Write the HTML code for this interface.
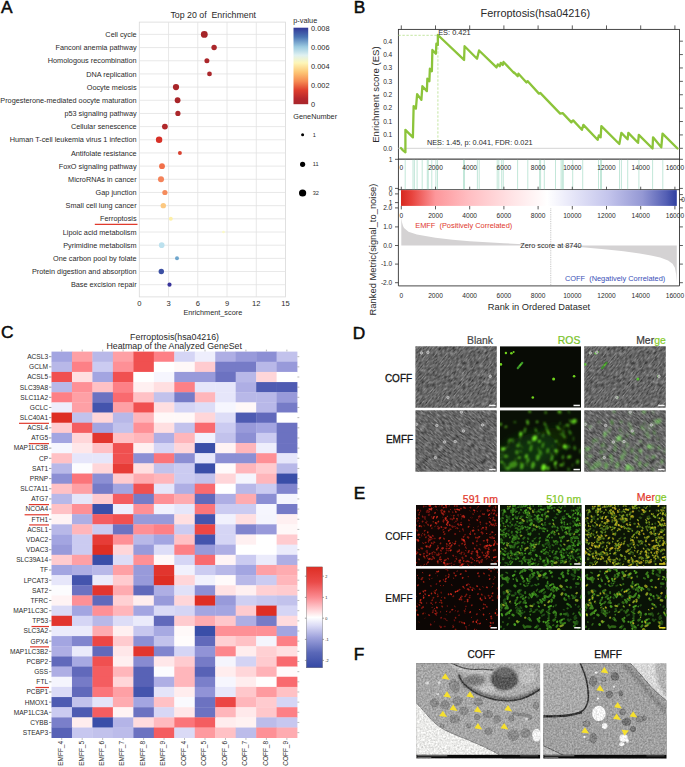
<!DOCTYPE html>
<html><head><meta charset="utf-8"><title>Figure</title>
<style>html,body{margin:0;padding:0;background:#fff;}svg text{font-family:"Liberation Sans",sans-serif;}</style></head>
<body><svg width="685" height="767" viewBox="0 0 685 767" style="display:block;font-family:'Liberation Sans',sans-serif">
<defs><linearGradient id="pv" x1="0" y1="0" x2="0" y2="1"><stop offset="0" stop-color="#313695"/><stop offset="0.12" stop-color="#4a74b4"/><stop offset="0.25" stop-color="#9ccbe1"/><stop offset="0.36" stop-color="#dff1f1"/><stop offset="0.46" stop-color="#fdf6b8"/><stop offset="0.58" stop-color="#fdc776"/><stop offset="0.7" stop-color="#f68b52"/><stop offset="0.82" stop-color="#dd3d2d"/><stop offset="0.93" stop-color="#b5262c"/><stop offset="1" stop-color="#a8272c"/></linearGradient><linearGradient id="rb" x1="0" y1="0" x2="1" y2="0"><stop offset="0" stop-color="#d6281e"/><stop offset="0.04" stop-color="#e8443e"/><stop offset="0.125" stop-color="#fd979b"/><stop offset="0.25" stop-color="#ffbfc3"/><stop offset="0.4" stop-color="#ffe3e5"/><stop offset="0.53" stop-color="#fff"/><stop offset="0.6" stop-color="#ececfa"/><stop offset="0.75" stop-color="#c4c5ec"/><stop offset="0.875" stop-color="#9498d4"/><stop offset="0.96" stop-color="#5560b5"/><stop offset="1" stop-color="#2f3f9f"/></linearGradient><linearGradient id="hb" x1="0" y1="0" x2="0" y2="1"><stop offset="0" stop-color="#de2e24"/><stop offset="0.15" stop-color="#ea4a48"/><stop offset="0.3" stop-color="#fb8a90"/><stop offset="0.42" stop-color="#ffd0d4"/><stop offset="0.5" stop-color="#fff"/><stop offset="0.58" stop-color="#dcdcf6"/><stop offset="0.7" stop-color="#9ea2dc"/><stop offset="0.85" stop-color="#5a68b8"/><stop offset="1" stop-color="#3448a4"/></linearGradient><filter id="gn" x="0" y="0" width="100%" height="100%" color-interpolation-filters="sRGB"><feTurbulence type="fractalNoise" baseFrequency="0.22 0.75" numOctaves="2" seed="5" result="n"/><feColorMatrix in="n" type="matrix" values="0.62 0 0 0 0.088  0.62 0 0 0 0.088  0.62 0 0 0 0.088  0 0 0 0 1"/></filter><filter id="gn2" x="0" y="0" width="100%" height="100%" color-interpolation-filters="sRGB"><feTurbulence type="fractalNoise" baseFrequency="0.22 0.75" numOctaves="2" seed="11" result="n"/><feColorMatrix in="n" type="matrix" values="0.62 0 0 0 0.088  0.62 0 0 0 0.088  0.62 0 0 0 0.088  0 0 0 0 1"/></filter><filter id="b1" x="-20%" y="-20%" width="140%" height="140%"><feGaussianBlur stdDeviation="0.45"/></filter><filter id="b2" x="-20%" y="-20%" width="140%" height="140%"><feGaussianBlur stdDeviation="0.9"/></filter><filter id="b3" x="-50%" y="-50%" width="200%" height="200%"><feGaussianBlur stdDeviation="5"/></filter><filter id="b15" x="-20%" y="-20%" width="140%" height="140%"><feGaussianBlur stdDeviation="0.8"/></filter><filter id="b0" x="-20%" y="-20%" width="140%" height="140%"><feGaussianBlur stdDeviation="0.3"/></filter><filter id="tn" x="0" y="0" width="100%" height="100%" color-interpolation-filters="sRGB"><feTurbulence type="fractalNoise" baseFrequency="0.55" numOctaves="2" seed="9" result="n"/><feColorMatrix in="n" type="matrix" values="0.34 0 0 0 0  0.34 0 0 0 0  0.34 0 0 0 0  0 0 0 0 1" result="m"/><feComposite in="SourceGraphic" in2="m" operator="arithmetic" k1="0" k2="1" k3="1" k4="-0.17"/></filter><filter id="tn2" x="0" y="0" width="100%" height="100%" color-interpolation-filters="sRGB"><feTurbulence type="fractalNoise" baseFrequency="0.55" numOctaves="2" seed="4" result="n"/><feColorMatrix in="n" type="matrix" values="0.34 0 0 0 0  0.34 0 0 0 0  0.34 0 0 0 0  0 0 0 0 1" result="m"/><feComposite in="SourceGraphic" in2="m" operator="arithmetic" k1="0" k2="1" k3="1" k4="-0.17"/></filter></defs>
<rect width="685" height="767" fill="#fff"/>
<text x="1.0" y="12.6" font-size="17.3" fill="#0a0a0a" stroke="#0a0a0a" stroke-width="0.5">A</text>
<text x="353.65" y="12.6" font-size="17.3" fill="#0a0a0a" stroke="#0a0a0a" stroke-width="0.5">B</text>
<text x="1.05" y="338.4" font-size="17.3" fill="#0a0a0a" stroke="#0a0a0a" stroke-width="0.5">C</text>
<text x="352.7" y="338.7" font-size="17.3" fill="#0a0a0a" stroke="#0a0a0a" stroke-width="0.5">D</text>
<text x="353.8" y="498.9" font-size="17.3" fill="#0a0a0a" stroke="#0a0a0a" stroke-width="0.5">E</text>
<text x="353.7" y="659.9" font-size="17.3" fill="#0a0a0a" stroke="#0a0a0a" stroke-width="0.5">F</text>
<rect x="139.3" y="22.1" width="146.2" height="274.79999999999995" fill="#fff" stroke="#d9d9d9" stroke-width="0.8"/>
<line x1="139.3" x2="285.5" y1="34.40" y2="34.40" stroke="#e2e2e2" stroke-width="0.8"/>
<line x1="139.3" x2="285.5" y1="47.57" y2="47.57" stroke="#e2e2e2" stroke-width="0.8"/>
<line x1="139.3" x2="285.5" y1="60.75" y2="60.75" stroke="#e2e2e2" stroke-width="0.8"/>
<line x1="139.3" x2="285.5" y1="73.92" y2="73.92" stroke="#e2e2e2" stroke-width="0.8"/>
<line x1="139.3" x2="285.5" y1="87.09" y2="87.09" stroke="#e2e2e2" stroke-width="0.8"/>
<line x1="139.3" x2="285.5" y1="100.27" y2="100.27" stroke="#e2e2e2" stroke-width="0.8"/>
<line x1="139.3" x2="285.5" y1="113.44" y2="113.44" stroke="#e2e2e2" stroke-width="0.8"/>
<line x1="139.3" x2="285.5" y1="126.62" y2="126.62" stroke="#e2e2e2" stroke-width="0.8"/>
<line x1="139.3" x2="285.5" y1="139.79" y2="139.79" stroke="#e2e2e2" stroke-width="0.8"/>
<line x1="139.3" x2="285.5" y1="152.96" y2="152.96" stroke="#e2e2e2" stroke-width="0.8"/>
<line x1="139.3" x2="285.5" y1="166.14" y2="166.14" stroke="#e2e2e2" stroke-width="0.8"/>
<line x1="139.3" x2="285.5" y1="179.31" y2="179.31" stroke="#e2e2e2" stroke-width="0.8"/>
<line x1="139.3" x2="285.5" y1="192.48" y2="192.48" stroke="#e2e2e2" stroke-width="0.8"/>
<line x1="139.3" x2="285.5" y1="205.66" y2="205.66" stroke="#e2e2e2" stroke-width="0.8"/>
<line x1="139.3" x2="285.5" y1="218.83" y2="218.83" stroke="#e2e2e2" stroke-width="0.8"/>
<line x1="139.3" x2="285.5" y1="232.01" y2="232.01" stroke="#e2e2e2" stroke-width="0.8"/>
<line x1="139.3" x2="285.5" y1="245.18" y2="245.18" stroke="#e2e2e2" stroke-width="0.8"/>
<line x1="139.3" x2="285.5" y1="258.35" y2="258.35" stroke="#e2e2e2" stroke-width="0.8"/>
<line x1="139.3" x2="285.5" y1="271.53" y2="271.53" stroke="#e2e2e2" stroke-width="0.8"/>
<line x1="139.3" x2="285.5" y1="284.70" y2="284.70" stroke="#e2e2e2" stroke-width="0.8"/>
<line x1="168.54" x2="168.54" y1="22.1" y2="296.9" stroke="#e2e2e2" stroke-width="0.8"/>
<line x1="197.78" x2="197.78" y1="22.1" y2="296.9" stroke="#e2e2e2" stroke-width="0.8"/>
<line x1="227.02" x2="227.02" y1="22.1" y2="296.9" stroke="#e2e2e2" stroke-width="0.8"/>
<line x1="256.26" x2="256.26" y1="22.1" y2="296.9" stroke="#e2e2e2" stroke-width="0.8"/>
<text x="136.60" y="37.01" font-size="7.3" text-anchor="end" fill="#2a2a2a" font-weight="normal" >Cell cycle</text>
<text x="136.60" y="50.19" font-size="7.3" text-anchor="end" fill="#2a2a2a" font-weight="normal" >Fanconi anemia pathway</text>
<text x="136.60" y="63.36" font-size="7.3" text-anchor="end" fill="#2a2a2a" font-weight="normal" >Homologous recombination</text>
<text x="136.60" y="76.53" font-size="7.3" text-anchor="end" fill="#2a2a2a" font-weight="normal" >DNA replication</text>
<text x="136.60" y="89.71" font-size="7.3" text-anchor="end" fill="#2a2a2a" font-weight="normal" >Oocyte meiosis</text>
<text x="136.60" y="102.88" font-size="7.3" text-anchor="end" fill="#2a2a2a" font-weight="normal" >Progesterone-mediated oocyte maturation</text>
<text x="136.60" y="116.06" font-size="7.3" text-anchor="end" fill="#2a2a2a" font-weight="normal" >p53 signaling pathway</text>
<text x="136.60" y="129.23" font-size="7.3" text-anchor="end" fill="#2a2a2a" font-weight="normal" >Cellular senescence</text>
<text x="136.60" y="142.40" font-size="7.3" text-anchor="end" fill="#2a2a2a" font-weight="normal" >Human T-cell leukemia virus 1 infection</text>
<text x="136.60" y="155.58" font-size="7.3" text-anchor="end" fill="#2a2a2a" font-weight="normal" >Antifolate resistance</text>
<text x="136.60" y="168.75" font-size="7.3" text-anchor="end" fill="#2a2a2a" font-weight="normal" >FoxO signaling pathway</text>
<text x="136.60" y="181.92" font-size="7.3" text-anchor="end" fill="#2a2a2a" font-weight="normal" >MicroRNAs in cancer</text>
<text x="136.60" y="195.10" font-size="7.3" text-anchor="end" fill="#2a2a2a" font-weight="normal" >Gap junction</text>
<text x="136.60" y="208.27" font-size="7.3" text-anchor="end" fill="#2a2a2a" font-weight="normal" >Small cell lung cancer</text>
<text x="136.60" y="221.44" font-size="7.3" text-anchor="end" fill="#2a2a2a" font-weight="normal" >Ferroptosis</text>
<text x="136.60" y="234.62" font-size="7.3" text-anchor="end" fill="#2a2a2a" font-weight="normal" >Lipoic acid metabolism</text>
<text x="136.60" y="247.79" font-size="7.3" text-anchor="end" fill="#2a2a2a" font-weight="normal" >Pyrimidine metabolism</text>
<text x="136.60" y="260.97" font-size="7.3" text-anchor="end" fill="#2a2a2a" font-weight="normal" >One carbon pool by folate</text>
<text x="136.60" y="274.14" font-size="7.3" text-anchor="end" fill="#2a2a2a" font-weight="normal" >Protein digestion and absorption</text>
<text x="136.60" y="287.31" font-size="7.3" text-anchor="end" fill="#2a2a2a" font-weight="normal" >Base excision repair</text>
<circle cx="204.3" cy="34.40" r="3.43" fill="#a52428"/>
<circle cx="214.1" cy="47.57" r="2.70" fill="#ab272b"/>
<circle cx="206.9" cy="60.75" r="2.50" fill="#ab272b"/>
<circle cx="209.5" cy="73.92" r="2.39" fill="#ab272b"/>
<circle cx="176.0" cy="87.09" r="3.12" fill="#a82529"/>
<circle cx="177.6" cy="100.27" r="2.91" fill="#a82529"/>
<circle cx="177.9" cy="113.44" r="2.60" fill="#ab272b"/>
<circle cx="164.9" cy="126.62" r="2.91" fill="#b0282b"/>
<circle cx="159.1" cy="139.79" r="3.22" fill="#d73027"/>
<circle cx="179.9" cy="152.96" r="1.98" fill="#d8412f"/>
<circle cx="162.0" cy="166.14" r="2.91" fill="#f1704a"/>
<circle cx="161.0" cy="179.31" r="3.02" fill="#f4835a"/>
<circle cx="164.9" cy="192.48" r="2.60" fill="#f58c5c"/>
<circle cx="163.3" cy="205.66" r="2.70" fill="#fcc880"/>
<circle cx="170.8" cy="218.83" r="1.98" fill="#fdf0a8"/>
<circle cx="223.5" cy="232.01" r="1.35" fill="#fbfac6"/>
<circle cx="161.7" cy="245.18" r="2.81" fill="#bce1ee"/>
<circle cx="177.0" cy="258.35" r="1.98" fill="#6ea6cd"/>
<circle cx="161.3" cy="271.53" r="2.70" fill="#3c50a3"/>
<circle cx="169.5" cy="284.70" r="2.08" fill="#37339a"/>
<text x="139.30" y="305.52" font-size="7.6" text-anchor="middle" fill="#2a2a2a" font-weight="normal" >0</text>
<text x="168.54" y="305.52" font-size="7.6" text-anchor="middle" fill="#2a2a2a" font-weight="normal" >3</text>
<text x="197.78" y="305.52" font-size="7.6" text-anchor="middle" fill="#2a2a2a" font-weight="normal" >6</text>
<text x="227.02" y="305.52" font-size="7.6" text-anchor="middle" fill="#2a2a2a" font-weight="normal" >9</text>
<text x="256.26" y="305.52" font-size="7.6" text-anchor="middle" fill="#2a2a2a" font-weight="normal" >12</text>
<text x="285.50" y="305.52" font-size="7.6" text-anchor="middle" fill="#2a2a2a" font-weight="normal" >15</text>
<text x="212.80" y="314.81" font-size="7.3" text-anchor="middle" fill="#2a2a2a" font-weight="normal" >Enrichment_score</text>
<text x="213.20" y="17.75" font-size="8.8" text-anchor="middle" fill="#2a2a2a" font-weight="normal" xml:space="preserve">Top 20 of  Enrichment</text>
<line x1="94.8" x2="137.5" y1="224.4" y2="224.4" stroke="#e03a2c" stroke-width="1.3"/>
<rect x="293.5" y="27.7" width="14.7" height="76.5" fill="url(#pv)"/>
<text x="293.30" y="23.31" font-size="7.3" text-anchor="start" fill="#2a2a2a" font-weight="normal" >p-value</text>
<text x="311.00" y="31.45" font-size="7.4" text-anchor="start" fill="#2a2a2a" font-weight="normal" >0.008</text>
<text x="311.00" y="50.35" font-size="7.4" text-anchor="start" fill="#2a2a2a" font-weight="normal" >0.006</text>
<text x="311.00" y="69.25" font-size="7.4" text-anchor="start" fill="#2a2a2a" font-weight="normal" >0.004</text>
<text x="311.00" y="88.15" font-size="7.4" text-anchor="start" fill="#2a2a2a" font-weight="normal" >0.002</text>
<text x="311.00" y="107.05" font-size="7.4" text-anchor="start" fill="#2a2a2a" font-weight="normal" >0</text>
<text x="293.30" y="119.21" font-size="7.3" text-anchor="start" fill="#2a2a2a" font-weight="normal" >GeneNumber</text>
<circle cx="302.6" cy="134.8" r="1.5" fill="#000"/>
<text x="312.70" y="136.80" font-size="5.6" text-anchor="start" fill="#2a2a2a" font-weight="normal" >1</text>
<circle cx="302.6" cy="164.3" r="2.6" fill="#000"/>
<text x="312.70" y="166.30" font-size="5.6" text-anchor="start" fill="#2a2a2a" font-weight="normal" >11</text>
<circle cx="302.6" cy="193.0" r="3.6" fill="#000"/>
<text x="312.70" y="195.00" font-size="5.6" text-anchor="start" fill="#2a2a2a" font-weight="normal" >32</text>
<rect x="398.4" y="29.4" width="281.1" height="129.8" fill="#fff" stroke="#333" stroke-width="0.9"/>
<line x1="398.4" x2="679.5" y1="148.3" y2="148.3" stroke="#d4d4d4" stroke-width="1"/>
<line x1="401.30" x2="401.30" y1="25.4" y2="29.4" stroke="#333" stroke-width="0.8"/>
<line x1="401.30" x2="401.30" y1="159.2" y2="161.6" stroke="#333" stroke-width="0.8"/>
<line x1="435.50" x2="435.50" y1="25.4" y2="29.4" stroke="#333" stroke-width="0.8"/>
<line x1="435.50" x2="435.50" y1="159.2" y2="161.6" stroke="#333" stroke-width="0.8"/>
<line x1="469.70" x2="469.70" y1="25.4" y2="29.4" stroke="#333" stroke-width="0.8"/>
<line x1="469.70" x2="469.70" y1="159.2" y2="161.6" stroke="#333" stroke-width="0.8"/>
<line x1="503.90" x2="503.90" y1="25.4" y2="29.4" stroke="#333" stroke-width="0.8"/>
<line x1="503.90" x2="503.90" y1="159.2" y2="161.6" stroke="#333" stroke-width="0.8"/>
<line x1="538.10" x2="538.10" y1="25.4" y2="29.4" stroke="#333" stroke-width="0.8"/>
<line x1="538.10" x2="538.10" y1="159.2" y2="161.6" stroke="#333" stroke-width="0.8"/>
<line x1="572.30" x2="572.30" y1="25.4" y2="29.4" stroke="#333" stroke-width="0.8"/>
<line x1="572.30" x2="572.30" y1="159.2" y2="161.6" stroke="#333" stroke-width="0.8"/>
<line x1="606.50" x2="606.50" y1="25.4" y2="29.4" stroke="#333" stroke-width="0.8"/>
<line x1="606.50" x2="606.50" y1="159.2" y2="161.6" stroke="#333" stroke-width="0.8"/>
<line x1="640.70" x2="640.70" y1="25.4" y2="29.4" stroke="#333" stroke-width="0.8"/>
<line x1="640.70" x2="640.70" y1="159.2" y2="161.6" stroke="#333" stroke-width="0.8"/>
<line x1="674.90" x2="674.90" y1="25.4" y2="29.4" stroke="#333" stroke-width="0.8"/>
<line x1="674.90" x2="674.90" y1="159.2" y2="161.6" stroke="#333" stroke-width="0.8"/>
<line x1="679.5" x2="682.9" y1="148.30" y2="148.30" stroke="#333" stroke-width="0.8"/>
<text x="392.30" y="150.66" font-size="6.6" text-anchor="end" fill="#2a2a2a" font-weight="normal" >0.0</text>
<line x1="679.5" x2="682.9" y1="134.91" y2="134.91" stroke="#333" stroke-width="0.8"/>
<text x="392.30" y="137.27" font-size="6.6" text-anchor="end" fill="#2a2a2a" font-weight="normal" >0.1</text>
<line x1="679.5" x2="682.9" y1="121.52" y2="121.52" stroke="#333" stroke-width="0.8"/>
<text x="392.30" y="123.88" font-size="6.6" text-anchor="end" fill="#2a2a2a" font-weight="normal" >0.1</text>
<line x1="679.5" x2="682.9" y1="108.13" y2="108.13" stroke="#333" stroke-width="0.8"/>
<text x="392.30" y="110.49" font-size="6.6" text-anchor="end" fill="#2a2a2a" font-weight="normal" >0.2</text>
<line x1="679.5" x2="682.9" y1="94.74" y2="94.74" stroke="#333" stroke-width="0.8"/>
<text x="392.30" y="97.10" font-size="6.6" text-anchor="end" fill="#2a2a2a" font-weight="normal" >0.2</text>
<line x1="679.5" x2="682.9" y1="81.35" y2="81.35" stroke="#333" stroke-width="0.8"/>
<text x="392.30" y="83.71" font-size="6.6" text-anchor="end" fill="#2a2a2a" font-weight="normal" >0.3</text>
<line x1="679.5" x2="682.9" y1="67.96" y2="67.96" stroke="#333" stroke-width="0.8"/>
<text x="392.30" y="70.32" font-size="6.6" text-anchor="end" fill="#2a2a2a" font-weight="normal" >0.3</text>
<line x1="679.5" x2="682.9" y1="54.57" y2="54.57" stroke="#333" stroke-width="0.8"/>
<text x="392.30" y="56.93" font-size="6.6" text-anchor="end" fill="#2a2a2a" font-weight="normal" >0.4</text>
<line x1="679.5" x2="682.9" y1="41.18" y2="41.18" stroke="#333" stroke-width="0.8"/>
<text x="392.30" y="43.54" font-size="6.6" text-anchor="end" fill="#2a2a2a" font-weight="normal" >0.4</text>
<line x1="398.4" x2="437.9" y1="35.3" y2="35.3" stroke="#b5e08a" stroke-width="0.8" stroke-dasharray="2.4,1.6"/>
<line x1="437.9" x2="437.9" y1="35.3" y2="148.3" stroke="#b5e08a" stroke-width="0.8" stroke-dasharray="2.4,1.6"/>
<polyline fill="none" stroke="#8cc43a" stroke-width="2.3" stroke-linejoin="round" stroke-linecap="round" points="400.91,148.06 402.41,149.81 405.41,152.30 405.41,129.84 412.90,137.32 413.64,106.12 415.89,108.62 417.14,94.14 421.38,99.88 422.38,86.15 426.87,91.14 427.37,78.66 429.37,81.16 429.87,68.68 431.87,71.17 432.37,49.96 435.86,53.70 436.36,43.71 437.86,44.96 437.86,34.98 464.07,59.94 464.57,46.21 477.05,58.69 479.05,50.45 496.52,67.43 497.77,64.43 499.76,66.18 500.76,62.94 502.76,64.93 503.51,61.94 513.99,72.92 514.00,72.42 517.74,76.17 518.49,73.67 526.48,82.41 527.73,81.16 538.96,93.64 540.21,92.89 560.18,113.61 562.68,113.11 571.41,122.35 573.16,120.35 581.90,129.84 583.40,124.84 597.62,139.82 598.87,135.33 600.62,137.32 601.37,126.09 619.34,144.06 621.34,132.83 627.58,139.32 628.33,132.83 638.06,142.82 638.81,134.83 652.54,148.56 653.04,137.32 661.28,147.31 662.53,133.58 677.50,148.56"/>
<text x="438.20" y="35.25" font-size="7.4" text-anchor="start" fill="#2a2a2a" font-weight="normal" >ES: 0.421</text>
<text x="426.90" y="144.63" font-size="7.35" text-anchor="start" fill="#2a2a2a" font-weight="normal" >NES: 1.45, p: 0.041, FDR: 0.021</text>
<text x="535.30" y="17.30" font-size="10.9" text-anchor="middle" fill="#2a2a2a" font-weight="normal" >Ferroptosis(hsa04216)</text>
<text transform="translate(378.9,94.6) rotate(-90)" font-size="9.6" text-anchor="middle" fill="#2a2a2a">Enrichment score (ES)</text>
<rect x="398.4" y="159.2" width="281.1" height="30.5" fill="#fff" stroke="#333" stroke-width="0.9"/>
<line x1="405.2" x2="405.2" y1="159.8" y2="189.2" stroke="#a9dcc8" stroke-width="0.7"/>
<line x1="413" x2="413" y1="159.8" y2="189.2" stroke="#a9dcc8" stroke-width="0.7"/>
<line x1="414.4" x2="414.4" y1="159.8" y2="189.2" stroke="#a9dcc8" stroke-width="0.7"/>
<line x1="417.1" x2="417.1" y1="159.8" y2="189.2" stroke="#a9dcc8" stroke-width="0.7"/>
<line x1="422.2" x2="422.2" y1="159.8" y2="189.2" stroke="#a9dcc8" stroke-width="0.7"/>
<line x1="427.3" x2="427.3" y1="159.8" y2="189.2" stroke="#a9dcc8" stroke-width="0.7"/>
<line x1="428.3" x2="428.3" y1="159.8" y2="189.2" stroke="#a9dcc8" stroke-width="0.7"/>
<line x1="431.8" x2="431.8" y1="159.8" y2="189.2" stroke="#a9dcc8" stroke-width="0.7"/>
<line x1="435.9" x2="435.9" y1="159.8" y2="189.2" stroke="#a9dcc8" stroke-width="0.7"/>
<line x1="437.5" x2="437.5" y1="159.8" y2="189.2" stroke="#a9dcc8" stroke-width="0.7"/>
<line x1="463.5" x2="463.5" y1="159.8" y2="189.2" stroke="#a9dcc8" stroke-width="0.7"/>
<line x1="464.5" x2="464.5" y1="159.8" y2="189.2" stroke="#a9dcc8" stroke-width="0.7"/>
<line x1="477.4" x2="477.4" y1="159.8" y2="189.2" stroke="#a9dcc8" stroke-width="0.7"/>
<line x1="479.2" x2="479.2" y1="159.8" y2="189.2" stroke="#a9dcc8" stroke-width="0.7"/>
<line x1="497.2" x2="497.2" y1="159.8" y2="189.2" stroke="#a9dcc8" stroke-width="0.7"/>
<line x1="498.8" x2="498.8" y1="159.8" y2="189.2" stroke="#a9dcc8" stroke-width="0.7"/>
<line x1="501.7" x2="501.7" y1="159.8" y2="189.2" stroke="#a9dcc8" stroke-width="0.7"/>
<line x1="503.3" x2="503.3" y1="159.8" y2="189.2" stroke="#a9dcc8" stroke-width="0.7"/>
<line x1="517.6" x2="517.6" y1="159.8" y2="189.2" stroke="#a9dcc8" stroke-width="0.7"/>
<line x1="527.8" x2="527.8" y1="159.8" y2="189.2" stroke="#a9dcc8" stroke-width="0.7"/>
<line x1="539.6" x2="539.6" y1="159.8" y2="189.2" stroke="#a9dcc8" stroke-width="0.7"/>
<line x1="540.6" x2="540.6" y1="159.8" y2="189.2" stroke="#a9dcc8" stroke-width="0.7"/>
<line x1="544.3" x2="544.3" y1="159.8" y2="189.2" stroke="#a9dcc8" stroke-width="0.7"/>
<line x1="555.5" x2="555.5" y1="159.8" y2="189.2" stroke="#a9dcc8" stroke-width="0.7"/>
<line x1="561.1" x2="561.1" y1="159.8" y2="189.2" stroke="#a9dcc8" stroke-width="0.7"/>
<line x1="562.3" x2="562.3" y1="159.8" y2="189.2" stroke="#a9dcc8" stroke-width="0.7"/>
<line x1="563.3" x2="563.3" y1="159.8" y2="189.2" stroke="#a9dcc8" stroke-width="0.7"/>
<line x1="572.7" x2="572.7" y1="159.8" y2="189.2" stroke="#a9dcc8" stroke-width="0.7"/>
<line x1="582.7" x2="582.7" y1="159.8" y2="189.2" stroke="#a9dcc8" stroke-width="0.7"/>
<line x1="598.5" x2="598.5" y1="159.8" y2="189.2" stroke="#a9dcc8" stroke-width="0.7"/>
<line x1="600.5" x2="600.5" y1="159.8" y2="189.2" stroke="#a9dcc8" stroke-width="0.7"/>
<line x1="601.5" x2="601.5" y1="159.8" y2="189.2" stroke="#a9dcc8" stroke-width="0.7"/>
<line x1="619.5" x2="619.5" y1="159.8" y2="189.2" stroke="#a9dcc8" stroke-width="0.7"/>
<line x1="621.4" x2="621.4" y1="159.8" y2="189.2" stroke="#a9dcc8" stroke-width="0.7"/>
<line x1="627.7" x2="627.7" y1="159.8" y2="189.2" stroke="#a9dcc8" stroke-width="0.7"/>
<line x1="638.9" x2="638.9" y1="159.8" y2="189.2" stroke="#a9dcc8" stroke-width="0.7"/>
<line x1="652.6" x2="652.6" y1="159.8" y2="189.2" stroke="#a9dcc8" stroke-width="0.7"/>
<line x1="662.8" x2="662.8" y1="159.8" y2="189.2" stroke="#a9dcc8" stroke-width="0.7"/>
<line x1="401.30" x2="401.30" y1="186.7" y2="189.7" stroke="#333" stroke-width="0.8"/>
<line x1="401.30" x2="401.30" y1="205.9" y2="209.4" stroke="#333" stroke-width="0.8"/>
<text x="401.30" y="169.56" font-size="6.6" text-anchor="middle" fill="#2a2a2a" font-weight="normal" >0</text>
<line x1="435.50" x2="435.50" y1="186.7" y2="189.7" stroke="#333" stroke-width="0.8"/>
<line x1="435.50" x2="435.50" y1="205.9" y2="209.4" stroke="#333" stroke-width="0.8"/>
<text x="435.50" y="169.56" font-size="6.6" text-anchor="middle" fill="#2a2a2a" font-weight="normal" >2000</text>
<line x1="469.70" x2="469.70" y1="186.7" y2="189.7" stroke="#333" stroke-width="0.8"/>
<line x1="469.70" x2="469.70" y1="205.9" y2="209.4" stroke="#333" stroke-width="0.8"/>
<text x="469.70" y="169.56" font-size="6.6" text-anchor="middle" fill="#2a2a2a" font-weight="normal" >4000</text>
<line x1="503.90" x2="503.90" y1="186.7" y2="189.7" stroke="#333" stroke-width="0.8"/>
<line x1="503.90" x2="503.90" y1="205.9" y2="209.4" stroke="#333" stroke-width="0.8"/>
<text x="503.90" y="169.56" font-size="6.6" text-anchor="middle" fill="#2a2a2a" font-weight="normal" >6000</text>
<line x1="538.10" x2="538.10" y1="186.7" y2="189.7" stroke="#333" stroke-width="0.8"/>
<line x1="538.10" x2="538.10" y1="205.9" y2="209.4" stroke="#333" stroke-width="0.8"/>
<text x="538.10" y="169.56" font-size="6.6" text-anchor="middle" fill="#2a2a2a" font-weight="normal" >8000</text>
<line x1="572.30" x2="572.30" y1="186.7" y2="189.7" stroke="#333" stroke-width="0.8"/>
<line x1="572.30" x2="572.30" y1="205.9" y2="209.4" stroke="#333" stroke-width="0.8"/>
<text x="572.30" y="169.56" font-size="6.6" text-anchor="middle" fill="#2a2a2a" font-weight="normal" >10000</text>
<line x1="606.50" x2="606.50" y1="186.7" y2="189.7" stroke="#333" stroke-width="0.8"/>
<line x1="606.50" x2="606.50" y1="205.9" y2="209.4" stroke="#333" stroke-width="0.8"/>
<text x="606.50" y="169.56" font-size="6.6" text-anchor="middle" fill="#2a2a2a" font-weight="normal" >12000</text>
<line x1="640.70" x2="640.70" y1="186.7" y2="189.7" stroke="#333" stroke-width="0.8"/>
<line x1="640.70" x2="640.70" y1="205.9" y2="209.4" stroke="#333" stroke-width="0.8"/>
<text x="640.70" y="169.56" font-size="6.6" text-anchor="middle" fill="#2a2a2a" font-weight="normal" >14000</text>
<line x1="674.90" x2="674.90" y1="186.7" y2="189.7" stroke="#333" stroke-width="0.8"/>
<line x1="674.90" x2="674.90" y1="205.9" y2="209.4" stroke="#333" stroke-width="0.8"/>
<text x="674.90" y="169.56" font-size="6.6" text-anchor="middle" fill="#2a2a2a" font-weight="normal" >16000</text>
<line x1="395.0" x2="398.4" y1="159.3" y2="159.3" stroke="#333" stroke-width="0.8"/>
<line x1="679.5" x2="682.9" y1="159.3" y2="159.3" stroke="#333" stroke-width="0.8"/>
<text x="392.30" y="161.66" font-size="6.6" text-anchor="end" fill="#2a2a2a" font-weight="normal" >1</text>
<line x1="395.0" x2="398.4" y1="188.4" y2="188.4" stroke="#333" stroke-width="0.8"/>
<line x1="679.5" x2="682.9" y1="188.4" y2="188.4" stroke="#333" stroke-width="0.8"/>
<text x="392.30" y="190.76" font-size="6.6" text-anchor="end" fill="#2a2a2a" font-weight="normal" >0</text>
<rect x="401.0" y="190.1" width="275.79999999999995" height="15.8" fill="url(#rb)"/>
<line x1="398.4" x2="398.4" y1="188.7" y2="207.9" stroke="#333" stroke-width="0.9"/>
<line x1="679.5" x2="679.5" y1="188.7" y2="207.9" stroke="#333" stroke-width="0.9"/>
<line x1="395.0" x2="398.4" y1="193.9" y2="193.9" stroke="#333" stroke-width="0.8"/>
<text x="392.30" y="196.26" font-size="6.6" text-anchor="end" fill="#2a2a2a" font-weight="normal" >0</text>
<line x1="395.0" x2="398.4" y1="202.6" y2="202.6" stroke="#333" stroke-width="0.8"/>
<text x="392.30" y="204.96" font-size="6.6" text-anchor="end" fill="#2a2a2a" font-weight="normal" >1</text>
<line x1="679.5" x2="682.9" y1="199.7" y2="199.7" stroke="#333" stroke-width="0.8"/>
<line x1="679.5" x2="682.9" y1="194.6" y2="194.6" stroke="#333" stroke-width="0.8"/>
<text x="681.20" y="202.06" font-size="6.6" text-anchor="start" fill="#2a2a2a" font-weight="normal" >0.</text>
<path d="M398.4 207.9V285.9H679.5V207.9" fill="none" stroke="#333" stroke-width="0.9"/>
<polygon fill="#d4d2d3" points="401.30,245.50 401.30,217.60 401.98,222.25 403.01,225.97 404.04,228.02 408.48,231.74 416.86,234.53 435.50,237.87 452.60,239.73 469.70,241.13 486.80,242.34 503.90,243.27 526.99,244.57 550.75,245.50 563.75,246.43 582.22,247.36 606.84,249.41 623.60,251.27 639.67,253.50 650.96,255.54 660.19,257.59 668.06,260.38 672.51,263.73 674.90,267.82 676.10,274.33 676.78,282.70 676.78,245.50"/>
<line x1="550.75" x2="550.75" y1="208.5" y2="285.5" stroke="#9a9a9a" stroke-width="0.7" stroke-dasharray="0.8,1"/>
<line x1="395.0" x2="398.4" y1="207.90" y2="207.90" stroke="#333" stroke-width="0.8"/>
<line x1="679.5" x2="682.9" y1="207.90" y2="207.90" stroke="#333" stroke-width="0.8"/>
<text x="392.30" y="210.26" font-size="6.6" text-anchor="end" fill="#2a2a2a" font-weight="normal" >2.0</text>
<line x1="395.0" x2="398.4" y1="226.90" y2="226.90" stroke="#333" stroke-width="0.8"/>
<line x1="679.5" x2="682.9" y1="226.90" y2="226.90" stroke="#333" stroke-width="0.8"/>
<text x="392.30" y="229.26" font-size="6.6" text-anchor="end" fill="#2a2a2a" font-weight="normal" >1.0</text>
<line x1="395.0" x2="398.4" y1="245.50" y2="245.50" stroke="#333" stroke-width="0.8"/>
<line x1="679.5" x2="682.9" y1="245.50" y2="245.50" stroke="#333" stroke-width="0.8"/>
<text x="392.30" y="247.86" font-size="6.6" text-anchor="end" fill="#2a2a2a" font-weight="normal" >0.0</text>
<line x1="395.0" x2="398.4" y1="264.10" y2="264.10" stroke="#333" stroke-width="0.8"/>
<line x1="679.5" x2="682.9" y1="264.10" y2="264.10" stroke="#333" stroke-width="0.8"/>
<text x="392.30" y="266.46" font-size="6.6" text-anchor="end" fill="#2a2a2a" font-weight="normal" >-1.0</text>
<line x1="395.0" x2="398.4" y1="282.70" y2="282.70" stroke="#333" stroke-width="0.8"/>
<line x1="679.5" x2="682.9" y1="282.70" y2="282.70" stroke="#333" stroke-width="0.8"/>
<text x="392.30" y="285.06" font-size="6.6" text-anchor="end" fill="#2a2a2a" font-weight="normal" >-2.0</text>
<text x="401.30" y="218.06" font-size="6.6" text-anchor="middle" fill="#2a2a2a" font-weight="normal" >0</text>
<text x="401.30" y="298.06" font-size="6.6" text-anchor="middle" fill="#2a2a2a" font-weight="normal" >0</text>
<text x="435.50" y="218.06" font-size="6.6" text-anchor="middle" fill="#2a2a2a" font-weight="normal" >2000</text>
<text x="435.50" y="298.06" font-size="6.6" text-anchor="middle" fill="#2a2a2a" font-weight="normal" >2000</text>
<text x="469.70" y="218.06" font-size="6.6" text-anchor="middle" fill="#2a2a2a" font-weight="normal" >4000</text>
<text x="469.70" y="298.06" font-size="6.6" text-anchor="middle" fill="#2a2a2a" font-weight="normal" >4000</text>
<text x="503.90" y="218.06" font-size="6.6" text-anchor="middle" fill="#2a2a2a" font-weight="normal" >6000</text>
<text x="503.90" y="298.06" font-size="6.6" text-anchor="middle" fill="#2a2a2a" font-weight="normal" >6000</text>
<text x="538.10" y="218.06" font-size="6.6" text-anchor="middle" fill="#2a2a2a" font-weight="normal" >8000</text>
<text x="538.10" y="298.06" font-size="6.6" text-anchor="middle" fill="#2a2a2a" font-weight="normal" >8000</text>
<text x="572.30" y="218.06" font-size="6.6" text-anchor="middle" fill="#2a2a2a" font-weight="normal" >10000</text>
<text x="572.30" y="298.06" font-size="6.6" text-anchor="middle" fill="#2a2a2a" font-weight="normal" >10000</text>
<text x="606.50" y="218.06" font-size="6.6" text-anchor="middle" fill="#2a2a2a" font-weight="normal" >12000</text>
<text x="606.50" y="298.06" font-size="6.6" text-anchor="middle" fill="#2a2a2a" font-weight="normal" >12000</text>
<text x="640.70" y="218.06" font-size="6.6" text-anchor="middle" fill="#2a2a2a" font-weight="normal" >14000</text>
<text x="640.70" y="298.06" font-size="6.6" text-anchor="middle" fill="#2a2a2a" font-weight="normal" >14000</text>
<text x="674.90" y="218.06" font-size="6.6" text-anchor="middle" fill="#2a2a2a" font-weight="normal" >16000</text>
<text x="674.90" y="298.06" font-size="6.6" text-anchor="middle" fill="#2a2a2a" font-weight="normal" >16000</text>
<text x="415.20" y="228.26" font-size="7.42" text-anchor="start" fill="#e0382c" font-weight="normal" xml:space="preserve">EMFF  (Positively Correlated)</text>
<text x="520.30" y="248.41" font-size="7.3" text-anchor="start" fill="#2a2a2a" font-weight="normal" >Zero score at 8740</text>
<text x="564.90" y="281.16" font-size="7.42" text-anchor="start" fill="#3b50b8" font-weight="normal" xml:space="preserve">COFF  (Negatively Correlated)</text>
<text x="539.00" y="309.81" font-size="9.25" text-anchor="middle" fill="#2a2a2a" font-weight="normal" >Rank in Ordered Dataset</text>
<text transform="translate(375.5,249.5) rotate(-90)" font-size="9.4" text-anchor="middle" fill="#2a2a2a">Ranked Metric(signal_to_noise)</text>
<g>
<rect x="51.50" y="351.60" width="20.77" height="10.46" fill="rgb(163, 165, 225)"/>
<rect x="71.97" y="351.60" width="20.77" height="10.46" fill="rgb(254, 160, 165)"/>
<rect x="92.43" y="351.60" width="20.77" height="10.46" fill="rgb(184, 184, 232)"/>
<rect x="112.90" y="351.60" width="20.77" height="10.46" fill="rgb(254, 160, 165)"/>
<rect x="133.37" y="351.60" width="20.77" height="10.46" fill="rgb(240, 80, 80)"/>
<rect x="153.83" y="351.60" width="20.77" height="10.46" fill="rgb(253, 128, 134)"/>
<rect x="174.30" y="351.60" width="20.77" height="10.46" fill="rgb(213, 213, 245)"/>
<rect x="194.77" y="351.60" width="20.77" height="10.46" fill="rgb(238, 238, 252)"/>
<rect x="215.23" y="351.60" width="20.77" height="10.46" fill="rgb(174, 174, 228)"/>
<rect x="235.70" y="351.60" width="20.77" height="10.46" fill="rgb(152, 154, 218)"/>
<rect x="256.17" y="351.60" width="20.77" height="10.46" fill="rgb(140, 143, 212)"/>
<rect x="276.63" y="351.60" width="20.77" height="10.46" fill="rgb(194, 194, 236)"/>
<rect x="51.50" y="361.76" width="20.77" height="10.46" fill="rgb(184, 184, 232)"/>
<rect x="71.97" y="361.76" width="20.77" height="10.46" fill="rgb(253, 128, 134)"/>
<rect x="92.43" y="361.76" width="20.77" height="10.46" fill="rgb(203, 203, 241)"/>
<rect x="112.90" y="361.76" width="20.77" height="10.46" fill="rgb(254, 144, 150)"/>
<rect x="133.37" y="361.76" width="20.77" height="10.46" fill="rgb(240, 80, 80)"/>
<rect x="153.83" y="361.76" width="20.77" height="10.46" fill="rgb(255, 255, 255)"/>
<rect x="174.30" y="361.76" width="20.77" height="10.46" fill="rgb(255, 248, 248)"/>
<rect x="194.77" y="361.76" width="20.77" height="10.46" fill="rgb(255, 203, 207)"/>
<rect x="215.23" y="361.76" width="20.77" height="10.46" fill="rgb(118, 123, 199)"/>
<rect x="235.70" y="361.76" width="20.77" height="10.46" fill="rgb(118, 123, 199)"/>
<rect x="256.17" y="361.76" width="20.77" height="10.46" fill="rgb(184, 184, 232)"/>
<rect x="276.63" y="361.76" width="20.77" height="10.46" fill="rgb(152, 154, 218)"/>
<rect x="51.50" y="371.92" width="20.77" height="10.46" fill="rgb(240, 80, 80)"/>
<rect x="71.97" y="371.92" width="20.77" height="10.46" fill="rgb(255, 223, 225)"/>
<rect x="92.43" y="371.92" width="20.77" height="10.46" fill="rgb(163, 165, 225)"/>
<rect x="112.90" y="371.92" width="20.77" height="10.46" fill="rgb(240, 80, 80)"/>
<rect x="133.37" y="371.92" width="20.77" height="10.46" fill="rgb(255, 255, 255)"/>
<rect x="153.83" y="371.92" width="20.77" height="10.46" fill="rgb(246, 246, 254)"/>
<rect x="174.30" y="371.92" width="20.77" height="10.46" fill="rgb(152, 154, 218)"/>
<rect x="194.77" y="371.92" width="20.77" height="10.46" fill="rgb(152, 154, 218)"/>
<rect x="215.23" y="371.92" width="20.77" height="10.46" fill="rgb(108, 114, 193)"/>
<rect x="235.70" y="371.92" width="20.77" height="10.46" fill="rgb(184, 184, 232)"/>
<rect x="256.17" y="371.92" width="20.77" height="10.46" fill="rgb(255, 214, 217)"/>
<rect x="276.63" y="371.92" width="20.77" height="10.46" fill="rgb(255, 255, 255)"/>
<rect x="51.50" y="382.08" width="20.77" height="10.46" fill="rgb(184, 184, 232)"/>
<rect x="71.97" y="382.08" width="20.77" height="10.46" fill="rgb(254, 144, 150)"/>
<rect x="92.43" y="382.08" width="20.77" height="10.46" fill="rgb(255, 193, 197)"/>
<rect x="112.90" y="382.08" width="20.77" height="10.46" fill="rgb(253, 128, 134)"/>
<rect x="133.37" y="382.08" width="20.77" height="10.46" fill="rgb(255, 240, 241)"/>
<rect x="153.83" y="382.08" width="20.77" height="10.46" fill="rgb(255, 223, 225)"/>
<rect x="174.30" y="382.08" width="20.77" height="10.46" fill="rgb(253, 128, 134)"/>
<rect x="194.77" y="382.08" width="20.77" height="10.46" fill="rgb(230, 230, 250)"/>
<rect x="215.23" y="382.08" width="20.77" height="10.46" fill="rgb(230, 230, 250)"/>
<rect x="235.70" y="382.08" width="20.77" height="10.46" fill="rgb(174, 174, 228)"/>
<rect x="256.17" y="382.08" width="20.77" height="10.46" fill="rgb(78, 91, 178)"/>
<rect x="276.63" y="382.08" width="20.77" height="10.46" fill="rgb(78, 91, 178)"/>
<rect x="51.50" y="392.24" width="20.77" height="10.46" fill="rgb(253, 128, 134)"/>
<rect x="71.97" y="392.24" width="20.77" height="10.46" fill="rgb(254, 160, 165)"/>
<rect x="92.43" y="392.24" width="20.77" height="10.46" fill="rgb(108, 114, 193)"/>
<rect x="112.90" y="392.24" width="20.77" height="10.46" fill="rgb(249, 106, 111)"/>
<rect x="133.37" y="392.24" width="20.77" height="10.46" fill="rgb(255, 193, 197)"/>
<rect x="153.83" y="392.24" width="20.77" height="10.46" fill="rgb(194, 194, 236)"/>
<rect x="174.30" y="392.24" width="20.77" height="10.46" fill="rgb(118, 123, 199)"/>
<rect x="194.77" y="392.24" width="20.77" height="10.46" fill="rgb(255, 182, 187)"/>
<rect x="215.23" y="392.24" width="20.77" height="10.46" fill="rgb(230, 230, 250)"/>
<rect x="235.70" y="392.24" width="20.77" height="10.46" fill="rgb(184, 184, 232)"/>
<rect x="256.17" y="392.24" width="20.77" height="10.46" fill="rgb(184, 184, 232)"/>
<rect x="276.63" y="392.24" width="20.77" height="10.46" fill="rgb(152, 154, 218)"/>
<rect x="51.50" y="402.40" width="20.77" height="10.46" fill="rgb(238, 238, 252)"/>
<rect x="71.97" y="402.40" width="20.77" height="10.46" fill="rgb(254, 160, 165)"/>
<rect x="92.43" y="402.40" width="20.77" height="10.46" fill="rgb(68, 84, 173)"/>
<rect x="112.90" y="402.40" width="20.77" height="10.46" fill="rgb(254, 160, 165)"/>
<rect x="133.37" y="402.40" width="20.77" height="10.46" fill="rgb(240, 80, 80)"/>
<rect x="153.83" y="402.40" width="20.77" height="10.46" fill="rgb(255, 223, 225)"/>
<rect x="174.30" y="402.40" width="20.77" height="10.46" fill="rgb(213, 213, 245)"/>
<rect x="194.77" y="402.40" width="20.77" height="10.46" fill="rgb(221, 221, 247)"/>
<rect x="215.23" y="402.40" width="20.77" height="10.46" fill="rgb(246, 246, 254)"/>
<rect x="235.70" y="402.40" width="20.77" height="10.46" fill="rgb(255, 248, 248)"/>
<rect x="256.17" y="402.40" width="20.77" height="10.46" fill="rgb(184, 184, 232)"/>
<rect x="276.63" y="402.40" width="20.77" height="10.46" fill="rgb(118, 123, 199)"/>
<rect x="51.50" y="412.56" width="20.77" height="10.46" fill="rgb(222, 46, 36)"/>
<rect x="71.97" y="412.56" width="20.77" height="10.46" fill="rgb(194, 194, 236)"/>
<rect x="92.43" y="412.56" width="20.77" height="10.46" fill="rgb(255, 214, 217)"/>
<rect x="112.90" y="412.56" width="20.77" height="10.46" fill="rgb(184, 184, 232)"/>
<rect x="133.37" y="412.56" width="20.77" height="10.46" fill="rgb(255, 182, 187)"/>
<rect x="153.83" y="412.56" width="20.77" height="10.46" fill="rgb(255, 248, 248)"/>
<rect x="174.30" y="412.56" width="20.77" height="10.46" fill="rgb(255, 248, 248)"/>
<rect x="194.77" y="412.56" width="20.77" height="10.46" fill="rgb(255, 214, 217)"/>
<rect x="215.23" y="412.56" width="20.77" height="10.46" fill="rgb(221, 221, 247)"/>
<rect x="235.70" y="412.56" width="20.77" height="10.46" fill="rgb(78, 91, 178)"/>
<rect x="256.17" y="412.56" width="20.77" height="10.46" fill="rgb(97, 105, 187)"/>
<rect x="276.63" y="412.56" width="20.77" height="10.46" fill="rgb(255, 255, 255)"/>
<rect x="51.50" y="422.72" width="20.77" height="10.46" fill="rgb(255, 203, 207)"/>
<rect x="71.97" y="422.72" width="20.77" height="10.46" fill="rgb(244, 93, 96)"/>
<rect x="92.43" y="422.72" width="20.77" height="10.46" fill="rgb(163, 165, 225)"/>
<rect x="112.90" y="422.72" width="20.77" height="10.46" fill="rgb(194, 194, 236)"/>
<rect x="133.37" y="422.72" width="20.77" height="10.46" fill="rgb(254, 144, 150)"/>
<rect x="153.83" y="422.72" width="20.77" height="10.46" fill="rgb(255, 223, 225)"/>
<rect x="174.30" y="422.72" width="20.77" height="10.46" fill="rgb(194, 194, 236)"/>
<rect x="194.77" y="422.72" width="20.77" height="10.46" fill="rgb(249, 106, 111)"/>
<rect x="215.23" y="422.72" width="20.77" height="10.46" fill="rgb(203, 203, 241)"/>
<rect x="235.70" y="422.72" width="20.77" height="10.46" fill="rgb(152, 154, 218)"/>
<rect x="256.17" y="422.72" width="20.77" height="10.46" fill="rgb(163, 165, 225)"/>
<rect x="276.63" y="422.72" width="20.77" height="10.46" fill="rgb(108, 114, 193)"/>
<rect x="51.50" y="432.88" width="20.77" height="10.46" fill="rgb(163, 165, 225)"/>
<rect x="71.97" y="432.88" width="20.77" height="10.46" fill="rgb(255, 214, 217)"/>
<rect x="92.43" y="432.88" width="20.77" height="10.46" fill="rgb(226, 53, 46)"/>
<rect x="112.90" y="432.88" width="20.77" height="10.46" fill="rgb(255, 193, 197)"/>
<rect x="133.37" y="432.88" width="20.77" height="10.46" fill="rgb(255, 182, 187)"/>
<rect x="153.83" y="432.88" width="20.77" height="10.46" fill="rgb(174, 174, 228)"/>
<rect x="174.30" y="432.88" width="20.77" height="10.46" fill="rgb(255, 182, 187)"/>
<rect x="194.77" y="432.88" width="20.77" height="10.46" fill="rgb(241, 241, 253)"/>
<rect x="215.23" y="432.88" width="20.77" height="10.46" fill="rgb(194, 194, 236)"/>
<rect x="235.70" y="432.88" width="20.77" height="10.46" fill="rgb(140, 143, 212)"/>
<rect x="256.17" y="432.88" width="20.77" height="10.46" fill="rgb(203, 203, 241)"/>
<rect x="276.63" y="432.88" width="20.77" height="10.46" fill="rgb(108, 114, 193)"/>
<rect x="51.50" y="443.04" width="20.77" height="10.46" fill="rgb(246, 246, 254)"/>
<rect x="71.97" y="443.04" width="20.77" height="10.46" fill="rgb(255, 231, 233)"/>
<rect x="92.43" y="443.04" width="20.77" height="10.46" fill="rgb(255, 193, 197)"/>
<rect x="112.90" y="443.04" width="20.77" height="10.46" fill="rgb(240, 80, 80)"/>
<rect x="133.37" y="443.04" width="20.77" height="10.46" fill="rgb(255, 240, 241)"/>
<rect x="153.83" y="443.04" width="20.77" height="10.46" fill="rgb(213, 213, 245)"/>
<rect x="174.30" y="443.04" width="20.77" height="10.46" fill="rgb(255, 214, 217)"/>
<rect x="194.77" y="443.04" width="20.77" height="10.46" fill="rgb(58, 78, 168)"/>
<rect x="215.23" y="443.04" width="20.77" height="10.46" fill="rgb(255, 243, 244)"/>
<rect x="235.70" y="443.04" width="20.77" height="10.46" fill="rgb(255, 182, 187)"/>
<rect x="256.17" y="443.04" width="20.77" height="10.46" fill="rgb(238, 238, 252)"/>
<rect x="276.63" y="443.04" width="20.77" height="10.46" fill="rgb(108, 114, 193)"/>
<rect x="51.50" y="453.21" width="20.77" height="10.46" fill="rgb(255, 193, 197)"/>
<rect x="71.97" y="453.21" width="20.77" height="10.46" fill="rgb(230, 230, 250)"/>
<rect x="92.43" y="453.21" width="20.77" height="10.46" fill="rgb(230, 230, 250)"/>
<rect x="112.90" y="453.21" width="20.77" height="10.46" fill="rgb(240, 80, 80)"/>
<rect x="133.37" y="453.21" width="20.77" height="10.46" fill="rgb(140, 143, 212)"/>
<rect x="153.83" y="453.21" width="20.77" height="10.46" fill="rgb(251, 117, 122)"/>
<rect x="174.30" y="453.21" width="20.77" height="10.46" fill="rgb(140, 143, 212)"/>
<rect x="194.77" y="453.21" width="20.77" height="10.46" fill="rgb(230, 230, 250)"/>
<rect x="215.23" y="453.21" width="20.77" height="10.46" fill="rgb(140, 143, 212)"/>
<rect x="235.70" y="453.21" width="20.77" height="10.46" fill="rgb(140, 143, 212)"/>
<rect x="256.17" y="453.21" width="20.77" height="10.46" fill="rgb(254, 144, 150)"/>
<rect x="276.63" y="453.21" width="20.77" height="10.46" fill="rgb(230, 230, 250)"/>
<rect x="51.50" y="463.37" width="20.77" height="10.46" fill="rgb(184, 184, 232)"/>
<rect x="71.97" y="463.37" width="20.77" height="10.46" fill="rgb(252, 252, 254)"/>
<rect x="92.43" y="463.37" width="20.77" height="10.46" fill="rgb(255, 214, 217)"/>
<rect x="112.90" y="463.37" width="20.77" height="10.46" fill="rgb(231, 60, 55)"/>
<rect x="133.37" y="463.37" width="20.77" height="10.46" fill="rgb(255, 223, 225)"/>
<rect x="153.83" y="463.37" width="20.77" height="10.46" fill="rgb(194, 194, 236)"/>
<rect x="174.30" y="463.37" width="20.77" height="10.46" fill="rgb(203, 203, 241)"/>
<rect x="194.77" y="463.37" width="20.77" height="10.46" fill="rgb(58, 78, 168)"/>
<rect x="215.23" y="463.37" width="20.77" height="10.46" fill="rgb(255, 250, 251)"/>
<rect x="235.70" y="463.37" width="20.77" height="10.46" fill="rgb(255, 182, 187)"/>
<rect x="256.17" y="463.37" width="20.77" height="10.46" fill="rgb(255, 203, 207)"/>
<rect x="276.63" y="463.37" width="20.77" height="10.46" fill="rgb(184, 184, 232)"/>
<rect x="51.50" y="473.53" width="20.77" height="10.46" fill="rgb(140, 143, 212)"/>
<rect x="71.97" y="473.53" width="20.77" height="10.46" fill="rgb(251, 117, 122)"/>
<rect x="92.43" y="473.53" width="20.77" height="10.46" fill="rgb(140, 143, 212)"/>
<rect x="112.90" y="473.53" width="20.77" height="10.46" fill="rgb(255, 203, 207)"/>
<rect x="133.37" y="473.53" width="20.77" height="10.46" fill="rgb(254, 171, 176)"/>
<rect x="153.83" y="473.53" width="20.77" height="10.46" fill="rgb(255, 182, 187)"/>
<rect x="174.30" y="473.53" width="20.77" height="10.46" fill="rgb(203, 203, 241)"/>
<rect x="194.77" y="473.53" width="20.77" height="10.46" fill="rgb(194, 194, 236)"/>
<rect x="215.23" y="473.53" width="20.77" height="10.46" fill="rgb(255, 214, 217)"/>
<rect x="235.70" y="473.53" width="20.77" height="10.46" fill="rgb(245, 245, 253)"/>
<rect x="256.17" y="473.53" width="20.77" height="10.46" fill="rgb(255, 182, 187)"/>
<rect x="276.63" y="473.53" width="20.77" height="10.46" fill="rgb(58, 78, 168)"/>
<rect x="51.50" y="483.69" width="20.77" height="10.46" fill="rgb(255, 193, 197)"/>
<rect x="71.97" y="483.69" width="20.77" height="10.46" fill="rgb(254, 160, 165)"/>
<rect x="92.43" y="483.69" width="20.77" height="10.46" fill="rgb(118, 123, 199)"/>
<rect x="112.90" y="483.69" width="20.77" height="10.46" fill="rgb(163, 165, 225)"/>
<rect x="133.37" y="483.69" width="20.77" height="10.46" fill="rgb(240, 80, 80)"/>
<rect x="153.83" y="483.69" width="20.77" height="10.46" fill="rgb(230, 230, 250)"/>
<rect x="174.30" y="483.69" width="20.77" height="10.46" fill="rgb(174, 174, 228)"/>
<rect x="194.77" y="483.69" width="20.77" height="10.46" fill="rgb(249, 106, 111)"/>
<rect x="215.23" y="483.69" width="20.77" height="10.46" fill="rgb(255, 255, 255)"/>
<rect x="235.70" y="483.69" width="20.77" height="10.46" fill="rgb(184, 184, 232)"/>
<rect x="256.17" y="483.69" width="20.77" height="10.46" fill="rgb(203, 203, 241)"/>
<rect x="276.63" y="483.69" width="20.77" height="10.46" fill="rgb(129, 133, 206)"/>
<rect x="51.50" y="493.85" width="20.77" height="10.46" fill="rgb(184, 184, 232)"/>
<rect x="71.97" y="493.85" width="20.77" height="10.46" fill="rgb(230, 230, 250)"/>
<rect x="92.43" y="493.85" width="20.77" height="10.46" fill="rgb(255, 203, 207)"/>
<rect x="112.90" y="493.85" width="20.77" height="10.46" fill="rgb(244, 93, 96)"/>
<rect x="133.37" y="493.85" width="20.77" height="10.46" fill="rgb(118, 123, 199)"/>
<rect x="153.83" y="493.85" width="20.77" height="10.46" fill="rgb(254, 144, 150)"/>
<rect x="174.30" y="493.85" width="20.77" height="10.46" fill="rgb(254, 171, 176)"/>
<rect x="194.77" y="493.85" width="20.77" height="10.46" fill="rgb(97, 105, 187)"/>
<rect x="215.23" y="493.85" width="20.77" height="10.46" fill="rgb(174, 174, 228)"/>
<rect x="235.70" y="493.85" width="20.77" height="10.46" fill="rgb(254, 171, 176)"/>
<rect x="256.17" y="493.85" width="20.77" height="10.46" fill="rgb(140, 143, 212)"/>
<rect x="276.63" y="493.85" width="20.77" height="10.46" fill="rgb(245, 245, 253)"/>
<rect x="51.50" y="504.01" width="20.77" height="10.46" fill="rgb(255, 193, 197)"/>
<rect x="71.97" y="504.01" width="20.77" height="10.46" fill="rgb(254, 144, 150)"/>
<rect x="92.43" y="504.01" width="20.77" height="10.46" fill="rgb(58, 78, 168)"/>
<rect x="112.90" y="504.01" width="20.77" height="10.46" fill="rgb(238, 238, 252)"/>
<rect x="133.37" y="504.01" width="20.77" height="10.46" fill="rgb(254, 144, 150)"/>
<rect x="153.83" y="504.01" width="20.77" height="10.46" fill="rgb(241, 241, 253)"/>
<rect x="174.30" y="504.01" width="20.77" height="10.46" fill="rgb(230, 230, 250)"/>
<rect x="194.77" y="504.01" width="20.77" height="10.46" fill="rgb(251, 117, 122)"/>
<rect x="215.23" y="504.01" width="20.77" height="10.46" fill="rgb(203, 203, 241)"/>
<rect x="235.70" y="504.01" width="20.77" height="10.46" fill="rgb(203, 203, 241)"/>
<rect x="256.17" y="504.01" width="20.77" height="10.46" fill="rgb(246, 246, 254)"/>
<rect x="276.63" y="504.01" width="20.77" height="10.46" fill="rgb(118, 123, 199)"/>
<rect x="51.50" y="514.17" width="20.77" height="10.46" fill="rgb(255, 243, 244)"/>
<rect x="71.97" y="514.17" width="20.77" height="10.46" fill="rgb(174, 174, 228)"/>
<rect x="92.43" y="514.17" width="20.77" height="10.46" fill="rgb(244, 93, 96)"/>
<rect x="112.90" y="514.17" width="20.77" height="10.46" fill="rgb(240, 80, 80)"/>
<rect x="133.37" y="514.17" width="20.77" height="10.46" fill="rgb(152, 154, 218)"/>
<rect x="153.83" y="514.17" width="20.77" height="10.46" fill="rgb(152, 154, 218)"/>
<rect x="174.30" y="514.17" width="20.77" height="10.46" fill="rgb(255, 223, 225)"/>
<rect x="194.77" y="514.17" width="20.77" height="10.46" fill="rgb(68, 84, 173)"/>
<rect x="215.23" y="514.17" width="20.77" height="10.46" fill="rgb(241, 241, 253)"/>
<rect x="235.70" y="514.17" width="20.77" height="10.46" fill="rgb(255, 223, 225)"/>
<rect x="256.17" y="514.17" width="20.77" height="10.46" fill="rgb(245, 245, 253)"/>
<rect x="276.63" y="514.17" width="20.77" height="10.46" fill="rgb(255, 240, 241)"/>
<rect x="51.50" y="524.33" width="20.77" height="10.46" fill="rgb(184, 184, 232)"/>
<rect x="71.97" y="524.33" width="20.77" height="10.46" fill="rgb(255, 182, 187)"/>
<rect x="92.43" y="524.33" width="20.77" height="10.46" fill="rgb(203, 203, 241)"/>
<rect x="112.90" y="524.33" width="20.77" height="10.46" fill="rgb(108, 114, 193)"/>
<rect x="133.37" y="524.33" width="20.77" height="10.46" fill="rgb(254, 144, 150)"/>
<rect x="153.83" y="524.33" width="20.77" height="10.46" fill="rgb(253, 128, 134)"/>
<rect x="174.30" y="524.33" width="20.77" height="10.46" fill="rgb(203, 203, 241)"/>
<rect x="194.77" y="524.33" width="20.77" height="10.46" fill="rgb(236, 70, 68)"/>
<rect x="215.23" y="524.33" width="20.77" height="10.46" fill="rgb(213, 213, 245)"/>
<rect x="235.70" y="524.33" width="20.77" height="10.46" fill="rgb(129, 133, 206)"/>
<rect x="256.17" y="524.33" width="20.77" height="10.46" fill="rgb(152, 154, 218)"/>
<rect x="276.63" y="524.33" width="20.77" height="10.46" fill="rgb(255, 248, 248)"/>
<rect x="51.50" y="534.49" width="20.77" height="10.46" fill="rgb(163, 165, 225)"/>
<rect x="71.97" y="534.49" width="20.77" height="10.46" fill="rgb(203, 203, 241)"/>
<rect x="92.43" y="534.49" width="20.77" height="10.46" fill="rgb(231, 60, 55)"/>
<rect x="112.90" y="534.49" width="20.77" height="10.46" fill="rgb(254, 144, 150)"/>
<rect x="133.37" y="534.49" width="20.77" height="10.46" fill="rgb(184, 184, 232)"/>
<rect x="153.83" y="534.49" width="20.77" height="10.46" fill="rgb(163, 165, 225)"/>
<rect x="174.30" y="534.49" width="20.77" height="10.46" fill="rgb(255, 193, 197)"/>
<rect x="194.77" y="534.49" width="20.77" height="10.46" fill="rgb(68, 84, 173)"/>
<rect x="215.23" y="534.49" width="20.77" height="10.46" fill="rgb(213, 213, 245)"/>
<rect x="235.70" y="534.49" width="20.77" height="10.46" fill="rgb(255, 240, 241)"/>
<rect x="256.17" y="534.49" width="20.77" height="10.46" fill="rgb(255, 255, 255)"/>
<rect x="276.63" y="534.49" width="20.77" height="10.46" fill="rgb(255, 203, 207)"/>
<rect x="51.50" y="544.65" width="20.77" height="10.46" fill="rgb(152, 154, 218)"/>
<rect x="71.97" y="544.65" width="20.77" height="10.46" fill="rgb(203, 203, 241)"/>
<rect x="92.43" y="544.65" width="20.77" height="10.46" fill="rgb(222, 46, 36)"/>
<rect x="112.90" y="544.65" width="20.77" height="10.46" fill="rgb(255, 214, 217)"/>
<rect x="133.37" y="544.65" width="20.77" height="10.46" fill="rgb(152, 154, 218)"/>
<rect x="153.83" y="544.65" width="20.77" height="10.46" fill="rgb(221, 221, 247)"/>
<rect x="174.30" y="544.65" width="20.77" height="10.46" fill="rgb(253, 128, 134)"/>
<rect x="194.77" y="544.65" width="20.77" height="10.46" fill="rgb(152, 154, 218)"/>
<rect x="215.23" y="544.65" width="20.77" height="10.46" fill="rgb(174, 174, 228)"/>
<rect x="235.70" y="544.65" width="20.77" height="10.46" fill="rgb(255, 255, 255)"/>
<rect x="256.17" y="544.65" width="20.77" height="10.46" fill="rgb(255, 255, 255)"/>
<rect x="276.63" y="544.65" width="20.77" height="10.46" fill="rgb(235, 235, 251)"/>
<rect x="51.50" y="554.81" width="20.77" height="10.46" fill="rgb(255, 203, 207)"/>
<rect x="71.97" y="554.81" width="20.77" height="10.46" fill="rgb(254, 160, 165)"/>
<rect x="92.43" y="554.81" width="20.77" height="10.46" fill="rgb(58, 78, 168)"/>
<rect x="112.90" y="554.81" width="20.77" height="10.46" fill="rgb(221, 221, 247)"/>
<rect x="133.37" y="554.81" width="20.77" height="10.46" fill="rgb(254, 144, 150)"/>
<rect x="153.83" y="554.81" width="20.77" height="10.46" fill="rgb(255, 248, 248)"/>
<rect x="174.30" y="554.81" width="20.77" height="10.46" fill="rgb(213, 213, 245)"/>
<rect x="194.77" y="554.81" width="20.77" height="10.46" fill="rgb(249, 106, 111)"/>
<rect x="215.23" y="554.81" width="20.77" height="10.46" fill="rgb(255, 244, 245)"/>
<rect x="235.70" y="554.81" width="20.77" height="10.46" fill="rgb(203, 203, 241)"/>
<rect x="256.17" y="554.81" width="20.77" height="10.46" fill="rgb(235, 235, 251)"/>
<rect x="276.63" y="554.81" width="20.77" height="10.46" fill="rgb(174, 174, 228)"/>
<rect x="51.50" y="564.97" width="20.77" height="10.46" fill="rgb(163, 165, 225)"/>
<rect x="71.97" y="564.97" width="20.77" height="10.46" fill="rgb(174, 174, 228)"/>
<rect x="92.43" y="564.97" width="20.77" height="10.46" fill="rgb(184, 184, 232)"/>
<rect x="112.90" y="564.97" width="20.77" height="10.46" fill="rgb(254, 160, 165)"/>
<rect x="133.37" y="564.97" width="20.77" height="10.46" fill="rgb(152, 154, 218)"/>
<rect x="153.83" y="564.97" width="20.77" height="10.46" fill="rgb(226, 53, 46)"/>
<rect x="174.30" y="564.97" width="20.77" height="10.46" fill="rgb(241, 241, 253)"/>
<rect x="194.77" y="564.97" width="20.77" height="10.46" fill="rgb(203, 203, 241)"/>
<rect x="215.23" y="564.97" width="20.77" height="10.46" fill="rgb(184, 184, 232)"/>
<rect x="235.70" y="564.97" width="20.77" height="10.46" fill="rgb(163, 165, 225)"/>
<rect x="256.17" y="564.97" width="20.77" height="10.46" fill="rgb(254, 160, 165)"/>
<rect x="276.63" y="564.97" width="20.77" height="10.46" fill="rgb(254, 171, 176)"/>
<rect x="51.50" y="575.13" width="20.77" height="10.46" fill="rgb(230, 230, 250)"/>
<rect x="71.97" y="575.13" width="20.77" height="10.46" fill="rgb(68, 84, 173)"/>
<rect x="92.43" y="575.13" width="20.77" height="10.46" fill="rgb(235, 235, 251)"/>
<rect x="112.90" y="575.13" width="20.77" height="10.46" fill="rgb(255, 203, 207)"/>
<rect x="133.37" y="575.13" width="20.77" height="10.46" fill="rgb(152, 154, 218)"/>
<rect x="153.83" y="575.13" width="20.77" height="10.46" fill="rgb(222, 46, 36)"/>
<rect x="174.30" y="575.13" width="20.77" height="10.46" fill="rgb(255, 214, 217)"/>
<rect x="194.77" y="575.13" width="20.77" height="10.46" fill="rgb(241, 241, 253)"/>
<rect x="215.23" y="575.13" width="20.77" height="10.46" fill="rgb(255, 250, 251)"/>
<rect x="235.70" y="575.13" width="20.77" height="10.46" fill="rgb(184, 184, 232)"/>
<rect x="256.17" y="575.13" width="20.77" height="10.46" fill="rgb(203, 203, 241)"/>
<rect x="276.63" y="575.13" width="20.77" height="10.46" fill="rgb(255, 182, 187)"/>
<rect x="51.50" y="585.29" width="20.77" height="10.46" fill="rgb(252, 252, 254)"/>
<rect x="71.97" y="585.29" width="20.77" height="10.46" fill="rgb(108, 114, 193)"/>
<rect x="92.43" y="585.29" width="20.77" height="10.46" fill="rgb(226, 53, 46)"/>
<rect x="112.90" y="585.29" width="20.77" height="10.46" fill="rgb(254, 171, 176)"/>
<rect x="133.37" y="585.29" width="20.77" height="10.46" fill="rgb(97, 105, 187)"/>
<rect x="153.83" y="585.29" width="20.77" height="10.46" fill="rgb(174, 174, 228)"/>
<rect x="174.30" y="585.29" width="20.77" height="10.46" fill="rgb(225, 225, 248)"/>
<rect x="194.77" y="585.29" width="20.77" height="10.46" fill="rgb(140, 143, 212)"/>
<rect x="215.23" y="585.29" width="20.77" height="10.46" fill="rgb(255, 226, 228)"/>
<rect x="235.70" y="585.29" width="20.77" height="10.46" fill="rgb(255, 240, 241)"/>
<rect x="256.17" y="585.29" width="20.77" height="10.46" fill="rgb(255, 208, 211)"/>
<rect x="276.63" y="585.29" width="20.77" height="10.46" fill="rgb(255, 203, 207)"/>
<rect x="51.50" y="595.45" width="20.77" height="10.46" fill="rgb(255, 243, 244)"/>
<rect x="71.97" y="595.45" width="20.77" height="10.46" fill="rgb(254, 144, 150)"/>
<rect x="92.43" y="595.45" width="20.77" height="10.46" fill="rgb(97, 105, 187)"/>
<rect x="112.90" y="595.45" width="20.77" height="10.46" fill="rgb(255, 208, 211)"/>
<rect x="133.37" y="595.45" width="20.77" height="10.46" fill="rgb(255, 237, 238)"/>
<rect x="153.83" y="595.45" width="20.77" height="10.46" fill="rgb(152, 154, 218)"/>
<rect x="174.30" y="595.45" width="20.77" height="10.46" fill="rgb(255, 214, 217)"/>
<rect x="194.77" y="595.45" width="20.77" height="10.46" fill="rgb(222, 46, 36)"/>
<rect x="215.23" y="595.45" width="20.77" height="10.46" fill="rgb(152, 154, 218)"/>
<rect x="235.70" y="595.45" width="20.77" height="10.46" fill="rgb(207, 207, 242)"/>
<rect x="256.17" y="595.45" width="20.77" height="10.46" fill="rgb(199, 199, 239)"/>
<rect x="276.63" y="595.45" width="20.77" height="10.46" fill="rgb(194, 194, 236)"/>
<rect x="51.50" y="605.61" width="20.77" height="10.46" fill="rgb(218, 218, 246)"/>
<rect x="71.97" y="605.61" width="20.77" height="10.46" fill="rgb(163, 165, 225)"/>
<rect x="92.43" y="605.61" width="20.77" height="10.46" fill="rgb(254, 144, 150)"/>
<rect x="112.90" y="605.61" width="20.77" height="10.46" fill="rgb(255, 182, 187)"/>
<rect x="133.37" y="605.61" width="20.77" height="10.46" fill="rgb(163, 165, 225)"/>
<rect x="153.83" y="605.61" width="20.77" height="10.46" fill="rgb(218, 218, 246)"/>
<rect x="174.30" y="605.61" width="20.77" height="10.46" fill="rgb(213, 213, 245)"/>
<rect x="194.77" y="605.61" width="20.77" height="10.46" fill="rgb(163, 165, 225)"/>
<rect x="215.23" y="605.61" width="20.77" height="10.46" fill="rgb(163, 165, 225)"/>
<rect x="235.70" y="605.61" width="20.77" height="10.46" fill="rgb(255, 203, 207)"/>
<rect x="256.17" y="605.61" width="20.77" height="10.46" fill="rgb(222, 46, 36)"/>
<rect x="276.63" y="605.61" width="20.77" height="10.46" fill="rgb(213, 213, 245)"/>
<rect x="51.50" y="615.77" width="20.77" height="10.46" fill="rgb(226, 53, 46)"/>
<rect x="71.97" y="615.77" width="20.77" height="10.46" fill="rgb(213, 213, 245)"/>
<rect x="92.43" y="615.77" width="20.77" height="10.46" fill="rgb(184, 184, 232)"/>
<rect x="112.90" y="615.77" width="20.77" height="10.46" fill="rgb(221, 221, 247)"/>
<rect x="133.37" y="615.77" width="20.77" height="10.46" fill="rgb(235, 235, 251)"/>
<rect x="153.83" y="615.77" width="20.77" height="10.46" fill="rgb(97, 105, 187)"/>
<rect x="174.30" y="615.77" width="20.77" height="10.46" fill="rgb(255, 203, 207)"/>
<rect x="194.77" y="615.77" width="20.77" height="10.46" fill="rgb(254, 171, 176)"/>
<rect x="215.23" y="615.77" width="20.77" height="10.46" fill="rgb(255, 199, 203)"/>
<rect x="235.70" y="615.77" width="20.77" height="10.46" fill="rgb(174, 174, 228)"/>
<rect x="256.17" y="615.77" width="20.77" height="10.46" fill="rgb(118, 123, 199)"/>
<rect x="276.63" y="615.77" width="20.77" height="10.46" fill="rgb(255, 219, 222)"/>
<rect x="51.50" y="625.93" width="20.77" height="10.46" fill="rgb(235, 235, 251)"/>
<rect x="71.97" y="625.93" width="20.77" height="10.46" fill="rgb(235, 235, 251)"/>
<rect x="92.43" y="625.93" width="20.77" height="10.46" fill="rgb(254, 171, 176)"/>
<rect x="112.90" y="625.93" width="20.77" height="10.46" fill="rgb(255, 240, 241)"/>
<rect x="133.37" y="625.93" width="20.77" height="10.46" fill="rgb(199, 199, 239)"/>
<rect x="153.83" y="625.93" width="20.77" height="10.46" fill="rgb(167, 169, 226)"/>
<rect x="174.30" y="625.93" width="20.77" height="10.46" fill="rgb(255, 249, 249)"/>
<rect x="194.77" y="625.93" width="20.77" height="10.46" fill="rgb(58, 78, 168)"/>
<rect x="215.23" y="625.93" width="20.77" height="10.46" fill="rgb(254, 144, 150)"/>
<rect x="235.70" y="625.93" width="20.77" height="10.46" fill="rgb(254, 144, 150)"/>
<rect x="256.17" y="625.93" width="20.77" height="10.46" fill="rgb(254, 144, 150)"/>
<rect x="276.63" y="625.93" width="20.77" height="10.46" fill="rgb(163, 165, 225)"/>
<rect x="51.50" y="636.09" width="20.77" height="10.46" fill="rgb(163, 165, 225)"/>
<rect x="71.97" y="636.09" width="20.77" height="10.46" fill="rgb(129, 133, 206)"/>
<rect x="92.43" y="636.09" width="20.77" height="10.46" fill="rgb(236, 70, 68)"/>
<rect x="112.90" y="636.09" width="20.77" height="10.46" fill="rgb(255, 203, 207)"/>
<rect x="133.37" y="636.09" width="20.77" height="10.46" fill="rgb(140, 143, 212)"/>
<rect x="153.83" y="636.09" width="20.77" height="10.46" fill="rgb(194, 194, 236)"/>
<rect x="174.30" y="636.09" width="20.77" height="10.46" fill="rgb(255, 252, 252)"/>
<rect x="194.77" y="636.09" width="20.77" height="10.46" fill="rgb(97, 105, 187)"/>
<rect x="215.23" y="636.09" width="20.77" height="10.46" fill="rgb(255, 208, 211)"/>
<rect x="235.70" y="636.09" width="20.77" height="10.46" fill="rgb(255, 193, 197)"/>
<rect x="256.17" y="636.09" width="20.77" height="10.46" fill="rgb(245, 245, 253)"/>
<rect x="276.63" y="636.09" width="20.77" height="10.46" fill="rgb(253, 128, 134)"/>
<rect x="51.50" y="646.26" width="20.77" height="10.46" fill="rgb(174, 174, 228)"/>
<rect x="71.97" y="646.26" width="20.77" height="10.46" fill="rgb(235, 235, 251)"/>
<rect x="92.43" y="646.26" width="20.77" height="10.46" fill="rgb(97, 105, 187)"/>
<rect x="112.90" y="646.26" width="20.77" height="10.46" fill="rgb(255, 231, 233)"/>
<rect x="133.37" y="646.26" width="20.77" height="10.46" fill="rgb(226, 53, 46)"/>
<rect x="153.83" y="646.26" width="20.77" height="10.46" fill="rgb(129, 133, 206)"/>
<rect x="174.30" y="646.26" width="20.77" height="10.46" fill="rgb(213, 213, 245)"/>
<rect x="194.77" y="646.26" width="20.77" height="10.46" fill="rgb(145, 147, 215)"/>
<rect x="215.23" y="646.26" width="20.77" height="10.46" fill="rgb(253, 134, 140)"/>
<rect x="235.70" y="646.26" width="20.77" height="10.46" fill="rgb(255, 237, 238)"/>
<rect x="256.17" y="646.26" width="20.77" height="10.46" fill="rgb(255, 208, 211)"/>
<rect x="276.63" y="646.26" width="20.77" height="10.46" fill="rgb(255, 223, 225)"/>
<rect x="51.50" y="656.42" width="20.77" height="10.46" fill="rgb(97, 105, 187)"/>
<rect x="71.97" y="656.42" width="20.77" height="10.46" fill="rgb(167, 169, 226)"/>
<rect x="92.43" y="656.42" width="20.77" height="10.46" fill="rgb(240, 80, 80)"/>
<rect x="112.90" y="656.42" width="20.77" height="10.46" fill="rgb(255, 240, 241)"/>
<rect x="133.37" y="656.42" width="20.77" height="10.46" fill="rgb(136, 139, 209)"/>
<rect x="153.83" y="656.42" width="20.77" height="10.46" fill="rgb(255, 231, 233)"/>
<rect x="174.30" y="656.42" width="20.77" height="10.46" fill="rgb(255, 203, 207)"/>
<rect x="194.77" y="656.42" width="20.77" height="10.46" fill="rgb(118, 123, 199)"/>
<rect x="215.23" y="656.42" width="20.77" height="10.46" fill="rgb(245, 245, 253)"/>
<rect x="235.70" y="656.42" width="20.77" height="10.46" fill="rgb(211, 211, 244)"/>
<rect x="256.17" y="656.42" width="20.77" height="10.46" fill="rgb(255, 203, 207)"/>
<rect x="276.63" y="656.42" width="20.77" height="10.46" fill="rgb(249, 106, 111)"/>
<rect x="51.50" y="666.58" width="20.77" height="10.46" fill="rgb(174, 174, 228)"/>
<rect x="71.97" y="666.58" width="20.77" height="10.46" fill="rgb(97, 105, 187)"/>
<rect x="92.43" y="666.58" width="20.77" height="10.46" fill="rgb(244, 93, 96)"/>
<rect x="112.90" y="666.58" width="20.77" height="10.46" fill="rgb(255, 182, 187)"/>
<rect x="133.37" y="666.58" width="20.77" height="10.46" fill="rgb(88, 98, 182)"/>
<rect x="153.83" y="666.58" width="20.77" height="10.46" fill="rgb(252, 252, 254)"/>
<rect x="174.30" y="666.58" width="20.77" height="10.46" fill="rgb(255, 182, 187)"/>
<rect x="194.77" y="666.58" width="20.77" height="10.46" fill="rgb(88, 98, 182)"/>
<rect x="215.23" y="666.58" width="20.77" height="10.46" fill="rgb(255, 237, 238)"/>
<rect x="235.70" y="666.58" width="20.77" height="10.46" fill="rgb(255, 214, 217)"/>
<rect x="256.17" y="666.58" width="20.77" height="10.46" fill="rgb(255, 178, 183)"/>
<rect x="276.63" y="666.58" width="20.77" height="10.46" fill="rgb(255, 250, 251)"/>
<rect x="51.50" y="676.74" width="20.77" height="10.46" fill="rgb(245, 245, 253)"/>
<rect x="71.97" y="676.74" width="20.77" height="10.46" fill="rgb(118, 123, 199)"/>
<rect x="92.43" y="676.74" width="20.77" height="10.46" fill="rgb(244, 93, 96)"/>
<rect x="112.90" y="676.74" width="20.77" height="10.46" fill="rgb(255, 214, 217)"/>
<rect x="133.37" y="676.74" width="20.77" height="10.46" fill="rgb(88, 98, 182)"/>
<rect x="153.83" y="676.74" width="20.77" height="10.46" fill="rgb(174, 174, 228)"/>
<rect x="174.30" y="676.74" width="20.77" height="10.46" fill="rgb(255, 182, 187)"/>
<rect x="194.77" y="676.74" width="20.77" height="10.46" fill="rgb(122, 127, 202)"/>
<rect x="215.23" y="676.74" width="20.77" height="10.46" fill="rgb(246, 246, 254)"/>
<rect x="235.70" y="676.74" width="20.77" height="10.46" fill="rgb(255, 237, 238)"/>
<rect x="256.17" y="676.74" width="20.77" height="10.46" fill="rgb(255, 254, 254)"/>
<rect x="276.63" y="676.74" width="20.77" height="10.46" fill="rgb(249, 106, 111)"/>
<rect x="51.50" y="686.90" width="20.77" height="10.46" fill="rgb(218, 218, 246)"/>
<rect x="71.97" y="686.90" width="20.77" height="10.46" fill="rgb(97, 105, 187)"/>
<rect x="92.43" y="686.90" width="20.77" height="10.46" fill="rgb(251, 117, 122)"/>
<rect x="112.90" y="686.90" width="20.77" height="10.46" fill="rgb(254, 160, 165)"/>
<rect x="133.37" y="686.90" width="20.77" height="10.46" fill="rgb(68, 84, 173)"/>
<rect x="153.83" y="686.90" width="20.77" height="10.46" fill="rgb(228, 228, 249)"/>
<rect x="174.30" y="686.90" width="20.77" height="10.46" fill="rgb(255, 237, 238)"/>
<rect x="194.77" y="686.90" width="20.77" height="10.46" fill="rgb(145, 147, 215)"/>
<rect x="215.23" y="686.90" width="20.77" height="10.46" fill="rgb(231, 231, 250)"/>
<rect x="235.70" y="686.90" width="20.77" height="10.46" fill="rgb(255, 199, 203)"/>
<rect x="256.17" y="686.90" width="20.77" height="10.46" fill="rgb(254, 154, 159)"/>
<rect x="276.63" y="686.90" width="20.77" height="10.46" fill="rgb(255, 193, 197)"/>
<rect x="51.50" y="697.06" width="20.77" height="10.46" fill="rgb(78, 91, 178)"/>
<rect x="71.97" y="697.06" width="20.77" height="10.46" fill="rgb(194, 194, 236)"/>
<rect x="92.43" y="697.06" width="20.77" height="10.46" fill="rgb(228, 228, 249)"/>
<rect x="112.90" y="697.06" width="20.77" height="10.46" fill="rgb(254, 171, 176)"/>
<rect x="133.37" y="697.06" width="20.77" height="10.46" fill="rgb(163, 165, 225)"/>
<rect x="153.83" y="697.06" width="20.77" height="10.46" fill="rgb(255, 193, 197)"/>
<rect x="174.30" y="697.06" width="20.77" height="10.46" fill="rgb(250, 250, 254)"/>
<rect x="194.77" y="697.06" width="20.77" height="10.46" fill="rgb(108, 114, 193)"/>
<rect x="215.23" y="697.06" width="20.77" height="10.46" fill="rgb(236, 70, 68)"/>
<rect x="235.70" y="697.06" width="20.77" height="10.46" fill="rgb(255, 182, 187)"/>
<rect x="256.17" y="697.06" width="20.77" height="10.46" fill="rgb(255, 203, 207)"/>
<rect x="276.63" y="697.06" width="20.77" height="10.46" fill="rgb(213, 213, 245)"/>
<rect x="51.50" y="707.22" width="20.77" height="10.46" fill="rgb(203, 203, 241)"/>
<rect x="71.97" y="707.22" width="20.77" height="10.46" fill="rgb(78, 91, 178)"/>
<rect x="92.43" y="707.22" width="20.77" height="10.46" fill="rgb(244, 93, 96)"/>
<rect x="112.90" y="707.22" width="20.77" height="10.46" fill="rgb(255, 243, 244)"/>
<rect x="133.37" y="707.22" width="20.77" height="10.46" fill="rgb(108, 114, 193)"/>
<rect x="153.83" y="707.22" width="20.77" height="10.46" fill="rgb(215, 215, 245)"/>
<rect x="174.30" y="707.22" width="20.77" height="10.46" fill="rgb(255, 231, 233)"/>
<rect x="194.77" y="707.22" width="20.77" height="10.46" fill="rgb(108, 114, 193)"/>
<rect x="215.23" y="707.22" width="20.77" height="10.46" fill="rgb(255, 182, 187)"/>
<rect x="235.70" y="707.22" width="20.77" height="10.46" fill="rgb(255, 233, 235)"/>
<rect x="256.17" y="707.22" width="20.77" height="10.46" fill="rgb(255, 199, 203)"/>
<rect x="276.63" y="707.22" width="20.77" height="10.46" fill="rgb(253, 128, 134)"/>
<rect x="51.50" y="717.38" width="20.77" height="10.46" fill="rgb(122, 127, 202)"/>
<rect x="71.97" y="717.38" width="20.77" height="10.46" fill="rgb(255, 237, 238)"/>
<rect x="92.43" y="717.38" width="20.77" height="10.46" fill="rgb(58, 78, 168)"/>
<rect x="112.90" y="717.38" width="20.77" height="10.46" fill="rgb(180, 180, 231)"/>
<rect x="133.37" y="717.38" width="20.77" height="10.46" fill="rgb(255, 219, 222)"/>
<rect x="153.83" y="717.38" width="20.77" height="10.46" fill="rgb(255, 186, 191)"/>
<rect x="174.30" y="717.38" width="20.77" height="10.46" fill="rgb(251, 117, 122)"/>
<rect x="194.77" y="717.38" width="20.77" height="10.46" fill="rgb(244, 93, 96)"/>
<rect x="215.23" y="717.38" width="20.77" height="10.46" fill="rgb(255, 237, 238)"/>
<rect x="235.70" y="717.38" width="20.77" height="10.46" fill="rgb(255, 242, 242)"/>
<rect x="256.17" y="717.38" width="20.77" height="10.46" fill="rgb(188, 188, 234)"/>
<rect x="276.63" y="717.38" width="20.77" height="10.46" fill="rgb(199, 199, 239)"/>
<rect x="51.50" y="727.54" width="20.77" height="10.46" fill="rgb(88, 98, 182)"/>
<rect x="71.97" y="727.54" width="20.77" height="10.46" fill="rgb(199, 199, 239)"/>
<rect x="92.43" y="727.54" width="20.77" height="10.46" fill="rgb(194, 194, 236)"/>
<rect x="112.90" y="727.54" width="20.77" height="10.46" fill="rgb(188, 188, 234)"/>
<rect x="133.37" y="727.54" width="20.77" height="10.46" fill="rgb(108, 114, 193)"/>
<rect x="153.83" y="727.54" width="20.77" height="10.46" fill="rgb(244, 93, 96)"/>
<rect x="174.30" y="727.54" width="20.77" height="10.46" fill="rgb(218, 218, 246)"/>
<rect x="194.77" y="727.54" width="20.77" height="10.46" fill="rgb(254, 154, 159)"/>
<rect x="215.23" y="727.54" width="20.77" height="10.46" fill="rgb(255, 193, 197)"/>
<rect x="235.70" y="727.54" width="20.77" height="10.46" fill="rgb(188, 188, 234)"/>
<rect x="256.17" y="727.54" width="20.77" height="10.46" fill="rgb(254, 144, 150)"/>
<rect x="276.63" y="727.54" width="20.77" height="10.46" fill="rgb(254, 171, 176)"/>
</g>
<text x="48.10" y="359.04" font-size="6.6" text-anchor="end" fill="#2a2a2a" font-weight="normal" >ACSL3</text>
<line x1="49.0" x2="51.4" y1="356.68" y2="356.68" stroke="#555" stroke-width="0.6"/>
<line x1="297.40000000000003" x2="299.3" y1="356.68" y2="356.68" stroke="#777" stroke-width="0.5"/>
<text x="48.10" y="369.20" font-size="6.6" text-anchor="end" fill="#2a2a2a" font-weight="normal" >GCLM</text>
<line x1="49.0" x2="51.4" y1="366.84" y2="366.84" stroke="#555" stroke-width="0.6"/>
<line x1="297.40000000000003" x2="299.3" y1="366.84" y2="366.84" stroke="#777" stroke-width="0.5"/>
<text x="48.10" y="379.36" font-size="6.6" text-anchor="end" fill="#2a2a2a" font-weight="normal" >ACSL5</text>
<line x1="49.0" x2="51.4" y1="377.00" y2="377.00" stroke="#555" stroke-width="0.6"/>
<line x1="297.40000000000003" x2="299.3" y1="377.00" y2="377.00" stroke="#777" stroke-width="0.5"/>
<text x="48.10" y="389.52" font-size="6.6" text-anchor="end" fill="#2a2a2a" font-weight="normal" >SLC39A8</text>
<line x1="49.0" x2="51.4" y1="387.16" y2="387.16" stroke="#555" stroke-width="0.6"/>
<line x1="297.40000000000003" x2="299.3" y1="387.16" y2="387.16" stroke="#777" stroke-width="0.5"/>
<text x="48.10" y="399.69" font-size="6.6" text-anchor="end" fill="#2a2a2a" font-weight="normal" >SLC11A2</text>
<line x1="49.0" x2="51.4" y1="397.32" y2="397.32" stroke="#555" stroke-width="0.6"/>
<line x1="297.40000000000003" x2="299.3" y1="397.32" y2="397.32" stroke="#777" stroke-width="0.5"/>
<text x="48.10" y="409.85" font-size="6.6" text-anchor="end" fill="#2a2a2a" font-weight="normal" >GCLC</text>
<line x1="49.0" x2="51.4" y1="407.48" y2="407.48" stroke="#555" stroke-width="0.6"/>
<line x1="297.40000000000003" x2="299.3" y1="407.48" y2="407.48" stroke="#777" stroke-width="0.5"/>
<text x="48.10" y="420.01" font-size="6.6" text-anchor="end" fill="#2a2a2a" font-weight="normal" >SLC40A1</text>
<line x1="49.0" x2="51.4" y1="417.64" y2="417.64" stroke="#555" stroke-width="0.6"/>
<line x1="297.40000000000003" x2="299.3" y1="417.64" y2="417.64" stroke="#777" stroke-width="0.5"/>
<text x="48.10" y="430.17" font-size="6.6" text-anchor="end" fill="#2a2a2a" font-weight="normal" >ACSL4</text>
<line x1="49.0" x2="51.4" y1="427.80" y2="427.80" stroke="#555" stroke-width="0.6"/>
<line x1="297.40000000000003" x2="299.3" y1="427.80" y2="427.80" stroke="#777" stroke-width="0.5"/>
<text x="48.10" y="440.33" font-size="6.6" text-anchor="end" fill="#2a2a2a" font-weight="normal" >ATG5</text>
<line x1="49.0" x2="51.4" y1="437.96" y2="437.96" stroke="#555" stroke-width="0.6"/>
<line x1="297.40000000000003" x2="299.3" y1="437.96" y2="437.96" stroke="#777" stroke-width="0.5"/>
<text x="48.10" y="450.49" font-size="6.6" text-anchor="end" fill="#2a2a2a" font-weight="normal" >MAP1LC3B</text>
<line x1="49.0" x2="51.4" y1="448.12" y2="448.12" stroke="#555" stroke-width="0.6"/>
<line x1="297.40000000000003" x2="299.3" y1="448.12" y2="448.12" stroke="#777" stroke-width="0.5"/>
<text x="48.10" y="460.65" font-size="6.6" text-anchor="end" fill="#2a2a2a" font-weight="normal" >CP</text>
<line x1="49.0" x2="51.4" y1="458.29" y2="458.29" stroke="#555" stroke-width="0.6"/>
<line x1="297.40000000000003" x2="299.3" y1="458.29" y2="458.29" stroke="#777" stroke-width="0.5"/>
<text x="48.10" y="470.81" font-size="6.6" text-anchor="end" fill="#2a2a2a" font-weight="normal" >SAT1</text>
<line x1="49.0" x2="51.4" y1="468.45" y2="468.45" stroke="#555" stroke-width="0.6"/>
<line x1="297.40000000000003" x2="299.3" y1="468.45" y2="468.45" stroke="#777" stroke-width="0.5"/>
<text x="48.10" y="480.97" font-size="6.6" text-anchor="end" fill="#2a2a2a" font-weight="normal" >PRNP</text>
<line x1="49.0" x2="51.4" y1="478.61" y2="478.61" stroke="#555" stroke-width="0.6"/>
<line x1="297.40000000000003" x2="299.3" y1="478.61" y2="478.61" stroke="#777" stroke-width="0.5"/>
<text x="48.10" y="491.13" font-size="6.6" text-anchor="end" fill="#2a2a2a" font-weight="normal" >SLC7A11</text>
<line x1="49.0" x2="51.4" y1="488.77" y2="488.77" stroke="#555" stroke-width="0.6"/>
<line x1="297.40000000000003" x2="299.3" y1="488.77" y2="488.77" stroke="#777" stroke-width="0.5"/>
<text x="48.10" y="501.29" font-size="6.6" text-anchor="end" fill="#2a2a2a" font-weight="normal" >ATG7</text>
<line x1="49.0" x2="51.4" y1="498.93" y2="498.93" stroke="#555" stroke-width="0.6"/>
<line x1="297.40000000000003" x2="299.3" y1="498.93" y2="498.93" stroke="#777" stroke-width="0.5"/>
<text x="48.10" y="511.45" font-size="6.6" text-anchor="end" fill="#2a2a2a" font-weight="normal" >NCOA4</text>
<line x1="49.0" x2="51.4" y1="509.09" y2="509.09" stroke="#555" stroke-width="0.6"/>
<line x1="297.40000000000003" x2="299.3" y1="509.09" y2="509.09" stroke="#777" stroke-width="0.5"/>
<text x="48.10" y="521.61" font-size="6.6" text-anchor="end" fill="#2a2a2a" font-weight="normal" >FTH1</text>
<line x1="49.0" x2="51.4" y1="519.25" y2="519.25" stroke="#555" stroke-width="0.6"/>
<line x1="297.40000000000003" x2="299.3" y1="519.25" y2="519.25" stroke="#777" stroke-width="0.5"/>
<text x="48.10" y="531.77" font-size="6.6" text-anchor="end" fill="#2a2a2a" font-weight="normal" >ACSL1</text>
<line x1="49.0" x2="51.4" y1="529.41" y2="529.41" stroke="#555" stroke-width="0.6"/>
<line x1="297.40000000000003" x2="299.3" y1="529.41" y2="529.41" stroke="#777" stroke-width="0.5"/>
<text x="48.10" y="541.93" font-size="6.6" text-anchor="end" fill="#2a2a2a" font-weight="normal" >VDAC2</text>
<line x1="49.0" x2="51.4" y1="539.57" y2="539.57" stroke="#555" stroke-width="0.6"/>
<line x1="297.40000000000003" x2="299.3" y1="539.57" y2="539.57" stroke="#777" stroke-width="0.5"/>
<text x="48.10" y="552.09" font-size="6.6" text-anchor="end" fill="#2a2a2a" font-weight="normal" >VDAC3</text>
<line x1="49.0" x2="51.4" y1="549.73" y2="549.73" stroke="#555" stroke-width="0.6"/>
<line x1="297.40000000000003" x2="299.3" y1="549.73" y2="549.73" stroke="#777" stroke-width="0.5"/>
<text x="48.10" y="562.25" font-size="6.6" text-anchor="end" fill="#2a2a2a" font-weight="normal" >SLC39A14</text>
<line x1="49.0" x2="51.4" y1="559.89" y2="559.89" stroke="#555" stroke-width="0.6"/>
<line x1="297.40000000000003" x2="299.3" y1="559.89" y2="559.89" stroke="#777" stroke-width="0.5"/>
<text x="48.10" y="572.41" font-size="6.6" text-anchor="end" fill="#2a2a2a" font-weight="normal" >TF</text>
<line x1="49.0" x2="51.4" y1="570.05" y2="570.05" stroke="#555" stroke-width="0.6"/>
<line x1="297.40000000000003" x2="299.3" y1="570.05" y2="570.05" stroke="#777" stroke-width="0.5"/>
<text x="48.10" y="582.57" font-size="6.6" text-anchor="end" fill="#2a2a2a" font-weight="normal" >LPCAT3</text>
<line x1="49.0" x2="51.4" y1="580.21" y2="580.21" stroke="#555" stroke-width="0.6"/>
<line x1="297.40000000000003" x2="299.3" y1="580.21" y2="580.21" stroke="#777" stroke-width="0.5"/>
<text x="48.10" y="592.74" font-size="6.6" text-anchor="end" fill="#2a2a2a" font-weight="normal" >SAT2</text>
<line x1="49.0" x2="51.4" y1="590.37" y2="590.37" stroke="#555" stroke-width="0.6"/>
<line x1="297.40000000000003" x2="299.3" y1="590.37" y2="590.37" stroke="#777" stroke-width="0.5"/>
<text x="48.10" y="602.90" font-size="6.6" text-anchor="end" fill="#2a2a2a" font-weight="normal" >TFRC</text>
<line x1="49.0" x2="51.4" y1="600.53" y2="600.53" stroke="#555" stroke-width="0.6"/>
<line x1="297.40000000000003" x2="299.3" y1="600.53" y2="600.53" stroke="#777" stroke-width="0.5"/>
<text x="48.10" y="613.06" font-size="6.6" text-anchor="end" fill="#2a2a2a" font-weight="normal" >MAP1LC3C</text>
<line x1="49.0" x2="51.4" y1="610.69" y2="610.69" stroke="#555" stroke-width="0.6"/>
<line x1="297.40000000000003" x2="299.3" y1="610.69" y2="610.69" stroke="#777" stroke-width="0.5"/>
<text x="48.10" y="623.22" font-size="6.6" text-anchor="end" fill="#2a2a2a" font-weight="normal" >TP53</text>
<line x1="49.0" x2="51.4" y1="620.85" y2="620.85" stroke="#555" stroke-width="0.6"/>
<line x1="297.40000000000003" x2="299.3" y1="620.85" y2="620.85" stroke="#777" stroke-width="0.5"/>
<text x="48.10" y="633.38" font-size="6.6" text-anchor="end" fill="#2a2a2a" font-weight="normal" >SLC3A2</text>
<line x1="49.0" x2="51.4" y1="631.01" y2="631.01" stroke="#555" stroke-width="0.6"/>
<line x1="297.40000000000003" x2="299.3" y1="631.01" y2="631.01" stroke="#777" stroke-width="0.5"/>
<text x="48.10" y="643.54" font-size="6.6" text-anchor="end" fill="#2a2a2a" font-weight="normal" >GPX4</text>
<line x1="49.0" x2="51.4" y1="641.17" y2="641.17" stroke="#555" stroke-width="0.6"/>
<line x1="297.40000000000003" x2="299.3" y1="641.17" y2="641.17" stroke="#777" stroke-width="0.5"/>
<text x="48.10" y="653.70" font-size="6.6" text-anchor="end" fill="#2a2a2a" font-weight="normal" >MAP1LC3B2</text>
<line x1="49.0" x2="51.4" y1="651.34" y2="651.34" stroke="#555" stroke-width="0.6"/>
<line x1="297.40000000000003" x2="299.3" y1="651.34" y2="651.34" stroke="#777" stroke-width="0.5"/>
<text x="48.10" y="663.86" font-size="6.6" text-anchor="end" fill="#2a2a2a" font-weight="normal" >PCBP2</text>
<line x1="49.0" x2="51.4" y1="661.50" y2="661.50" stroke="#555" stroke-width="0.6"/>
<line x1="297.40000000000003" x2="299.3" y1="661.50" y2="661.50" stroke="#777" stroke-width="0.5"/>
<text x="48.10" y="674.02" font-size="6.6" text-anchor="end" fill="#2a2a2a" font-weight="normal" >GSS</text>
<line x1="49.0" x2="51.4" y1="671.66" y2="671.66" stroke="#555" stroke-width="0.6"/>
<line x1="297.40000000000003" x2="299.3" y1="671.66" y2="671.66" stroke="#777" stroke-width="0.5"/>
<text x="48.10" y="684.18" font-size="6.6" text-anchor="end" fill="#2a2a2a" font-weight="normal" >FTL</text>
<line x1="49.0" x2="51.4" y1="681.82" y2="681.82" stroke="#555" stroke-width="0.6"/>
<line x1="297.40000000000003" x2="299.3" y1="681.82" y2="681.82" stroke="#777" stroke-width="0.5"/>
<text x="48.10" y="694.34" font-size="6.6" text-anchor="end" fill="#2a2a2a" font-weight="normal" >PCBP1</text>
<line x1="49.0" x2="51.4" y1="691.98" y2="691.98" stroke="#555" stroke-width="0.6"/>
<line x1="297.40000000000003" x2="299.3" y1="691.98" y2="691.98" stroke="#777" stroke-width="0.5"/>
<text x="48.10" y="704.50" font-size="6.6" text-anchor="end" fill="#2a2a2a" font-weight="normal" >HMOX1</text>
<line x1="49.0" x2="51.4" y1="702.14" y2="702.14" stroke="#555" stroke-width="0.6"/>
<line x1="297.40000000000003" x2="299.3" y1="702.14" y2="702.14" stroke="#777" stroke-width="0.5"/>
<text x="48.10" y="714.66" font-size="6.6" text-anchor="end" fill="#2a2a2a" font-weight="normal" >MAP1LC3A</text>
<line x1="49.0" x2="51.4" y1="712.30" y2="712.30" stroke="#555" stroke-width="0.6"/>
<line x1="297.40000000000003" x2="299.3" y1="712.30" y2="712.30" stroke="#777" stroke-width="0.5"/>
<text x="48.10" y="724.82" font-size="6.6" text-anchor="end" fill="#2a2a2a" font-weight="normal" >CYBB</text>
<line x1="49.0" x2="51.4" y1="722.46" y2="722.46" stroke="#555" stroke-width="0.6"/>
<line x1="297.40000000000003" x2="299.3" y1="722.46" y2="722.46" stroke="#777" stroke-width="0.5"/>
<text x="48.10" y="734.98" font-size="6.6" text-anchor="end" fill="#2a2a2a" font-weight="normal" >STEAP3</text>
<line x1="49.0" x2="51.4" y1="732.62" y2="732.62" stroke="#555" stroke-width="0.6"/>
<line x1="297.40000000000003" x2="299.3" y1="732.62" y2="732.62" stroke="#777" stroke-width="0.5"/>
<line x1="61.73" x2="61.73" y1="349.6" y2="351.4" stroke="#777" stroke-width="0.5"/>
<line x1="61.73" x2="61.73" y1="738.0" y2="739.9000000000001" stroke="#777" stroke-width="0.5"/>
<text transform="translate(63.03,741.0) rotate(-90)" font-size="6.45" text-anchor="end" fill="#2a2a2a">EMFF_4</text>
<line x1="82.20" x2="82.20" y1="349.6" y2="351.4" stroke="#777" stroke-width="0.5"/>
<line x1="82.20" x2="82.20" y1="738.0" y2="739.9000000000001" stroke="#777" stroke-width="0.5"/>
<text transform="translate(83.50,741.0) rotate(-90)" font-size="6.45" text-anchor="end" fill="#2a2a2a">EMFF_5</text>
<line x1="102.67" x2="102.67" y1="349.6" y2="351.4" stroke="#777" stroke-width="0.5"/>
<line x1="102.67" x2="102.67" y1="738.0" y2="739.9000000000001" stroke="#777" stroke-width="0.5"/>
<text transform="translate(103.97,741.0) rotate(-90)" font-size="6.45" text-anchor="end" fill="#2a2a2a">EMFF_6</text>
<line x1="123.13" x2="123.13" y1="349.6" y2="351.4" stroke="#777" stroke-width="0.5"/>
<line x1="123.13" x2="123.13" y1="738.0" y2="739.9000000000001" stroke="#777" stroke-width="0.5"/>
<text transform="translate(124.43,741.0) rotate(-90)" font-size="6.45" text-anchor="end" fill="#2a2a2a">EMFF_7</text>
<line x1="143.60" x2="143.60" y1="349.6" y2="351.4" stroke="#777" stroke-width="0.5"/>
<line x1="143.60" x2="143.60" y1="738.0" y2="739.9000000000001" stroke="#777" stroke-width="0.5"/>
<text transform="translate(144.90,741.0) rotate(-90)" font-size="6.45" text-anchor="end" fill="#2a2a2a">EMFF_8</text>
<line x1="164.07" x2="164.07" y1="349.6" y2="351.4" stroke="#777" stroke-width="0.5"/>
<line x1="164.07" x2="164.07" y1="738.0" y2="739.9000000000001" stroke="#777" stroke-width="0.5"/>
<text transform="translate(165.37,741.0) rotate(-90)" font-size="6.45" text-anchor="end" fill="#2a2a2a">EMFF_9</text>
<line x1="184.53" x2="184.53" y1="349.6" y2="351.4" stroke="#777" stroke-width="0.5"/>
<line x1="184.53" x2="184.53" y1="738.0" y2="739.9000000000001" stroke="#777" stroke-width="0.5"/>
<text transform="translate(185.83,741.0) rotate(-90)" font-size="6.45" text-anchor="end" fill="#2a2a2a">COFF_4</text>
<line x1="205.00" x2="205.00" y1="349.6" y2="351.4" stroke="#777" stroke-width="0.5"/>
<line x1="205.00" x2="205.00" y1="738.0" y2="739.9000000000001" stroke="#777" stroke-width="0.5"/>
<text transform="translate(206.30,741.0) rotate(-90)" font-size="6.45" text-anchor="end" fill="#2a2a2a">COFF_5</text>
<line x1="225.47" x2="225.47" y1="349.6" y2="351.4" stroke="#777" stroke-width="0.5"/>
<line x1="225.47" x2="225.47" y1="738.0" y2="739.9000000000001" stroke="#777" stroke-width="0.5"/>
<text transform="translate(226.77,741.0) rotate(-90)" font-size="6.45" text-anchor="end" fill="#2a2a2a">COFF_6</text>
<line x1="245.93" x2="245.93" y1="349.6" y2="351.4" stroke="#777" stroke-width="0.5"/>
<line x1="245.93" x2="245.93" y1="738.0" y2="739.9000000000001" stroke="#777" stroke-width="0.5"/>
<text transform="translate(247.23,741.0) rotate(-90)" font-size="6.45" text-anchor="end" fill="#2a2a2a">COFF_7</text>
<line x1="266.40" x2="266.40" y1="349.6" y2="351.4" stroke="#777" stroke-width="0.5"/>
<line x1="266.40" x2="266.40" y1="738.0" y2="739.9000000000001" stroke="#777" stroke-width="0.5"/>
<text transform="translate(267.70,741.0) rotate(-90)" font-size="6.45" text-anchor="end" fill="#2a2a2a">COFF_8</text>
<line x1="286.87" x2="286.87" y1="349.6" y2="351.4" stroke="#777" stroke-width="0.5"/>
<line x1="286.87" x2="286.87" y1="738.0" y2="739.9000000000001" stroke="#777" stroke-width="0.5"/>
<text transform="translate(288.17,741.0) rotate(-90)" font-size="6.45" text-anchor="end" fill="#2a2a2a">COFF_9</text>
<text x="174.60" y="340.17" font-size="8.85" text-anchor="middle" fill="#2a2a2a" font-weight="normal" >Ferroptosis(hsa04216)</text>
<text x="174.20" y="349.45" font-size="8.8" text-anchor="middle" fill="#2a2a2a" font-weight="normal" >Heatmap of the Analyzed GeneSet</text>
<line x1="19.0" x2="49.0" y1="423.32" y2="423.32" stroke="#e03a2c" stroke-width="1.2"/>
<line x1="28.8" x2="49.0" y1="443.64" y2="443.64" stroke="#e03a2c" stroke-width="1.2"/>
<line x1="28.8" x2="49.0" y1="504.61" y2="504.61" stroke="#e03a2c" stroke-width="1.2"/>
<line x1="24.6" x2="49.0" y1="514.77" y2="514.77" stroke="#e03a2c" stroke-width="1.2"/>
<line x1="29.2" x2="49.0" y1="524.93" y2="524.93" stroke="#e03a2c" stroke-width="1.2"/>
<line x1="31.5" x2="49.0" y1="626.53" y2="626.53" stroke="#e03a2c" stroke-width="1.2"/>
<line x1="30.0" x2="49.0" y1="646.86" y2="646.86" stroke="#e03a2c" stroke-width="1.2"/>
<line x1="35.5" x2="49.0" y1="687.50" y2="687.50" stroke="#e03a2c" stroke-width="1.2"/>
<rect x="306.3" y="566.9" width="16.3" height="100.9" fill="url(#hb)" stroke="#666" stroke-width="0.4"/>
<line x1="304.9" x2="306.3" y1="576.2" y2="576.2" stroke="#444" stroke-width="0.5"/>
<line x1="322.6" x2="324.0" y1="576.2" y2="576.2" stroke="#444" stroke-width="0.5"/>
<text x="325.30" y="577.56" font-size="3.8" text-anchor="start" fill="#222" font-weight="normal" >2</text>
<line x1="304.9" x2="306.3" y1="597.4" y2="597.4" stroke="#444" stroke-width="0.5"/>
<line x1="322.6" x2="324.0" y1="597.4" y2="597.4" stroke="#444" stroke-width="0.5"/>
<text x="325.30" y="598.76" font-size="3.8" text-anchor="start" fill="#222" font-weight="normal" >1</text>
<line x1="304.9" x2="306.3" y1="618.2" y2="618.2" stroke="#444" stroke-width="0.5"/>
<line x1="322.6" x2="324.0" y1="618.2" y2="618.2" stroke="#444" stroke-width="0.5"/>
<text x="325.30" y="619.56" font-size="3.8" text-anchor="start" fill="#222" font-weight="normal" >0</text>
<line x1="304.9" x2="306.3" y1="639.4" y2="639.4" stroke="#444" stroke-width="0.5"/>
<line x1="322.6" x2="324.0" y1="639.4" y2="639.4" stroke="#444" stroke-width="0.5"/>
<text x="325.30" y="640.76" font-size="3.8" text-anchor="start" fill="#222" font-weight="normal" >-1</text>
<line x1="304.9" x2="306.3" y1="660.4" y2="660.4" stroke="#444" stroke-width="0.5"/>
<line x1="322.6" x2="324.0" y1="660.4" y2="660.4" stroke="#444" stroke-width="0.5"/>
<text x="325.30" y="661.76" font-size="3.8" text-anchor="start" fill="#222" font-weight="normal" >-2</text>
<svg x="415.4" y="346.2" width="81.4" height="61.5" viewBox="0 0 81.4 61.5"><rect x="-60" y="-60" width="201.4" height="181.5" fill="#666" filter="url(#gn)" transform="rotate(-50 40.7 30.75)"/><circle cx="6.1" cy="6.7" r="1.25" fill="#9a9a9a" stroke="#cfcfcf" stroke-width="0.7" filter="url(#b0)"/><circle cx="12.5" cy="6.2" r="1.25" fill="#9a9a9a" stroke="#cfcfcf" stroke-width="0.7" filter="url(#b0)"/><circle cx="74.8" cy="30.1" r="1.25" fill="#9a9a9a" stroke="#cfcfcf" stroke-width="0.7" filter="url(#b0)"/><circle cx="32.5" cy="51.2" r="1.25" fill="#9a9a9a" stroke="#cfcfcf" stroke-width="0.7" filter="url(#b0)"/><rect x="73.8" y="58.5" width="6.4" height="1.5" fill="#f4f4f4"/></svg>
<svg x="499.9" y="346.2" width="81.2" height="61.5"><rect width="100%" height="100%" fill="#080b05"/><g filter="url(#b1)" opacity="1.0"><circle cx="6.0" cy="6.8" r="1.2" fill="#6fd21e"/><circle cx="11.5" cy="7.1" r="1.3" fill="#6fd21e"/><circle cx="13.7" cy="5.7" r="1.0" fill="#6fd21e"/><circle cx="1.0" cy="18.2" r="1.3" fill="#6fd21e"/><circle cx="53.7" cy="32.9" r="1.5" fill="#6fd21e"/><circle cx="74.2" cy="30.1" r="1.3" fill="#6fd21e"/><circle cx="32.9" cy="51.3" r="1.3" fill="#6fd21e"/><line x1="22.4" y1="16.6" x2="17.8" y2="22.0" stroke="#3a9428" stroke-width="2.1" stroke-linecap="round"/><line x1="21.2" y1="17.9" x2="19.9" y2="19.4" stroke="#62c82a" stroke-width="1.1" stroke-linecap="round"/></g><rect x="73.6" y="58.5" width="6.4" height="1.5" fill="#f4f4f4"/></svg>
<svg x="584.2" y="346.2" width="81.6" height="61.5" viewBox="0 0 81.6 61.5"><rect x="-60" y="-60" width="201.6" height="181.5" fill="#666" filter="url(#gn)" transform="rotate(-50 40.8 30.75)"/><g filter="url(#b1)" opacity="0.85"><circle cx="6.0" cy="6.8" r="1.2" fill="#5fd035"/><circle cx="11.5" cy="7.1" r="1.3" fill="#5fd035"/><circle cx="13.7" cy="5.7" r="1.0" fill="#5fd035"/><circle cx="1.0" cy="18.2" r="1.3" fill="#5fd035"/><circle cx="53.7" cy="32.9" r="1.5" fill="#5fd035"/><circle cx="74.2" cy="30.1" r="1.3" fill="#5fd035"/><circle cx="32.9" cy="51.3" r="1.3" fill="#5fd035"/><line x1="22.4" y1="16.6" x2="17.8" y2="22.0" stroke="#3a9428" stroke-width="2.1" stroke-linecap="round"/><line x1="21.2" y1="17.9" x2="19.9" y2="19.4" stroke="#62c82a" stroke-width="1.1" stroke-linecap="round"/></g><circle cx="6.1" cy="6.7" r="1.25" fill="#9a9a9a" stroke="#cfcfcf" stroke-width="0.7" filter="url(#b0)"/><circle cx="12.5" cy="6.2" r="1.25" fill="#9a9a9a" stroke="#cfcfcf" stroke-width="0.7" filter="url(#b0)"/><circle cx="74.8" cy="30.1" r="1.25" fill="#9a9a9a" stroke="#cfcfcf" stroke-width="0.7" filter="url(#b0)"/><circle cx="32.5" cy="51.2" r="1.25" fill="#9a9a9a" stroke="#cfcfcf" stroke-width="0.7" filter="url(#b0)"/><rect x="74.0" y="58.5" width="6.4" height="1.5" fill="#f4f4f4"/></svg>
<svg x="415.4" y="410.2" width="81.4" height="61.6" viewBox="0 0 81.4 61.6"><rect x="-60" y="-60" width="201.4" height="181.6" fill="#666" filter="url(#gn2)" transform="rotate(40 40.7 30.8)"/><circle cx="46" cy="1.9" r="1.25" fill="#9a9a9a" stroke="#cfcfcf" stroke-width="0.7" filter="url(#b0)"/><circle cx="21.4" cy="15.3" r="1.25" fill="#9a9a9a" stroke="#cfcfcf" stroke-width="0.7" filter="url(#b0)"/><circle cx="67.1" cy="14.8" r="1.25" fill="#9a9a9a" stroke="#cfcfcf" stroke-width="0.7" filter="url(#b0)"/><circle cx="48" cy="20.8" r="1.25" fill="#9a9a9a" stroke="#cfcfcf" stroke-width="0.7" filter="url(#b0)"/><circle cx="29.1" cy="31.9" r="1.25" fill="#9a9a9a" stroke="#cfcfcf" stroke-width="0.7" filter="url(#b0)"/><circle cx="39.8" cy="31.3" r="1.25" fill="#9a9a9a" stroke="#cfcfcf" stroke-width="0.7" filter="url(#b0)"/><circle cx="20" cy="47.4" r="1.25" fill="#9a9a9a" stroke="#cfcfcf" stroke-width="0.7" filter="url(#b0)"/><circle cx="1" cy="14.1" r="1.25" fill="#9a9a9a" stroke="#cfcfcf" stroke-width="0.7" filter="url(#b0)"/><rect x="73.8" y="58.6" width="6.4" height="1.5" fill="#f4f4f4"/></svg>
<svg x="499.9" y="410.2" width="81.2" height="61.6"><rect width="100%" height="100%" fill="#091005"/><g filter="url(#b3)"><ellipse cx="25" cy="46" rx="34" ry="20" fill="#18440f" opacity="0.55" transform="rotate(-25 25 46)"/><ellipse cx="45" cy="35" rx="26" ry="14" fill="#143a0e" opacity="0.45" transform="rotate(-30 45 35)"/></g><g filter="url(#b15)"><ellipse cx="19.3" cy="33.2" rx="0.72" ry="2.09" fill="rgb(54,126,22)" opacity="1.00" transform="rotate(10 19.3 33.2)"/><ellipse cx="73.6" cy="28.6" rx="0.54" ry="2.24" fill="rgb(59,135,23)" opacity="1.00" transform="rotate(0 73.6 28.6)"/><ellipse cx="38.6" cy="39.0" rx="0.74" ry="2.49" fill="rgb(50,117,20)" opacity="1.00" transform="rotate(0 38.6 39.0)"/><ellipse cx="1.2" cy="47.4" rx="0.88" ry="1.15" fill="rgb(59,134,23)" opacity="1.00" transform="rotate(10 1.2 47.4)"/><ellipse cx="21.8" cy="36.3" rx="0.62" ry="2.36" fill="rgb(50,117,20)" opacity="1.00" transform="rotate(-35 21.8 36.3)"/><ellipse cx="64.9" cy="27.1" rx="0.85" ry="1.24" fill="rgb(52,121,21)" opacity="1.00" transform="rotate(20 64.9 27.1)"/><ellipse cx="20.9" cy="41.0" rx="0.83" ry="1.76" fill="rgb(54,124,21)" opacity="1.00" transform="rotate(-35 20.9 41.0)"/><ellipse cx="43.3" cy="24.9" rx="0.60" ry="2.56" fill="rgb(60,136,23)" opacity="1.00" transform="rotate(10 43.3 24.9)"/><ellipse cx="80.3" cy="40.9" rx="0.84" ry="2.64" fill="rgb(54,124,21)" opacity="1.00" transform="rotate(0 80.3 40.9)"/><ellipse cx="46.5" cy="17.4" rx="0.83" ry="2.68" fill="rgb(49,115,20)" opacity="1.00" transform="rotate(10 46.5 17.4)"/><ellipse cx="5.4" cy="54.7" rx="0.64" ry="1.75" fill="rgb(42,103,19)" opacity="1.00" transform="rotate(10 5.4 54.7)"/><ellipse cx="26.8" cy="53.7" rx="0.68" ry="2.70" fill="rgb(42,102,19)" opacity="1.00" transform="rotate(-25 26.8 53.7)"/><ellipse cx="8.8" cy="32.7" rx="0.89" ry="1.55" fill="rgb(45,108,19)" opacity="1.00" transform="rotate(-25 8.8 32.7)"/><ellipse cx="3.4" cy="52.9" rx="0.88" ry="2.53" fill="rgb(50,117,20)" opacity="1.00" transform="rotate(-35 3.4 52.9)"/><ellipse cx="70.5" cy="23.6" rx="0.76" ry="1.25" fill="rgb(47,112,20)" opacity="1.00" transform="rotate(0 70.5 23.6)"/><ellipse cx="51.4" cy="43.7" rx="0.65" ry="1.50" fill="rgb(53,123,21)" opacity="1.00" transform="rotate(-25 51.4 43.7)"/><ellipse cx="1.6" cy="37.6" rx="0.48" ry="2.10" fill="rgb(49,116,20)" opacity="1.00" transform="rotate(-35 1.6 37.6)"/><ellipse cx="74.3" cy="37.1" rx="0.67" ry="2.03" fill="rgb(62,140,23)" opacity="1.00" transform="rotate(10 74.3 37.1)"/><ellipse cx="20.3" cy="27.8" rx="0.59" ry="1.67" fill="rgb(58,132,22)" opacity="1.00" transform="rotate(-25 20.3 27.8)"/><ellipse cx="68.4" cy="16.1" rx="0.50" ry="2.40" fill="rgb(56,129,22)" opacity="1.00" transform="rotate(0 68.4 16.1)"/><ellipse cx="10.6" cy="30.5" rx="0.57" ry="1.61" fill="rgb(55,127,22)" opacity="1.00" transform="rotate(-35 10.6 30.5)"/><ellipse cx="7.9" cy="36.6" rx="0.75" ry="1.44" fill="rgb(43,105,19)" opacity="1.00" transform="rotate(20 7.9 36.6)"/><ellipse cx="60.1" cy="13.3" rx="0.57" ry="2.35" fill="rgb(53,123,21)" opacity="1.00" transform="rotate(10 60.1 13.3)"/><ellipse cx="15.5" cy="49.2" rx="0.53" ry="1.53" fill="rgb(59,134,23)" opacity="1.00" transform="rotate(10 15.5 49.2)"/><ellipse cx="64.3" cy="16.5" rx="0.64" ry="1.76" fill="rgb(42,103,19)" opacity="1.00" transform="rotate(-35 64.3 16.5)"/><ellipse cx="67.4" cy="38.0" rx="0.70" ry="2.68" fill="rgb(42,103,19)" opacity="1.00" transform="rotate(20 67.4 38.0)"/><ellipse cx="37.0" cy="46.0" rx="0.88" ry="1.96" fill="rgb(60,136,23)" opacity="1.00" transform="rotate(20 37.0 46.0)"/><ellipse cx="69.5" cy="59.2" rx="0.56" ry="1.14" fill="rgb(61,138,23)" opacity="1.00" transform="rotate(0 69.5 59.2)"/><ellipse cx="72.6" cy="54.9" rx="0.46" ry="2.29" fill="rgb(52,122,21)" opacity="1.00" transform="rotate(20 72.6 54.9)"/><ellipse cx="4.3" cy="55.7" rx="0.51" ry="2.65" fill="rgb(52,121,21)" opacity="1.00" transform="rotate(0 4.3 55.7)"/><ellipse cx="63.4" cy="21.5" rx="0.69" ry="2.40" fill="rgb(47,111,20)" opacity="1.00" transform="rotate(20 63.4 21.5)"/><ellipse cx="22.2" cy="54.3" rx="0.86" ry="1.87" fill="rgb(60,136,23)" opacity="1.00" transform="rotate(0 22.2 54.3)"/><ellipse cx="42.7" cy="25.8" rx="0.80" ry="1.08" fill="rgb(58,133,22)" opacity="1.00" transform="rotate(10 42.7 25.8)"/><ellipse cx="2.7" cy="43.5" rx="0.67" ry="1.33" fill="rgb(49,116,20)" opacity="1.00" transform="rotate(10 2.7 43.5)"/><ellipse cx="52.4" cy="35.8" rx="0.54" ry="1.61" fill="rgb(44,107,19)" opacity="1.00" transform="rotate(10 52.4 35.8)"/><ellipse cx="0.3" cy="44.1" rx="0.71" ry="1.15" fill="rgb(54,126,22)" opacity="1.00" transform="rotate(-35 0.3 44.1)"/><ellipse cx="63.4" cy="23.2" rx="0.73" ry="1.78" fill="rgb(55,127,22)" opacity="1.00" transform="rotate(-25 63.4 23.2)"/><ellipse cx="61.6" cy="19.2" rx="0.64" ry="1.11" fill="rgb(53,123,21)" opacity="1.00" transform="rotate(20 61.6 19.2)"/><ellipse cx="34.5" cy="53.7" rx="0.62" ry="2.53" fill="rgb(44,106,19)" opacity="1.00" transform="rotate(-25 34.5 53.7)"/><ellipse cx="55.9" cy="57.3" rx="0.83" ry="1.94" fill="rgb(56,128,22)" opacity="1.00" transform="rotate(-35 55.9 57.3)"/><ellipse cx="59.4" cy="34.4" rx="0.71" ry="1.09" fill="rgb(47,111,20)" opacity="1.00" transform="rotate(20 59.4 34.4)"/><ellipse cx="31.5" cy="32.2" rx="0.75" ry="1.69" fill="rgb(49,115,20)" opacity="1.00" transform="rotate(10 31.5 32.2)"/><ellipse cx="69.0" cy="1.6" rx="0.67" ry="2.21" fill="rgb(54,125,21)" opacity="1.00" transform="rotate(-25 69.0 1.6)"/><ellipse cx="41.4" cy="43.6" rx="0.79" ry="2.59" fill="rgb(53,124,21)" opacity="1.00" transform="rotate(10 41.4 43.6)"/><ellipse cx="70.4" cy="11.0" rx="0.90" ry="2.13" fill="rgb(55,126,22)" opacity="1.00" transform="rotate(-35 70.4 11.0)"/><ellipse cx="61.0" cy="24.0" rx="0.63" ry="1.65" fill="rgb(62,140,23)" opacity="1.00" transform="rotate(-35 61.0 24.0)"/><ellipse cx="68.3" cy="59.0" rx="0.71" ry="2.02" fill="rgb(56,129,22)" opacity="1.00" transform="rotate(0 68.3 59.0)"/><ellipse cx="13.2" cy="30.4" rx="0.76" ry="2.62" fill="rgb(57,130,22)" opacity="1.00" transform="rotate(0 13.2 30.4)"/><ellipse cx="47.4" cy="19.2" rx="0.76" ry="2.62" fill="rgb(56,128,22)" opacity="1.00" transform="rotate(-25 47.4 19.2)"/><ellipse cx="69.3" cy="36.3" rx="0.89" ry="2.52" fill="rgb(42,102,19)" opacity="1.00" transform="rotate(-25 69.3 36.3)"/><ellipse cx="38.8" cy="23.3" rx="0.61" ry="1.60" fill="rgb(50,118,21)" opacity="1.00" transform="rotate(20 38.8 23.3)"/><ellipse cx="56.5" cy="42.8" rx="0.71" ry="2.54" fill="rgb(42,103,19)" opacity="1.00" transform="rotate(0 56.5 42.8)"/><ellipse cx="63.4" cy="53.8" rx="0.86" ry="2.52" fill="rgb(62,140,23)" opacity="1.00" transform="rotate(10 63.4 53.8)"/><ellipse cx="69.2" cy="14.8" rx="0.57" ry="1.38" fill="rgb(61,137,23)" opacity="1.00" transform="rotate(10 69.2 14.8)"/><ellipse cx="20.7" cy="52.8" rx="0.64" ry="2.26" fill="rgb(44,106,19)" opacity="1.00" transform="rotate(10 20.7 52.8)"/><ellipse cx="21.4" cy="55.7" rx="0.65" ry="2.27" fill="rgb(42,102,19)" opacity="1.00" transform="rotate(-25 21.4 55.7)"/><ellipse cx="29.8" cy="1.4" rx="1.35" ry="0.99" fill="rgb(110,230,35)" opacity="1.00" transform="rotate(30 29.8 1.4)"/><ellipse cx="45.8" cy="2.4" rx="0.99" ry="0.99" fill="rgb(110,230,35)" opacity="1.00" transform="rotate(0 45.8 2.4)"/><ellipse cx="59.6" cy="1.7" rx="1.98" ry="1.44" fill="rgb(93,198,31)" opacity="1.00" transform="rotate(20 59.6 1.7)"/><ellipse cx="74.2" cy="11.1" rx="2.88" ry="2.34" fill="rgb(88,190,30)" opacity="1.00" transform="rotate(-30 74.2 11.1)"/><ellipse cx="67" cy="14.8" rx="0.99" ry="0.90" fill="rgb(110,230,35)" opacity="1.00" transform="rotate(0 67 14.8)"/><ellipse cx="0.7" cy="14.1" rx="1.08" ry="1.26" fill="rgb(110,230,35)" opacity="1.00" transform="rotate(0 0.7 14.1)"/><ellipse cx="6" cy="16.6" rx="1.44" ry="0.90" fill="rgb(101,214,33)" opacity="1.00" transform="rotate(-30 6 16.6)"/><ellipse cx="27.7" cy="12.1" rx="1.17" ry="2.70" fill="rgb(93,198,31)" opacity="1.00" transform="rotate(-10 27.7 12.1)"/><ellipse cx="37.2" cy="11.7" rx="1.17" ry="1.08" fill="rgb(93,198,31)" opacity="1.00" transform="rotate(0 37.2 11.7)"/><ellipse cx="20.8" cy="23.9" rx="1.62" ry="2.52" fill="rgb(105,222,34)" opacity="1.00" transform="rotate(10 20.8 23.9)"/><ellipse cx="34.7" cy="28" rx="2.34" ry="3.06" fill="rgb(110,230,35)" opacity="1.00" transform="rotate(30 34.7 28)"/><ellipse cx="39.5" cy="31.1" rx="1.17" ry="1.44" fill="rgb(118,246,37)" opacity="1.00" transform="rotate(20 39.5 31.1)"/><ellipse cx="28.8" cy="32.2" rx="0.72" ry="1.35" fill="rgb(118,246,37)" opacity="1.00" transform="rotate(0 28.8 32.2)"/><ellipse cx="48.5" cy="22.5" rx="0.90" ry="2.88" fill="rgb(105,222,34)" opacity="1.00" transform="rotate(-30 48.5 22.5)"/><ellipse cx="58.3" cy="17.6" rx="0.90" ry="2.70" fill="rgb(97,206,32)" opacity="1.00" transform="rotate(-40 58.3 17.6)"/><ellipse cx="56.2" cy="31.1" rx="1.35" ry="0.90" fill="rgb(105,222,34)" opacity="1.00" transform="rotate(30 56.2 31.1)"/><ellipse cx="64.9" cy="36.3" rx="2.07" ry="2.25" fill="rgb(110,230,35)" opacity="1.00" transform="rotate(0 64.9 36.3)"/><ellipse cx="56.2" cy="40.5" rx="1.98" ry="1.62" fill="rgb(97,206,32)" opacity="1.00" transform="rotate(20 56.2 40.5)"/><ellipse cx="3.5" cy="38.8" rx="2.70" ry="1.62" fill="rgb(105,222,34)" opacity="1.00" transform="rotate(-20 3.5 38.8)"/><ellipse cx="18" cy="35.6" rx="1.80" ry="1.44" fill="rgb(76,166,27)" opacity="1.00" transform="rotate(0 18 35.6)"/><ellipse cx="19.4" cy="47.4" rx="1.62" ry="0.90" fill="rgb(118,246,37)" opacity="1.00" transform="rotate(-10 19.4 47.4)"/><ellipse cx="26.4" cy="46" rx="1.44" ry="2.34" fill="rgb(93,198,31)" opacity="1.00" transform="rotate(20 26.4 46)"/><ellipse cx="1.4" cy="51.6" rx="1.26" ry="0.90" fill="rgb(110,230,35)" opacity="1.00" transform="rotate(0 1.4 51.6)"/><ellipse cx="13.2" cy="54.4" rx="4.50" ry="3.15" fill="rgb(60,137,23)" opacity="1.00" transform="rotate(-20 13.2 54.4)"/><ellipse cx="43.7" cy="57.1" rx="2.34" ry="3.42" fill="rgb(114,238,36)" opacity="1.00" transform="rotate(10 43.7 57.1)"/><ellipse cx="55.5" cy="53" rx="1.26" ry="2.34" fill="rgb(110,230,35)" opacity="1.00" transform="rotate(20 55.5 53)"/><ellipse cx="61" cy="55" rx="1.44" ry="1.08" fill="rgb(101,214,33)" opacity="1.00" transform="rotate(0 61 55)"/><ellipse cx="69.3" cy="46.7" rx="2.16" ry="1.44" fill="rgb(88,190,30)" opacity="1.00" transform="rotate(-20 69.3 46.7)"/><ellipse cx="77.7" cy="51.6" rx="1.44" ry="2.34" fill="rgb(76,166,27)" opacity="1.00" transform="rotate(10 77.7 51.6)"/><ellipse cx="38.1" cy="47.4" rx="1.80" ry="3.15" fill="rgb(71,158,26)" opacity="1.00" transform="rotate(15 38.1 47.4)"/><ellipse cx="47.9" cy="40.5" rx="1.44" ry="2.70" fill="rgb(67,150,25)" opacity="1.00" transform="rotate(10 47.9 40.5)"/><ellipse cx="25" cy="20" rx="1.08" ry="3.15" fill="rgb(67,150,25)" opacity="1.00" transform="rotate(15 25 20)"/><ellipse cx="31" cy="38" rx="1.35" ry="3.60" fill="rgb(67,150,25)" opacity="1.00" transform="rotate(10 31 38)"/><ellipse cx="43" cy="35" rx="1.17" ry="3.15" fill="rgb(67,150,25)" opacity="1.00" transform="rotate(15 43 35)"/><ellipse cx="10" cy="30" rx="2.25" ry="1.35" fill="rgb(63,142,24)" opacity="1.00" transform="rotate(-30 10 30)"/><ellipse cx="52" cy="48" rx="1.35" ry="3.15" fill="rgb(71,158,26)" opacity="1.00" transform="rotate(12 52 48)"/><ellipse cx="33" cy="55" rx="1.80" ry="3.60" fill="rgb(76,166,27)" opacity="1.00" transform="rotate(10 33 55)"/><ellipse cx="22" cy="56" rx="1.80" ry="3.15" fill="rgb(76,166,27)" opacity="1.00" transform="rotate(10 22 56)"/><ellipse cx="6" cy="46" rx="2.25" ry="1.80" fill="rgb(67,150,25)" opacity="1.00" transform="rotate(0 6 46)"/><ellipse cx="64" cy="26" rx="1.08" ry="2.34" fill="rgb(67,150,25)" opacity="1.00" transform="rotate(-30 64 26)"/><ellipse cx="70" cy="22" rx="1.08" ry="2.34" fill="rgb(63,142,24)" opacity="1.00" transform="rotate(-30 70 22)"/><ellipse cx="45" cy="14" rx="1.08" ry="2.25" fill="rgb(63,142,24)" opacity="1.00" transform="rotate(-20 45 14)"/><ellipse cx="15" cy="12" rx="1.35" ry="0.90" fill="rgb(54,126,22)" opacity="1.00" transform="rotate(0 15 12)"/><ellipse cx="75" cy="38" rx="1.08" ry="1.98" fill="rgb(59,134,23)" opacity="1.00" transform="rotate(0 75 38)"/><ellipse cx="63" cy="47" rx="1.08" ry="2.16" fill="rgb(67,150,25)" opacity="1.00" transform="rotate(10 63 47)"/><ellipse cx="36" cy="20" rx="0.90" ry="2.34" fill="rgb(71,158,26)" opacity="1.00" transform="rotate(-20 36 20)"/><ellipse cx="40" cy="42" rx="1.08" ry="2.52" fill="rgb(67,150,25)" opacity="1.00" transform="rotate(10 40 42)"/><ellipse cx="28" cy="50" rx="1.35" ry="2.70" fill="rgb(71,158,26)" opacity="1.00" transform="rotate(10 28 50)"/><ellipse cx="48" cy="58" rx="1.80" ry="2.25" fill="rgb(76,166,27)" opacity="1.00" transform="rotate(0 48 58)"/><ellipse cx="8" cy="58" rx="2.70" ry="1.80" fill="rgb(71,158,26)" opacity="1.00" transform="rotate(0 8 58)"/><ellipse cx="17" cy="42" rx="1.80" ry="2.25" fill="rgb(63,142,24)" opacity="1.00" transform="rotate(0 17 42)"/></g><rect x="73.6" y="58.6" width="6.4" height="1.5" fill="#f4f4f4"/></svg>
<svg x="584.2" y="410.2" width="81.6" height="61.6" viewBox="0 0 81.6 61.6"><rect x="-60" y="-60" width="201.6" height="181.6" fill="#666" filter="url(#gn2)" transform="rotate(40 40.8 30.8)"/><g filter="url(#b15)"><ellipse cx="19.3" cy="33.2" rx="0.72" ry="2.09" fill="rgb(104,191,80)" opacity="0.43" transform="rotate(10 19.3 33.2)"/><ellipse cx="73.6" cy="28.6" rx="0.54" ry="2.24" fill="rgb(106,194,82)" opacity="0.45" transform="rotate(0 73.6 28.6)"/><ellipse cx="38.6" cy="39.0" rx="0.74" ry="2.49" fill="rgb(101,187,78)" opacity="0.40" transform="rotate(0 38.6 39.0)"/><ellipse cx="1.2" cy="47.4" rx="0.88" ry="1.15" fill="rgb(106,194,82)" opacity="0.45" transform="rotate(10 1.2 47.4)"/><ellipse cx="21.8" cy="36.3" rx="0.62" ry="2.36" fill="rgb(101,187,78)" opacity="0.40" transform="rotate(-35 21.8 36.3)"/><ellipse cx="64.9" cy="27.1" rx="0.85" ry="1.24" fill="rgb(102,189,79)" opacity="0.41" transform="rotate(20 64.9 27.1)"/><ellipse cx="20.9" cy="41.0" rx="0.83" ry="1.76" fill="rgb(103,190,80)" opacity="0.42" transform="rotate(-35 20.9 41.0)"/><ellipse cx="43.3" cy="24.9" rx="0.60" ry="2.56" fill="rgb(106,194,82)" opacity="0.46" transform="rotate(10 43.3 24.9)"/><ellipse cx="80.3" cy="40.9" rx="0.84" ry="2.64" fill="rgb(103,190,80)" opacity="0.42" transform="rotate(0 80.3 40.9)"/><ellipse cx="46.5" cy="17.4" rx="0.83" ry="2.68" fill="rgb(101,187,78)" opacity="0.39" transform="rotate(10 46.5 17.4)"/><ellipse cx="5.4" cy="54.7" rx="0.64" ry="1.75" fill="rgb(98,182,76)" opacity="0.36" transform="rotate(10 5.4 54.7)"/><ellipse cx="26.8" cy="53.7" rx="0.68" ry="2.70" fill="rgb(98,182,76)" opacity="0.35" transform="rotate(-25 26.8 53.7)"/><ellipse cx="8.8" cy="32.7" rx="0.89" ry="1.55" fill="rgb(99,184,77)" opacity="0.37" transform="rotate(-25 8.8 32.7)"/><ellipse cx="3.4" cy="52.9" rx="0.88" ry="2.53" fill="rgb(101,187,78)" opacity="0.40" transform="rotate(-35 3.4 52.9)"/><ellipse cx="70.5" cy="23.6" rx="0.76" ry="1.25" fill="rgb(100,186,78)" opacity="0.38" transform="rotate(0 70.5 23.6)"/><ellipse cx="51.4" cy="43.7" rx="0.65" ry="1.50" fill="rgb(103,190,80)" opacity="0.42" transform="rotate(-25 51.4 43.7)"/><ellipse cx="1.6" cy="37.6" rx="0.48" ry="2.10" fill="rgb(101,187,78)" opacity="0.39" transform="rotate(-35 1.6 37.6)"/><ellipse cx="74.3" cy="37.1" rx="0.67" ry="2.03" fill="rgb(107,196,83)" opacity="0.47" transform="rotate(10 74.3 37.1)"/><ellipse cx="20.3" cy="27.8" rx="0.59" ry="1.67" fill="rgb(105,193,81)" opacity="0.44" transform="rotate(-25 20.3 27.8)"/><ellipse cx="68.4" cy="16.1" rx="0.50" ry="2.40" fill="rgb(104,192,81)" opacity="0.44" transform="rotate(0 68.4 16.1)"/><ellipse cx="10.6" cy="30.5" rx="0.57" ry="1.61" fill="rgb(104,191,80)" opacity="0.43" transform="rotate(-35 10.6 30.5)"/><ellipse cx="7.9" cy="36.6" rx="0.75" ry="1.44" fill="rgb(98,183,76)" opacity="0.36" transform="rotate(20 7.9 36.6)"/><ellipse cx="60.1" cy="13.3" rx="0.57" ry="2.35" fill="rgb(103,189,79)" opacity="0.42" transform="rotate(10 60.1 13.3)"/><ellipse cx="15.5" cy="49.2" rx="0.53" ry="1.53" fill="rgb(106,194,82)" opacity="0.45" transform="rotate(10 15.5 49.2)"/><ellipse cx="64.3" cy="16.5" rx="0.64" ry="1.76" fill="rgb(98,182,76)" opacity="0.35" transform="rotate(-35 64.3 16.5)"/><ellipse cx="67.4" cy="38.0" rx="0.70" ry="2.68" fill="rgb(98,182,76)" opacity="0.35" transform="rotate(20 67.4 38.0)"/><ellipse cx="37.0" cy="46.0" rx="0.88" ry="1.96" fill="rgb(106,194,82)" opacity="0.46" transform="rotate(20 37.0 46.0)"/><ellipse cx="69.5" cy="59.2" rx="0.56" ry="1.14" fill="rgb(107,195,82)" opacity="0.47" transform="rotate(0 69.5 59.2)"/><ellipse cx="72.6" cy="54.9" rx="0.46" ry="2.29" fill="rgb(103,189,79)" opacity="0.41" transform="rotate(20 72.6 54.9)"/><ellipse cx="4.3" cy="55.7" rx="0.51" ry="2.65" fill="rgb(102,189,79)" opacity="0.41" transform="rotate(0 4.3 55.7)"/><ellipse cx="63.4" cy="21.5" rx="0.69" ry="2.40" fill="rgb(100,185,77)" opacity="0.38" transform="rotate(20 63.4 21.5)"/><ellipse cx="22.2" cy="54.3" rx="0.86" ry="1.87" fill="rgb(106,194,82)" opacity="0.46" transform="rotate(0 22.2 54.3)"/><ellipse cx="42.7" cy="25.8" rx="0.80" ry="1.08" fill="rgb(105,193,81)" opacity="0.45" transform="rotate(10 42.7 25.8)"/><ellipse cx="2.7" cy="43.5" rx="0.67" ry="1.33" fill="rgb(101,187,78)" opacity="0.39" transform="rotate(10 2.7 43.5)"/><ellipse cx="52.4" cy="35.8" rx="0.54" ry="1.61" fill="rgb(99,183,76)" opacity="0.37" transform="rotate(10 52.4 35.8)"/><ellipse cx="0.3" cy="44.1" rx="0.71" ry="1.15" fill="rgb(104,191,80)" opacity="0.43" transform="rotate(-35 0.3 44.1)"/><ellipse cx="63.4" cy="23.2" rx="0.73" ry="1.78" fill="rgb(104,191,80)" opacity="0.43" transform="rotate(-25 63.4 23.2)"/><ellipse cx="61.6" cy="19.2" rx="0.64" ry="1.11" fill="rgb(103,190,80)" opacity="0.42" transform="rotate(20 61.6 19.2)"/><ellipse cx="34.5" cy="53.7" rx="0.62" ry="2.53" fill="rgb(99,183,76)" opacity="0.37" transform="rotate(-25 34.5 53.7)"/><ellipse cx="55.9" cy="57.3" rx="0.83" ry="1.94" fill="rgb(104,192,81)" opacity="0.43" transform="rotate(-35 55.9 57.3)"/><ellipse cx="59.4" cy="34.4" rx="0.71" ry="1.09" fill="rgb(100,185,77)" opacity="0.38" transform="rotate(20 59.4 34.4)"/><ellipse cx="31.5" cy="32.2" rx="0.75" ry="1.69" fill="rgb(101,187,78)" opacity="0.39" transform="rotate(10 31.5 32.2)"/><ellipse cx="69.0" cy="1.6" rx="0.67" ry="2.21" fill="rgb(103,190,80)" opacity="0.42" transform="rotate(-25 69.0 1.6)"/><ellipse cx="41.4" cy="43.6" rx="0.79" ry="2.59" fill="rgb(103,190,80)" opacity="0.42" transform="rotate(10 41.4 43.6)"/><ellipse cx="70.4" cy="11.0" rx="0.90" ry="2.13" fill="rgb(104,191,80)" opacity="0.43" transform="rotate(-35 70.4 11.0)"/><ellipse cx="61.0" cy="24.0" rx="0.63" ry="1.65" fill="rgb(107,196,83)" opacity="0.47" transform="rotate(-35 61.0 24.0)"/><ellipse cx="68.3" cy="59.0" rx="0.71" ry="2.02" fill="rgb(104,192,81)" opacity="0.44" transform="rotate(0 68.3 59.0)"/><ellipse cx="13.2" cy="30.4" rx="0.76" ry="2.62" fill="rgb(105,192,81)" opacity="0.44" transform="rotate(0 13.2 30.4)"/><ellipse cx="47.4" cy="19.2" rx="0.76" ry="2.62" fill="rgb(104,192,81)" opacity="0.43" transform="rotate(-25 47.4 19.2)"/><ellipse cx="69.3" cy="36.3" rx="0.89" ry="2.52" fill="rgb(98,182,76)" opacity="0.35" transform="rotate(-25 69.3 36.3)"/><ellipse cx="38.8" cy="23.3" rx="0.61" ry="1.60" fill="rgb(102,188,79)" opacity="0.40" transform="rotate(20 38.8 23.3)"/><ellipse cx="56.5" cy="42.8" rx="0.71" ry="2.54" fill="rgb(98,182,76)" opacity="0.35" transform="rotate(0 56.5 42.8)"/><ellipse cx="63.4" cy="53.8" rx="0.86" ry="2.52" fill="rgb(107,196,83)" opacity="0.47" transform="rotate(10 63.4 53.8)"/><ellipse cx="69.2" cy="14.8" rx="0.57" ry="1.38" fill="rgb(106,195,82)" opacity="0.46" transform="rotate(10 69.2 14.8)"/><ellipse cx="20.7" cy="52.8" rx="0.64" ry="2.26" fill="rgb(99,183,76)" opacity="0.36" transform="rotate(10 20.7 52.8)"/><ellipse cx="21.4" cy="55.7" rx="0.65" ry="2.27" fill="rgb(98,182,76)" opacity="0.35" transform="rotate(-25 21.4 55.7)"/><ellipse cx="29.8" cy="1.4" rx="1.35" ry="0.99" fill="rgb(130,230,100)" opacity="0.75" transform="rotate(30 29.8 1.4)"/><ellipse cx="45.8" cy="2.4" rx="0.99" ry="0.99" fill="rgb(130,230,100)" opacity="0.75" transform="rotate(0 45.8 2.4)"/><ellipse cx="59.6" cy="1.7" rx="1.98" ry="1.44" fill="rgb(122,218,94)" opacity="0.65" transform="rotate(20 59.6 1.7)"/><ellipse cx="74.2" cy="11.1" rx="2.88" ry="2.34" fill="rgb(120,215,92)" opacity="0.62" transform="rotate(-30 74.2 11.1)"/><ellipse cx="67" cy="14.8" rx="0.99" ry="0.90" fill="rgb(130,230,100)" opacity="0.75" transform="rotate(0 67 14.8)"/><ellipse cx="0.7" cy="14.1" rx="1.08" ry="1.26" fill="rgb(130,230,100)" opacity="0.75" transform="rotate(0 0.7 14.1)"/><ellipse cx="6" cy="16.6" rx="1.44" ry="0.90" fill="rgb(126,224,97)" opacity="0.70" transform="rotate(-30 6 16.6)"/><ellipse cx="27.7" cy="12.1" rx="1.17" ry="2.70" fill="rgb(122,218,94)" opacity="0.65" transform="rotate(-10 27.7 12.1)"/><ellipse cx="37.2" cy="11.7" rx="1.17" ry="1.08" fill="rgb(122,218,94)" opacity="0.65" transform="rotate(0 37.2 11.7)"/><ellipse cx="20.8" cy="23.9" rx="1.62" ry="2.52" fill="rgb(128,227,98)" opacity="0.72" transform="rotate(10 20.8 23.9)"/><ellipse cx="34.7" cy="28" rx="2.34" ry="3.06" fill="rgb(130,230,100)" opacity="0.75" transform="rotate(30 34.7 28)"/><ellipse cx="39.5" cy="31.1" rx="1.17" ry="1.44" fill="rgb(134,236,103)" opacity="0.80" transform="rotate(20 39.5 31.1)"/><ellipse cx="28.8" cy="32.2" rx="0.72" ry="1.35" fill="rgb(134,236,103)" opacity="0.80" transform="rotate(0 28.8 32.2)"/><ellipse cx="48.5" cy="22.5" rx="0.90" ry="2.88" fill="rgb(128,227,98)" opacity="0.72" transform="rotate(-30 48.5 22.5)"/><ellipse cx="58.3" cy="17.6" rx="0.90" ry="2.70" fill="rgb(124,221,95)" opacity="0.68" transform="rotate(-40 58.3 17.6)"/><ellipse cx="56.2" cy="31.1" rx="1.35" ry="0.90" fill="rgb(128,227,98)" opacity="0.72" transform="rotate(30 56.2 31.1)"/><ellipse cx="64.9" cy="36.3" rx="2.07" ry="2.25" fill="rgb(130,230,100)" opacity="0.75" transform="rotate(0 64.9 36.3)"/><ellipse cx="56.2" cy="40.5" rx="1.98" ry="1.62" fill="rgb(124,221,95)" opacity="0.68" transform="rotate(20 56.2 40.5)"/><ellipse cx="3.5" cy="38.8" rx="2.70" ry="1.62" fill="rgb(128,227,98)" opacity="0.72" transform="rotate(-20 3.5 38.8)"/><ellipse cx="18" cy="35.6" rx="1.80" ry="1.44" fill="rgb(114,206,88)" opacity="0.55" transform="rotate(0 18 35.6)"/><ellipse cx="19.4" cy="47.4" rx="1.62" ry="0.90" fill="rgb(134,236,103)" opacity="0.80" transform="rotate(-10 19.4 47.4)"/><ellipse cx="26.4" cy="46" rx="1.44" ry="2.34" fill="rgb(122,218,94)" opacity="0.65" transform="rotate(20 26.4 46)"/><ellipse cx="1.4" cy="51.6" rx="1.26" ry="0.90" fill="rgb(130,230,100)" opacity="0.75" transform="rotate(0 1.4 51.6)"/><ellipse cx="13.2" cy="54.4" rx="4.50" ry="3.15" fill="rgb(106,195,82)" opacity="0.46" transform="rotate(-20 13.2 54.4)"/><ellipse cx="43.7" cy="57.1" rx="2.34" ry="3.42" fill="rgb(132,233,101)" opacity="0.78" transform="rotate(10 43.7 57.1)"/><ellipse cx="55.5" cy="53" rx="1.26" ry="2.34" fill="rgb(130,230,100)" opacity="0.75" transform="rotate(20 55.5 53)"/><ellipse cx="61" cy="55" rx="1.44" ry="1.08" fill="rgb(126,224,97)" opacity="0.70" transform="rotate(0 61 55)"/><ellipse cx="69.3" cy="46.7" rx="2.16" ry="1.44" fill="rgb(120,215,92)" opacity="0.62" transform="rotate(-20 69.3 46.7)"/><ellipse cx="77.7" cy="51.6" rx="1.44" ry="2.34" fill="rgb(114,206,88)" opacity="0.55" transform="rotate(10 77.7 51.6)"/><ellipse cx="38.1" cy="47.4" rx="1.80" ry="3.15" fill="rgb(112,203,86)" opacity="0.53" transform="rotate(15 38.1 47.4)"/><ellipse cx="47.9" cy="40.5" rx="1.44" ry="2.70" fill="rgb(110,200,85)" opacity="0.50" transform="rotate(10 47.9 40.5)"/><ellipse cx="25" cy="20" rx="1.08" ry="3.15" fill="rgb(110,200,85)" opacity="0.50" transform="rotate(15 25 20)"/><ellipse cx="31" cy="38" rx="1.35" ry="3.60" fill="rgb(110,200,85)" opacity="0.50" transform="rotate(10 31 38)"/><ellipse cx="43" cy="35" rx="1.17" ry="3.15" fill="rgb(110,200,85)" opacity="0.50" transform="rotate(15 43 35)"/><ellipse cx="10" cy="30" rx="2.25" ry="1.35" fill="rgb(108,197,83)" opacity="0.47" transform="rotate(-30 10 30)"/><ellipse cx="52" cy="48" rx="1.35" ry="3.15" fill="rgb(112,203,86)" opacity="0.53" transform="rotate(12 52 48)"/><ellipse cx="33" cy="55" rx="1.80" ry="3.60" fill="rgb(114,206,88)" opacity="0.55" transform="rotate(10 33 55)"/><ellipse cx="22" cy="56" rx="1.80" ry="3.15" fill="rgb(114,206,88)" opacity="0.55" transform="rotate(10 22 56)"/><ellipse cx="6" cy="46" rx="2.25" ry="1.80" fill="rgb(110,200,85)" opacity="0.50" transform="rotate(0 6 46)"/><ellipse cx="64" cy="26" rx="1.08" ry="2.34" fill="rgb(110,200,85)" opacity="0.50" transform="rotate(-30 64 26)"/><ellipse cx="70" cy="22" rx="1.08" ry="2.34" fill="rgb(108,197,83)" opacity="0.47" transform="rotate(-30 70 22)"/><ellipse cx="45" cy="14" rx="1.08" ry="2.25" fill="rgb(108,197,83)" opacity="0.47" transform="rotate(-20 45 14)"/><ellipse cx="15" cy="12" rx="1.35" ry="0.90" fill="rgb(104,191,80)" opacity="0.42" transform="rotate(0 15 12)"/><ellipse cx="75" cy="38" rx="1.08" ry="1.98" fill="rgb(106,194,82)" opacity="0.45" transform="rotate(0 75 38)"/><ellipse cx="63" cy="47" rx="1.08" ry="2.16" fill="rgb(110,200,85)" opacity="0.50" transform="rotate(10 63 47)"/><ellipse cx="36" cy="20" rx="0.90" ry="2.34" fill="rgb(112,203,86)" opacity="0.53" transform="rotate(-20 36 20)"/><ellipse cx="40" cy="42" rx="1.08" ry="2.52" fill="rgb(110,200,85)" opacity="0.50" transform="rotate(10 40 42)"/><ellipse cx="28" cy="50" rx="1.35" ry="2.70" fill="rgb(112,203,86)" opacity="0.53" transform="rotate(10 28 50)"/><ellipse cx="48" cy="58" rx="1.80" ry="2.25" fill="rgb(114,206,88)" opacity="0.55" transform="rotate(0 48 58)"/><ellipse cx="8" cy="58" rx="2.70" ry="1.80" fill="rgb(112,203,86)" opacity="0.53" transform="rotate(0 8 58)"/><ellipse cx="17" cy="42" rx="1.80" ry="2.25" fill="rgb(108,197,83)" opacity="0.47" transform="rotate(0 17 42)"/></g><circle cx="46" cy="1.9" r="1.25" fill="#9a9a9a" stroke="#cfcfcf" stroke-width="0.7" filter="url(#b0)"/><circle cx="21.4" cy="15.3" r="1.25" fill="#9a9a9a" stroke="#cfcfcf" stroke-width="0.7" filter="url(#b0)"/><circle cx="67.1" cy="14.8" r="1.25" fill="#9a9a9a" stroke="#cfcfcf" stroke-width="0.7" filter="url(#b0)"/><circle cx="48" cy="20.8" r="1.25" fill="#9a9a9a" stroke="#cfcfcf" stroke-width="0.7" filter="url(#b0)"/><circle cx="29.1" cy="31.9" r="1.25" fill="#9a9a9a" stroke="#cfcfcf" stroke-width="0.7" filter="url(#b0)"/><circle cx="39.8" cy="31.3" r="1.25" fill="#9a9a9a" stroke="#cfcfcf" stroke-width="0.7" filter="url(#b0)"/><circle cx="20" cy="47.4" r="1.25" fill="#9a9a9a" stroke="#cfcfcf" stroke-width="0.7" filter="url(#b0)"/><circle cx="1" cy="14.1" r="1.25" fill="#9a9a9a" stroke="#cfcfcf" stroke-width="0.7" filter="url(#b0)"/><rect x="74.0" y="58.6" width="6.4" height="1.5" fill="#f4f4f4"/></svg>
<text x="493.00" y="344.32" font-size="10.4" text-anchor="end" fill="#4a4a4a" font-weight="normal" stroke="#4a4a4a" stroke-width="0.22">Blank</text>
<text x="580.40" y="344.32" font-size="10.4" text-anchor="end" fill="#79c328" font-weight="normal" stroke="#79c328" stroke-width="0.22">ROS</text>
<text x="665.7" y="344.32" font-size="10.4" text-anchor="end" fill="#3c3c3c" stroke="#3c3c3c" stroke-width="0.22">Mer<tspan fill="#86cb2c" stroke="#86cb2c">ge</tspan></text>
<text x="384.90" y="382.38" font-size="10" text-anchor="start" fill="#111" font-weight="normal" stroke="#111" stroke-width="0.28">COFF</text>
<text x="385.90" y="442.88" font-size="10" text-anchor="start" fill="#111" font-weight="normal" stroke="#111" stroke-width="0.28">EMFF</text>
<svg x="416.0" y="505.0" width="82.1" height="61.2"><rect width="100%" height="100%" fill="#100604"/><g filter="url(#b1)" fill="none" stroke-linecap="round"><path d="M13.4 41.9l0.4 0.57M18.0 37.1l0.6 0.32M7.6 1.8l0.2 -0.55M44.6 3.5l0.6 0.26M54.2 2.4l0.4 0.38M54.7 52.7l0.7 -0.23M77.5 45.2l0.4 0.52M67.5 35.8l0.6 -0.11M12.3 30.6l0.5 -0.40M24.3 38.7l0.4 -0.63M45.4 47.7l0.5 -0.50M76.0 32.1l0.7 -0.17M27.5 27.2l0.4 -0.43M30.6 38.7l0.4 0.58M36.0 13.9l0.2 0.72M2.3 12.9l0.6 0.40M11.8 41.2l0.3 0.66M38.8 4.3l0.3 0.46M39.4 36.8l0.3 -0.45M34.3 41.6l0.5 0.47M32.9 6.2l0.1 0.64M28.3 29.3l0.6 -0.46M27.8 33.4l0.5 0.60M21.7 57.5l0.4 -0.42M16.0 48.0l0.6 -0.44M25.4 7.5l0.5 0.28M46.2 52.7l0.5 -0.37M56.4 53.9l0.5 0.35M24.7 45.4l0.4 0.48M27.4 9.9l0.3 -0.45M67.6 50.2l0.5 0.34M44.0 61.2l0.4 -0.62M47.7 56.2l0.0 -0.66M60.8 36.4l0.6 -0.24M31.9 53.4l0.4 0.45M42.6 19.6l0.3 0.56M15.5 37.9l0.4 0.62M5.1 43.0l0.4 0.41M30.2 43.5l0.6 0.26M16.6 30.5l0.4 0.64M9.8 32.6l0.2 -0.54M79.0 44.4l0.5 0.60M27.4 15.1l0.6 0.12M45.9 38.8l0.5 -0.36M6.4 16.8l0.4 -0.55M61.5 32.7l0.5 0.35M41.4 46.3l0.1 0.70M56.1 46.8l0.7 -0.30M66.2 47.2l0.3 0.68M79.4 18.3l0.4 0.39M-0.0 34.9l0.6 -0.44M11.1 47.1l0.1 0.76M25.7 0.9l0.6 -0.41M76.4 5.2l0.6 0.50M37.5 10.9l0.5 -0.36M11.2 5.4l0.7 0.00M72.2 43.4l0.5 -0.52M18.0 52.9l0.3 0.68M29.7 54.8l0.5 -0.29M78.9 37.3l0.6 -0.28M65.3 57.3l0.6 -0.39M6.2 43.8l0.3 -0.48M52.2 47.5l0.5 -0.38M48.8 2.7l0.5 0.46M24.0 52.5l0.4 -0.56M78.2 20.7l0.4 -0.40M9.9 17.6l0.5 0.27M29.1 60.0l0.6 0.22M8.5 25.9l0.5 -0.41M9.4 37.7l0.5 -0.28M63.1 43.9l0.6 0.43M64.8 55.9l0.7 0.04M58.7 28.6l0.2 0.54M81.0 38.9l0.4 0.40M29.5 48.3l0.6 -0.47M65.3 27.3l0.4 -0.34M1.1 47.4l0.6 0.45M2.9 9.9l0.3 -0.69M55.3 57.7l0.6 -0.24M66.5 9.0l0.6 0.14M77.0 15.1l0.4 -0.61M38.8 28.9l0.6 0.13M77.3 12.9l0.3 -0.47M1.9 5.4l0.5 -0.34M69.2 43.2l0.7 0.26M34.0 24.1l0.7 0.32M48.4 37.0l0.7 0.06M0.1 58.0l0.4 -0.35M68.0 9.4l0.4 -0.34M52.7 15.0l0.4 0.45M27.2 16.3l0.4 0.64M5.0 21.2l0.5 0.34M69.2 52.5l0.6 -0.40M11.9 19.4l0.4 0.63M12.4 36.1l0.6 -0.40M30.1 2.5l0.3 -0.46M36.5 22.0l0.6 -0.36M37.1 50.4l0.3 0.56M81.3 56.3l0.5 -0.47M6.5 11.2l0.3 0.68M40.6 1.0l0.6 0.11M16.7 51.5l0.5 0.54M8.4 29.3l0.3 0.62M38.5 1.2l0.3 -0.42M47.4 32.0l0.4 -0.58M59.7 32.3l0.3 0.58M1.0 25.8l0.5 -0.23M12.8 7.1l0.4 -0.54M79.4 1.3l0.3 0.56M50.1 56.7l0.6 -0.34M41.2 23.1l0.5 0.45M66.5 27.8l0.3 0.47M41.6 19.3l0.5 -0.39M64.2 17.0l0.2 0.59M15.7 54.4l0.5 -0.42M24.6 54.4l0.7 0.18M40.3 53.5l0.3 0.60M2.9 54.1l0.3 0.54M70.2 18.2l0.5 0.47M73.9 32.2l0.5 0.53M7.6 48.8l0.6 -0.31M46.8 23.9l0.1 0.60M62.3 24.9l0.3 0.52" stroke="#841911" stroke-width="1.5"/><path d="M60.6 53.3l0.5 0.48M39.6 16.5l0.6 -0.38M22.5 48.5l0.4 -0.45M75.2 8.3l0.5 -0.34M32.6 58.9l0.7 -0.30M21.6 21.6l0.5 -0.36M32.4 40.3l0.7 -0.19M34.2 14.2l0.1 -0.54M41.8 10.0l0.7 -0.13M45.2 61.1l0.3 -0.51M30.5 41.1l0.4 0.59M36.6 7.0l0.2 0.58M15.9 48.8l0.5 0.31M30.6 45.7l0.5 -0.34M35.6 21.1l0.5 -0.29M75.6 33.1l0.6 0.32M44.8 17.9l0.5 -0.40M43.0 40.3l0.4 0.50M60.5 40.2l0.4 0.45M5.5 30.0l0.2 0.74M38.8 56.5l0.3 -0.49M17.3 38.7l0.0 -0.61M28.1 22.6l0.6 0.46M77.2 4.7l0.5 -0.41M20.5 49.6l0.3 0.66M62.5 55.8l0.3 0.66M38.6 21.5l0.7 0.31M15.6 34.2l0.5 -0.39M65.4 24.1l0.4 -0.45M8.7 13.8l0.6 0.15M27.5 7.9l0.6 -0.23M48.1 49.2l0.5 -0.41M56.9 9.1l0.5 0.18M15.6 23.3l0.5 -0.17M48.8 29.9l0.4 -0.44M4.3 5.4l0.3 0.71M35.0 58.5l0.5 -0.35M8.5 52.6l0.5 0.41M25.0 48.6l0.5 -0.19M1.5 16.1l0.7 -0.30M18.2 33.5l0.8 0.07M0.2 47.1l0.3 -0.51M69.8 24.3l0.7 0.20M0.1 24.6l0.5 -0.24M73.0 12.9l0.5 -0.22M64.1 51.5l0.5 0.54M32.5 45.8l0.6 -0.23M64.1 39.3l0.5 0.33" stroke="#60110c" stroke-width="1.5"/><path d="M19.1 47.6l0.4 0.40M74.1 29.4l0.3 -0.40M36.7 37.9l0.3 0.35M7.9 59.8l0.4 -0.30M49.8 42.8l0.5 0.24M66.1 54.5l0.2 0.52M71.3 37.0l0.4 0.28M20.4 18.9l0.5 -0.25M52.4 61.2l0.4 -0.32M10.5 59.1l0.5 -0.18M72.5 10.6l0.3 -0.40M78.4 35.5l0.1 0.52" stroke="#cc281b" stroke-width="1.0"/><path d="M45.9 34.0l0.4 0.44M48.6 39.7l0.5 -0.56M30.5 15.5l0.7 -0.27M13.4 49.1l0.4 -0.44M21.5 56.3l0.4 -0.32M80.2 10.0l0.4 0.48M35.2 40.8l0.4 -0.38M18.9 8.1l0.3 -0.48M78.8 5.3l0.3 0.53M53.9 28.7l0.5 0.51M29.7 23.1l0.3 -0.48M11.8 57.5l0.4 -0.46M-0.2 49.1l0.5 -0.48M68.3 42.0l0.7 -0.14M70.1 22.2l0.3 0.69M27.5 2.7l0.5 -0.27M37.7 12.9l0.2 0.74M27.9 6.2l0.7 0.28M21.8 43.1l0.5 -0.30M40.7 13.7l0.6 0.27M75.0 18.9l0.3 0.69M55.3 48.4l0.5 0.41M20.6 44.2l0.2 0.61M42.7 46.3l0.5 -0.50M22.1 16.9l0.4 -0.57M26.2 8.5l0.7 0.35M49.5 50.9l0.6 0.17M46.2 11.8l0.1 -0.60M56.9 38.0l0.2 0.59M63.3 57.2l0.2 0.60M61.1 14.9l0.4 0.45M51.8 56.1l0.5 0.41M73.5 16.8l0.6 0.50M48.1 12.5l0.4 -0.51M72.9 51.6l0.3 0.60M28.5 55.2l0.5 0.43M66.7 22.8l0.7 -0.14M62.9 32.0l0.7 -0.26M23.6 54.2l0.6 0.46M52.6 46.1l0.5 -0.29M60.7 55.9l0.5 -0.18M14.0 32.2l0.0 -0.70M77.7 33.3l0.5 -0.24M32.6 25.7l0.4 -0.37M77.9 8.9l0.3 -0.63M77.5 40.2l0.7 -0.26M14.7 32.7l0.6 -0.32M19.8 1.2l0.3 0.71M7.9 51.2l0.4 0.54M32.9 43.6l0.7 -0.26M58.6 43.4l0.3 0.48M25.2 21.9l0.4 0.40M3.9 49.3l0.6 0.35M52.3 21.9l0.4 -0.46M10.7 50.9l0.4 -0.38M47.9 2.1l0.2 0.70M31.0 59.0l0.6 -0.11M11.7 27.6l0.1 -0.63M39.7 6.6l0.3 0.53M33.5 19.9l0.5 0.44M76.0 27.1l0.7 0.04M79.5 52.3l0.5 -0.54" stroke="#a82016" stroke-width="1.5"/><path d="M25.0 6.2l0.4 0.27M43.2 44.4l0.2 0.45M49.7 45.4l0.3 0.47M15.5 4.8l0.1 0.46M12.5 34.0l0.2 -0.47M9.8 1.7l0.3 -0.41M0.1 21.0l0.3 -0.40M62.7 13.6l0.4 0.33M5.0 60.6l0.3 0.43M60.8 35.4l0.4 -0.39M61.0 3.1l0.4 -0.30M35.6 39.5l0.5 -0.02M64.6 6.0l0.4 -0.35M12.3 37.0l0.4 0.27M80.5 9.1l0.4 -0.40M35.5 60.4l0.4 0.21M49.6 41.6l0.4 -0.33M66.0 28.8l0.2 0.45M58.4 7.1l0.4 0.36M6.5 28.5l0.4 -0.29M39.9 51.5l0.4 0.40M18.8 21.5l0.5 -0.30M25.1 56.4l0.5 0.27M57.5 22.5l0.3 0.39M20.8 4.6l0.3 0.39M6.5 37.8l0.4 0.25M47.5 58.9l0.5 -0.19M73.3 20.9l0.4 -0.31M61.9 21.6l0.4 -0.32M0.0 19.6l0.5 0.26M58.6 61.0l0.3 -0.47M64.0 44.8l0.4 0.25M45.3 49.1l0.4 -0.29M73.6 44.6l0.4 0.28M39.7 23.4l0.3 -0.35M11.3 52.9l0.4 0.28M7.4 38.3l0.5 0.25M44.7 9.6l0.4 0.26M47.8 47.4l0.4 0.31M43.4 26.2l0.5 0.16M0.6 13.7l0.2 0.44M17.9 2.3l0.3 -0.36M53.2 56.7l0.5 0.25M34.3 4.4l0.5 0.25M61.1 6.0l0.2 0.48M33.0 1.0l0.5 -0.18M72.8 46.8l0.5 0.19M46.0 35.7l0.3 -0.41M7.9 20.5l0.4 0.30M47.2 25.7l0.4 0.21M20.3 13.3l0.4 -0.26M10.8 16.1l0.2 0.43M28.9 7.6l0.3 0.38" stroke="#841911" stroke-width="1.0"/><path d="M13.2 3.9l0.3 0.66M42.8 4.8l0.7 0.09M73.2 40.4l0.4 -0.34M29.4 13.7l0.3 0.55M34.5 45.6l0.4 -0.45M38.8 39.0l0.3 -0.57M62.8 52.5l0.6 -0.33M32.6 36.0l0.6 -0.27M3.4 21.2l0.5 -0.37M29.4 12.9l0.7 0.13M33.7 38.4l0.5 -0.33M17.6 12.1l0.5 -0.36M74.6 41.0l0.6 -0.31M44.8 19.6l0.7 0.26M57.9 5.1l0.6 0.42M14.4 41.0l0.1 -0.71M14.6 20.9l0.3 -0.70M30.7 19.4l0.4 -0.57M17.2 13.6l0.0 -0.72M10.2 41.1l0.3 0.63M61.4 47.1l0.1 0.73M31.6 17.4l0.5 -0.50M41.0 4.3l0.6 0.29M78.9 15.3l0.0 0.56M20.8 12.2l0.4 -0.57M19.5 18.0l0.5 -0.24M29.7 0.6l0.5 0.29M78.1 39.2l0.5 -0.47M77.7 52.5l0.7 -0.15M73.0 9.7l0.4 -0.49" stroke="#cc281b" stroke-width="1.5"/><path d="M26.6 12.2l0.4 0.23M51.9 58.7l0.3 0.42M15.5 12.8l0.4 0.37M42.1 10.9l0.4 0.24M77.2 2.7l0.4 -0.39M38.3 17.6l0.3 -0.45M15.5 19.5l0.4 -0.31M41.2 15.2l0.5 0.20M55.9 13.2l0.4 -0.26M54.6 12.4l0.5 -0.22M64.3 19.1l0.3 0.47M15.6 11.4l0.3 0.33M45.5 14.1l0.1 -0.51M22.0 58.6l0.3 -0.40M53.5 18.9l0.3 0.49M12.1 49.8l0.4 0.28M53.8 5.7l0.4 0.41M18.0 49.5l0.4 -0.37M3.2 18.2l0.4 0.33M34.7 9.9l0.4 0.42M32.0 19.1l0.3 -0.43" stroke="#60110c" stroke-width="1.0"/><path d="M58.3 55.7l0.5 -0.21M54.3 26.9l0.4 0.31M72.5 44.5l0.4 -0.27M51.8 59.9l0.3 0.40M37.9 59.6l0.3 -0.43M78.8 57.7l0.5 -0.17M17.9 46.6l0.3 0.46M74.5 13.5l0.4 -0.27M69.4 48.3l0.4 -0.29M79.0 29.9l0.5 -0.27M26.9 24.9l0.5 -0.17M17.0 16.8l0.5 -0.02M79.9 20.2l0.4 0.21M3.3 7.9l0.3 -0.38M46.5 53.9l0.5 -0.15M2.7 44.3l0.5 0.22M31.2 20.1l0.2 0.46M31.1 11.5l0.5 -0.21M23.3 1.1l0.3 -0.36M79.3 2.9l0.5 -0.03M70.4 28.5l0.5 0.06M62.2 1.6l0.3 -0.37M3.5 32.1l0.3 0.43M21.8 41.2l0.0 -0.46M43.8 48.5l0.5 0.21M73.5 5.5l0.3 0.36M70.6 54.1l0.3 -0.46M75.8 55.0l0.3 0.41" stroke="#a82016" stroke-width="1.0"/><path d="M22.5 23.5l0.6 -0.52M13.3 35.0l0.7 -0.19M63.0 11.7l0.7 -0.31M22.1 49.9l0.7 -0.37M71.7 48.4l0.6 0.54M51.7 32.2l0.7 0.39M25.3 5.6l0.6 -0.45M69.3 41.0l0.5 0.57M71.6 5.1l0.3 0.73M76.4 19.9l0.7 -0.40M43.4 57.1l0.7 0.41M61.4 50.0l0.2 0.77" stroke="#841911" stroke-width="2.0"/><path d="M43.5 55.7l0.7 -0.29M71.3 34.7l0.0 0.81M47.4 10.9l0.6 0.50M2.3 29.8l0.7 -0.29M60.6 46.6l0.4 -0.63M26.2 43.5l0.7 -0.35M56.8 25.7l0.7 -0.28M71.6 47.1l0.5 -0.58M73.4 1.1l0.5 -0.61M13.1 54.1l0.7 -0.27M70.4 51.0l0.5 -0.60M23.7 33.4l0.5 -0.57" stroke="#a82016" stroke-width="2.0"/><path d="M47.6 34.9l0.4 0.68M28.0 57.6l0.4 0.67M45.8 59.8l0.6 -0.45M1.9 35.0l0.4 0.66M15.0 4.3l0.4 -0.65M13.5 0.8l0.8 -0.02M70.7 40.9l0.7 -0.34" stroke="#cc281b" stroke-width="2.0"/><path d="M10.4 46.2l0.6 -0.44M8.5 12.5l0.5 -0.55M10.7 7.0l0.7 -0.28M12.7 9.9l0.7 -0.29" stroke="#60110c" stroke-width="2.0"/></g><rect x="74.5" y="58.2" width="6.4" height="1.5" fill="#f4f4f4"/></svg>
<svg x="500.0" y="505.0" width="81.8" height="61.2"><rect width="100%" height="100%" fill="#0a1607"/><g filter="url(#b1)" fill="none" stroke-linecap="round"><path d="M13.3 41.8l0.6 0.83M64.8 0.4l0.3 1.01M60.8 53.5l0.0 0.06M48.4 39.9l0.9 -1.02M44.6 3.5l0.6 0.26M35.8 13.2l0.6 1.99M62.7 11.9l1.4 -0.60M71.8 48.5l0.4 0.40M69.5 56.4l0.3 -0.43M53.6 58.3l0.7 -0.64M8.1 13.0l1.4 -1.45M30.6 49.3l0.3 0.24M28.2 6.4l0.1 0.05M43.6 61.8l1.1 -1.87M42.2 46.8l1.5 -1.39M21.8 17.3l0.9 -1.35M30.2 43.5l0.6 0.25M79.0 44.4l0.5 0.63M45.4 39.2l1.6 -1.08M63.1 56.7l0.6 1.55M66.3 47.4l0.1 0.29M28.9 12.8l1.7 0.31M37.7 16.3l1.1 -1.39M78.4 37.5l1.6 -0.72M20.6 49.9l0.0 0.05M73.0 16.3l1.6 1.42M34.1 6.3l0.5 0.65M8.5 25.9l0.5 -0.46M71.7 5.4l0.1 0.21M14.7 4.8l1.2 -1.72M64.7 55.9l0.8 0.04M44.9 19.7l0.5 0.20M42.7 56.7l2.0 1.16M0.6 47.0l1.7 1.27M2.9 10.0l0.4 -0.96M13.1 54.1l0.7 -0.25M14.7 20.8l0.1 -0.39M19.7 0.8l0.6 1.49M48.4 37.1l0.7 0.06M1.5 16.1l0.6 -0.25M72.9 28.6l0.0 -0.00M31.2 17.8l1.3 -1.38M-0.5 37.7l1.5 -0.77M3.0 52.8l1.0 1.01M5.4 57.8l1.9 0.38M16.2 51.0l1.4 1.48M64.3 51.7l0.1 0.13M69.9 41.3l2.2 -1.06M70.3 18.4l0.2 0.22M77.3 52.6l1.5 -0.37" stroke="#1e4a12" stroke-width="2.0"/><path d="M7.2 49.6l0.1 -0.20M36.5 37.7l0.7 0.68M58.4 55.7l0.3 -0.13M15.4 4.7l0.2 0.72M27.6 27.0l0.2 -0.18M13.4 49.1l0.4 -0.44M35.4 40.7l0.2 -0.15M78.5 4.7l0.9 1.58M73.8 53.4l0.1 -0.25M53.8 55.0l0.2 0.91M19.9 29.9l0.4 -0.44M10.2 22.0l1.1 -1.41M36.5 6.8l0.4 1.01M65.0 12.9l0.7 0.42M29.1 13.2l1.0 1.60M56.3 53.9l0.6 0.40M34.1 46.0l1.1 -1.32M35.6 60.4l0.2 0.10M49.2 41.9l1.1 -0.97M26.9 15.0l1.6 0.32M56.7 37.5l0.7 1.65M30.4 27.6l0.4 0.21M55.6 13.4l0.9 -0.62M39.0 56.3l0.0 0.00M56.2 58.7l0.3 -0.21M54.4 12.6l0.9 -0.46M36.0 32.5l0.0 0.03M54.0 49.6l0.9 -0.60M33.2 38.7l1.4 -0.94M15.2 11.1l1.0 0.96M17.1 12.4l1.4 -1.04M58.6 60.9l0.2 -0.42M63.2 50.8l0.4 -0.47M47.9 12.8l0.7 -1.05M45.3 49.2l0.5 -0.32M8.4 13.7l1.2 0.32M9.6 37.6l0.1 -0.04M48.1 49.2l0.5 -0.41M53.7 5.6l0.6 0.67M5.3 6.4l0.5 0.70M0.4 13.3l0.6 1.22M1.7 5.5l0.8 -0.58M34.7 58.8l1.2 -0.81M17.6 49.9l1.2 -1.18M31.0 19.7l0.5 1.13M52.0 61.5l1.1 -0.87M61.1 6.0l0.2 0.46M72.5 46.7l1.1 0.45M62.2 1.5l0.1 -0.18M72.5 13.1l1.5 -0.65M16.6 20.3l1.0 0.08M3.3 31.8l0.7 0.86M79.3 1.1l0.6 1.01M10.8 16.1l0.2 0.43M22.3 11.4l0.7 -0.32M46.9 24.1l0.0 0.26" stroke="#1e4a12" stroke-width="1.5"/><path d="M18.8 47.2l1.1 1.18M74.0 29.6l0.5 -0.74M7.7 1.7l0.1 -0.24M67.1 35.9l1.5 -0.29M54.2 26.9l0.5 0.36M9.8 1.7l0.4 -0.48M32.8 5.6l0.3 1.76M35.2 39.6l1.4 -0.07M79.0 57.7l0.2 -0.07M5.2 43.1l0.3 0.28M40.9 15.1l1.1 0.43M46.2 12.0l0.2 -0.90M79.5 18.3l0.4 0.36M53.3 18.4l0.7 1.34M58.6 28.5l0.3 0.67M7.1 38.1l1.2 0.59M5.2 21.4l0.0 0.03M0.0 47.4l0.5 -1.11M66.2 27.4l0.9 1.24M20.1 13.4l0.9 -0.58M41.7 19.2l0.3 -0.22M10.9 50.7l0.0 0.00M28.6 7.3l0.9 1.03M63.9 39.2l0.9 0.57M20.7 31.0l1.0 -0.57" stroke="#809a20" stroke-width="1.5"/><path d="M45.9 34.0l0.4 0.47M19.3 56.2l1.2 0.03M63.5 48.7l0.3 -0.56M49.7 45.5l0.1 0.23M54.1 2.2l0.8 0.68M77.6 45.3l0.1 0.18M7.9 59.8l0.5 -0.32M50.0 42.9l0.0 0.02M12.1 30.8l0.8 -0.68M21.6 0.9l0.5 1.28M15.2 12.5l1.0 0.94M17.5 42.4l0.8 -0.81M72.3 44.7l0.8 -0.53M38.9 4.4l0.2 0.26M0.1 21.1l0.3 -0.42M18.8 8.4l0.7 -1.07M60.9 21.7l0.8 1.62M5.1 60.8l0.0 0.02M42.1 10.9l0.5 0.25M51.8 60.0l0.1 0.15M34.2 14.1l0.1 -0.34M52.3 39.9l1.3 0.78M21.8 57.3l0.0 -0.01M77.4 2.5l0.1 -0.05M77.8 49.1l0.9 -0.58M15.5 48.5l1.3 0.85M46.4 52.5l0.0 -0.03M80.2 9.4l1.0 -1.13M38.4 17.5l0.1 -0.08M21.9 43.0l0.3 -0.16M30.8 45.5l0.1 -0.05M37.8 59.9l0.7 -1.03M3.7 6.8l1.1 0.55M15.4 19.5l0.5 -0.43M39.6 51.2l0.9 0.90M61.2 32.5l1.3 0.86M44.8 17.9l0.4 -0.34M3.6 21.0l0.1 -0.06M60.2 39.8l1.1 1.25M17.3 38.6l0.0 -0.47M60.8 14.7l0.9 0.98M29.4 55.0l1.1 -0.61M6.4 37.7l0.7 0.42M64.2 19.0l0.3 0.60M79.3 24.0l0.4 0.69M47.1 59.1l1.3 -0.56M55.3 38.9l0.7 0.09M73.1 21.1l0.8 -0.59M61.7 21.7l0.7 -0.56M0.2 19.6l0.1 0.09M71.2 36.9l0.6 0.42M6.4 43.5l0.0 0.01M69.3 48.4l0.6 -0.51M53.4 35.8l0.3 -0.17M45.4 14.4l0.2 -1.07M9.7 57.1l1.2 -1.18M28.6 59.8l1.6 0.61M26.4 25.0l1.4 -0.51M21.7 59.0l0.9 -1.17M52.3 46.3l1.2 -0.75M23.3 7.2l0.7 1.12M12.1 49.8l0.3 0.22M60.5 56.0l1.0 -0.36M80.8 38.7l0.8 0.80M59.1 2.0l0.2 0.26M11.2 52.8l0.6 0.39M21.6 17.8l1.4 0.15M32.3 25.9l0.9 -0.82M20.5 18.9l0.4 -0.20M44.5 9.5l0.7 0.45M56.5 9.0l1.4 0.46M15.4 23.3l1.0 -0.32M39.0 29.0l0.3 0.06M77.3 12.9l0.3 -0.40M3.0 8.2l0.7 -0.91M46.0 54.1l1.5 -0.46M76.0 25.0l0.4 -0.44M53.0 56.6l0.8 0.42M68.0 9.4l0.4 -0.36M34.4 4.4l0.2 0.12M34.2 33.9l1.0 -0.42M29.9 2.8l0.6 -0.90M31.0 11.6l0.6 -0.29M48.0 57.8l0.6 -0.26M34.5 9.7l0.7 0.82M37.0 50.2l0.5 0.98M40.2 0.9l1.4 0.25M70.2 28.5l0.9 0.10M1.1 25.8l0.5 -0.20M29.6 0.6l0.6 0.33M7.6 20.3l1.1 0.82M40.7 22.7l1.4 1.30M39.4 6.3l0.8 1.22M72.3 10.9l0.9 -1.03M31.8 19.3l0.6 -0.97M62.2 24.7l0.5 0.89M78.4 35.3l0.1 0.91" stroke="#2b6517" stroke-width="1.5"/><path d="M39.7 16.4l0.3 -0.18M12.9 3.5l0.8 1.56M22.4 23.6l0.8 -0.75M42.9 4.8l0.5 0.06M30.2 29.8l0.2 -1.00M47.7 35.1l0.3 0.42M30.0 15.7l1.6 -0.68M30.6 38.6l0.4 0.66M6.9 14.8l0.1 0.18M69.3 29.0l1.1 0.90M28.1 57.7l0.2 0.40M2.3 29.8l0.9 -0.34M51.4 3.3l0.6 -0.34M41.9 9.9l0.5 -0.09M28.3 29.2l0.4 -0.36M51.4 27.9l1.4 -1.61M68.6 42.0l0.1 -0.00M16.2 26.6l1.2 1.03M43.2 23.2l1.8 0.72M70.2 22.3l0.1 0.33M40.0 13.5l2.0 0.79M75.1 19.1l0.1 0.27M28.6 57.7l1.8 -1.31M61.0 36.3l0.1 -0.05M56.3 52.4l1.7 0.93M62.2 52.9l1.8 -1.04M75.9 46.4l1.4 -1.93M56.7 25.7l0.8 -0.34M6.3 16.9l0.6 -0.79M75.9 33.2l0.0 0.03M69.2 40.9l0.8 0.81M56.1 46.8l0.6 -0.25M5.3 29.3l0.5 2.02M67.5 23.1l1.2 0.50M11.0 46.7l0.3 1.67M25.2 1.3l1.7 -1.24M76.2 4.9l1.0 0.95M11.1 5.4l0.9 -0.00M18.1 53.1l0.1 0.26M54.2 36.9l2.0 -0.94M1.8 37.4l0.4 0.22M62.5 55.7l0.3 0.77M48.8 2.7l0.4 0.44M38.7 21.6l0.5 0.23M24.1 52.5l0.3 -0.49M27.1 8.0l1.4 -0.52M62.4 32.2l1.6 -0.67M23.1 53.8l1.5 1.23M14.0 32.3l0.0 -0.74M71.4 32.8l0.9 0.47M29.0 48.8l1.6 -1.36M38.3 6.2l0.0 0.05M14.1 33.0l1.8 -0.89M8.2 52.4l1.1 0.87M7.8 3.8l1.1 -0.63M12.9 0.9l2.2 -0.08M12.8 14.2l0.2 -0.33M17.2 13.4l0.0 -0.21M9.9 40.6l0.8 1.68M18.4 33.5l0.4 0.04M61.5 47.3l0.0 0.27M33.0 43.6l0.4 -0.15M47.4 32.0l0.5 -0.74M12.3 7.7l1.3 -1.60M52.4 21.8l0.2 -0.17M15.9 54.2l0.1 -0.06M47.7 1.4l0.5 2.00M77.7 39.5l1.4 -1.22M40.3 53.5l0.3 0.60M77.4 25.4l0.8 0.38M75.4 27.0l1.9 0.08" stroke="#37801c" stroke-width="2.0"/><path d="M17.7 37.0l1.1 0.61M20.0 24.8l0.9 -1.21M54.3 52.8l1.4 -0.51M13.2 35.1l1.0 -0.25M24.5 38.4l0.1 -0.13M45.0 48.2l1.4 -1.38M71.3 33.9l0.1 2.25M75.8 32.2l1.2 -0.28M10.6 46.1l0.2 -0.13M4.5 46.0l0.9 0.56M2.3 12.9l0.7 0.42M11.7 40.9l0.7 1.37M21.3 21.7l1.1 -0.73M17.3 23.4l1.1 1.62M53.6 28.4l1.1 1.08M22.4 49.7l0.1 -0.05M-0.4 49.3l1.0 -0.95M27.9 33.4l0.4 0.50M30.4 40.9l0.8 1.09M15.4 48.5l1.8 -1.38M52.0 32.4l0.0 0.02M38.7 39.2l0.4 -0.88M60.3 47.1l1.1 -1.63M15.4 37.8l0.6 0.85M26.0 8.4l1.0 0.49M11.0 6.9l0.2 -0.06M16.3 30.0l1.0 1.69M32.6 36.0l0.5 -0.21M42.7 40.0l1.0 1.13M2.2 26.0l0.4 0.20M-0.5 35.3l1.6 -1.25M46.0 59.7l0.3 -0.21M28.7 11.0l1.1 -0.85M72.4 43.2l0.1 -0.12M27.5 22.1l1.9 1.38M77.1 4.8l0.8 -0.63M72.6 51.1l0.8 1.58M74.7 41.0l0.3 -0.17M28.1 54.8l1.4 1.19M2.1 35.2l0.1 0.10M62.7 43.7l1.2 0.89M73.6 0.8l0.0 -0.04M39.6 33.4l0.5 -0.65M34.6 55.0l0.3 -0.66M3.5 25.2l1.9 -1.49M14.4 41.5l0.2 -1.69M57.3 36.8l0.4 0.24M69.4 43.3l0.4 0.16M7.9 51.1l0.5 0.61M33.4 23.8l1.9 0.87M54.4 21.0l0.7 0.67M67.5 42.3l0.5 0.82M27.3 16.6l0.1 0.16M69.1 52.6l0.9 -0.63M12.0 19.5l0.3 0.44M70.6 50.7l0.0 -0.01M11.9 36.4l1.6 -1.10M23.4 33.7l1.1 -1.26M20.8 12.3l0.4 -0.63M81.2 56.4l0.9 -0.74M6.4 10.9l0.6 1.30M8.4 29.4l0.2 0.50M69.9 24.3l0.5 0.14M50.3 56.6l0.2 -0.12M11.7 27.7l0.2 -0.86M24.1 54.3l1.8 0.47M63.5 22.3l1.4 -0.27M49.4 18.7l0.6 -0.03M73.4 31.7l1.4 1.54M44.9 8.8l1.1 -1.56M7.3 49.0l1.3 -0.69M79.6 52.2l0.4 -0.37" stroke="#2b6517" stroke-width="2.0"/><path d="M24.7 6.0l1.0 0.67M43.2 44.4l0.1 0.30M72.6 37.5l1.0 1.01M51.8 58.6l0.4 0.61M22.6 48.3l0.0 -0.04M12.4 34.2l0.4 -0.94M21.7 56.1l0.2 -0.11M80.0 9.8l0.7 0.93M62.3 13.3l1.0 0.90M11.7 57.8l0.7 -0.91M60.8 35.3l0.3 -0.32M21.0 47.7l0.8 0.35M15.6 7.1l1.4 -0.69M66.4 43.9l1.1 0.49M44.8 61.7l1.0 -1.57M64.6 6.1l0.4 -0.39M11.9 36.8l1.1 0.71M3.8 27.5l0.3 -0.10M27.2 10.2l0.8 -1.13M55.3 48.4l0.6 0.48M31.5 53.0l1.1 1.21M22.0 37.8l1.3 -0.74M42.5 19.4l0.4 0.97M20.4 43.6l0.5 1.80M66.1 28.9l0.1 0.24M35.3 21.3l1.0 -0.65M27.7 36.4l0.0 0.57M58.5 7.2l0.3 0.24M66.2 54.7l0.0 0.07M49.4 50.9l0.9 0.25M18.8 21.4l0.4 -0.27M25.0 56.4l0.5 0.32M57.2 22.3l0.8 0.97M52.4 47.4l0.1 -0.10M15.7 34.1l0.3 -0.25M65.4 24.1l0.4 -0.40M79.0 30.0l0.6 -0.34M10.0 17.7l0.3 0.16M11.6 48.8l0.6 -0.55M16.8 16.8l0.8 -0.04M39.6 23.4l0.4 -0.44M69.1 27.0l0.1 -1.54M64.9 27.6l1.3 -1.02M1.6 43.5l0.0 -0.06M48.0 47.5l0.0 0.02M43.0 26.1l1.2 0.38M44.2 45.3l1.2 -1.23M79.8 20.1l0.7 0.34M18.0 2.2l0.2 -0.24M49.5 32.7l0.0 0.03M0.3 57.9l0.1 -0.08M20.2 27.4l0.5 -0.60M74.6 36.4l0.7 -0.70M3.0 18.0l0.7 0.68M23.1 1.3l0.6 -0.66M79.1 2.9l0.8 -0.05M58.5 43.2l0.5 0.84M33.2 1.0l0.2 -0.08M60.7 57.9l0.7 -0.38M25.0 21.6l0.9 0.85M19.1 18.2l1.4 -0.66M38.6 1.1l0.2 -0.23M59.7 32.2l0.4 0.77M32.6 45.7l0.5 -0.20M46.6 42.3l0.2 0.11M64.2 17.0l0.2 0.65M21.8 41.3l0.0 -0.72M43.7 48.5l0.6 0.28M0.6 29.5l0.6 0.01M73.0 9.7l0.4 -0.56M63.8 13.9l0.5 -0.56" stroke="#37801c" stroke-width="1.5"/><path d="M26.4 12.1l0.9 0.46M75.2 8.3l0.5 -0.37M59.5 7.5l0.9 -0.86M39.4 36.9l0.5 -0.71M72.9 40.6l1.0 -0.76M29.6 23.2l0.4 -0.64M60.9 3.2l0.5 -0.43M25.6 7.5l0.2 0.13M27.7 2.6l0.2 -0.08M24.8 45.4l0.3 0.36M67.5 50.2l0.7 0.47M18.1 46.8l0.1 0.11M9.8 32.6l0.2 -0.46M74.4 13.5l0.5 -0.35M6.6 28.5l0.1 -0.11M3.6 39.1l0.8 -1.10M14.5 49.7l0.7 -0.31M20.9 4.7l0.2 0.22M63.7 44.6l0.9 0.58M67.3 19.3l0.2 -0.28M78.2 20.8l0.5 -0.47M73.6 44.6l0.4 0.27M78.0 33.2l0.1 -0.03M66.6 9.0l0.4 0.08M48.6 30.1l0.9 -0.89M2.7 44.3l0.4 0.21M25.0 48.6l0.5 -0.18M52.6 14.8l0.8 0.79M78.9 15.5l0.0 0.06M46.0 35.6l0.2 -0.33M0.1 24.6l0.4 -0.18M47.2 25.7l0.4 0.19M10.4 59.1l0.5 -0.20M31.0 59.0l0.5 -0.10M3.0 54.2l0.1 0.31M73.4 5.4l0.5 0.54M75.6 20.1l1.0 0.88M70.6 54.0l0.2 -0.29M75.5 54.6l1.0 1.25" stroke="#449a20" stroke-width="1.5"/><path d="M43.4 55.8l0.9 -0.35M32.2 59.0l1.4 -0.64M47.6 11.1l0.1 0.13M68.9 11.0l1.5 1.22M80.7 53.9l0.2 -0.10M49.9 1.2l1.7 -1.38M32.0 40.4l1.7 -0.47M37.5 12.3l0.5 1.95M47.7 56.8l0.1 -1.69M25.2 5.7l1.0 -0.72M61.5 17.3l0.2 0.40M41.4 46.5l0.0 0.20M37.1 11.2l1.4 -0.97M51.7 56.0l0.7 0.53M66.1 22.9l1.9 -0.40M70.7 59.1l0.1 -0.06M76.2 20.0l1.2 -0.71M77.7 9.4l0.6 -1.54M76.6 15.6l1.2 -1.71M77.8 40.1l0.1 -0.01M4.2 5.1l0.5 1.29M30.3 19.9l1.2 -1.69M61.3 49.7l0.4 1.33M41.0 4.3l0.5 0.25M3.4 49.1l1.4 0.83M12.9 9.8l0.3 -0.12M35.9 49.8l0.6 1.09" stroke="#449a20" stroke-width="2.0"/><path d="M34.3 41.7l0.4 0.38M25.5 43.9l2.1 -1.09M71.6 47.0l0.4 -0.45M65.1 57.4l1.0 -0.63M29.5 2.9l1.1 1.03M54.7 58.0l1.9 -0.74M57.4 4.7l1.6 1.18M22.4 14.7l1.4 1.26M7.1 40.1l0.4 0.43M36.7 21.9l0.2 -0.10M33.7 20.0l0.2 0.21M47.9 6.6l0.4 -0.06" stroke="#809a20" stroke-width="2.0"/></g><rect x="74.2" y="58.2" width="6.4" height="1.5" fill="#f4f4f4"/></svg>
<svg x="584.9" y="505.0" width="81.8" height="61.2"><rect width="100%" height="100%" fill="#0c1406"/><g filter="url(#b1)" fill="none" stroke-linecap="round"><path d="M13.3 41.8l0.6 0.83M64.8 0.4l0.3 1.01M60.8 53.5l0.0 0.06M48.4 39.9l0.9 -1.02M44.6 3.5l0.6 0.26M35.8 13.2l0.6 1.99M62.7 11.9l1.4 -0.60M71.8 48.5l0.4 0.40M69.5 56.4l0.3 -0.43M53.6 58.3l0.7 -0.64M8.1 13.0l1.4 -1.45M30.6 49.3l0.3 0.24M28.2 6.4l0.1 0.05M43.6 61.8l1.1 -1.87M42.2 46.8l1.5 -1.39M21.8 17.3l0.9 -1.35M30.2 43.5l0.6 0.25M79.0 44.4l0.5 0.63M45.4 39.2l1.6 -1.08M63.1 56.7l0.6 1.55M66.3 47.4l0.1 0.29M28.9 12.8l1.7 0.31M37.7 16.3l1.1 -1.39M78.4 37.5l1.6 -0.72M20.6 49.9l0.0 0.05M73.0 16.3l1.6 1.42M34.1 6.3l0.5 0.65M8.5 25.9l0.5 -0.46M71.7 5.4l0.1 0.21M14.7 4.8l1.2 -1.72M64.7 55.9l0.8 0.04M44.9 19.7l0.5 0.20M42.7 56.7l2.0 1.16M0.6 47.0l1.7 1.27M2.9 10.0l0.4 -0.96M13.1 54.1l0.7 -0.25M14.7 20.8l0.1 -0.39M19.7 0.8l0.6 1.49M48.4 37.1l0.7 0.06M1.5 16.1l0.6 -0.25M72.9 28.6l0.0 -0.00M31.2 17.8l1.3 -1.38M-0.5 37.7l1.5 -0.77M3.0 52.8l1.0 1.01M5.4 57.8l1.9 0.38M16.2 51.0l1.4 1.48M64.3 51.7l0.1 0.13M69.9 41.3l2.2 -1.06M70.3 18.4l0.2 0.22M77.3 52.6l1.5 -0.37" stroke="#2a4a12" stroke-width="2.0"/><path d="M7.2 49.6l0.1 -0.20M36.5 37.7l0.7 0.68M58.4 55.7l0.3 -0.13M15.4 4.7l0.2 0.72M27.6 27.0l0.2 -0.18M13.4 49.1l0.4 -0.44M35.4 40.7l0.2 -0.15M78.5 4.7l0.9 1.58M73.8 53.4l0.1 -0.25M53.8 55.0l0.2 0.91M19.9 29.9l0.4 -0.44M10.2 22.0l1.1 -1.41M36.5 6.8l0.4 1.01M65.0 12.9l0.7 0.42M29.1 13.2l1.0 1.60M56.3 53.9l0.6 0.40M34.1 46.0l1.1 -1.32M35.6 60.4l0.2 0.10M49.2 41.9l1.1 -0.97M26.9 15.0l1.6 0.32M56.7 37.5l0.7 1.65M30.4 27.6l0.4 0.21M55.6 13.4l0.9 -0.62M39.0 56.3l0.0 0.00M56.2 58.7l0.3 -0.21M54.4 12.6l0.9 -0.46M36.0 32.5l0.0 0.03M54.0 49.6l0.9 -0.60M33.2 38.7l1.4 -0.94M15.2 11.1l1.0 0.96M17.1 12.4l1.4 -1.04M58.6 60.9l0.2 -0.42M63.2 50.8l0.4 -0.47M47.9 12.8l0.7 -1.05M45.3 49.2l0.5 -0.32M8.4 13.7l1.2 0.32M9.6 37.6l0.1 -0.04M48.1 49.2l0.5 -0.41M53.7 5.6l0.6 0.67M5.3 6.4l0.5 0.70M0.4 13.3l0.6 1.22M1.7 5.5l0.8 -0.58M34.7 58.8l1.2 -0.81M17.6 49.9l1.2 -1.18M31.0 19.7l0.5 1.13M52.0 61.5l1.1 -0.87M61.1 6.0l0.2 0.46M72.5 46.7l1.1 0.45M62.2 1.5l0.1 -0.18M72.5 13.1l1.5 -0.65M16.6 20.3l1.0 0.08M3.3 31.8l0.7 0.86M79.3 1.1l0.6 1.01M10.8 16.1l0.2 0.43M22.3 11.4l0.7 -0.32M46.9 24.1l0.0 0.26" stroke="#2a4a12" stroke-width="1.5"/><path d="M18.8 47.2l1.1 1.18M74.0 29.6l0.5 -0.74M7.7 1.7l0.1 -0.24M67.1 35.9l1.5 -0.29M54.2 26.9l0.5 0.36M9.8 1.7l0.4 -0.48M32.8 5.6l0.3 1.76M35.2 39.6l1.4 -0.07M79.0 57.7l0.2 -0.07M5.2 43.1l0.3 0.28M40.9 15.1l1.1 0.43M46.2 12.0l0.2 -0.90M79.5 18.3l0.4 0.36M53.3 18.4l0.7 1.34M58.6 28.5l0.3 0.67M7.1 38.1l1.2 0.59M5.2 21.4l0.0 0.03M0.0 47.4l0.5 -1.11M66.2 27.4l0.9 1.24M20.1 13.4l0.9 -0.58M41.7 19.2l0.3 -0.22M10.9 50.7l0.0 0.00M28.6 7.3l0.9 1.03M63.9 39.2l0.9 0.57M20.7 31.0l1.0 -0.57" stroke="#ae9a20" stroke-width="1.5"/><path d="M45.9 34.0l0.4 0.47M19.3 56.2l1.2 0.03M63.5 48.7l0.3 -0.56M49.7 45.5l0.1 0.23M54.1 2.2l0.8 0.68M77.6 45.3l0.1 0.18M7.9 59.8l0.5 -0.32M50.0 42.9l0.0 0.02M12.1 30.8l0.8 -0.68M21.6 0.9l0.5 1.28M15.2 12.5l1.0 0.94M17.5 42.4l0.8 -0.81M72.3 44.7l0.8 -0.53M38.9 4.4l0.2 0.26M0.1 21.1l0.3 -0.42M18.8 8.4l0.7 -1.07M60.9 21.7l0.8 1.62M5.1 60.8l0.0 0.02M42.1 10.9l0.5 0.25M51.8 60.0l0.1 0.15M34.2 14.1l0.1 -0.34M52.3 39.9l1.3 0.78M21.8 57.3l0.0 -0.01M77.4 2.5l0.1 -0.05M77.8 49.1l0.9 -0.58M15.5 48.5l1.3 0.85M46.4 52.5l0.0 -0.03M80.2 9.4l1.0 -1.13M38.4 17.5l0.1 -0.08M21.9 43.0l0.3 -0.16M30.8 45.5l0.1 -0.05M37.8 59.9l0.7 -1.03M3.7 6.8l1.1 0.55M15.4 19.5l0.5 -0.43M39.6 51.2l0.9 0.90M61.2 32.5l1.3 0.86M44.8 17.9l0.4 -0.34M3.6 21.0l0.1 -0.06M60.2 39.8l1.1 1.25M17.3 38.6l0.0 -0.47M60.8 14.7l0.9 0.98M29.4 55.0l1.1 -0.61M6.4 37.7l0.7 0.42M64.2 19.0l0.3 0.60M79.3 24.0l0.4 0.69M47.1 59.1l1.3 -0.56M55.3 38.9l0.7 0.09M73.1 21.1l0.8 -0.59M61.7 21.7l0.7 -0.56M0.2 19.6l0.1 0.09M71.2 36.9l0.6 0.42M6.4 43.5l0.0 0.01M69.3 48.4l0.6 -0.51M53.4 35.8l0.3 -0.17M45.4 14.4l0.2 -1.07M9.7 57.1l1.2 -1.18M28.6 59.8l1.6 0.61M26.4 25.0l1.4 -0.51M21.7 59.0l0.9 -1.17M52.3 46.3l1.2 -0.75M23.3 7.2l0.7 1.12M12.1 49.8l0.3 0.22M60.5 56.0l1.0 -0.36M80.8 38.7l0.8 0.80M59.1 2.0l0.2 0.26M11.2 52.8l0.6 0.39M21.6 17.8l1.4 0.15M32.3 25.9l0.9 -0.82M20.5 18.9l0.4 -0.20M44.5 9.5l0.7 0.45M56.5 9.0l1.4 0.46M15.4 23.3l1.0 -0.32M39.0 29.0l0.3 0.06M77.3 12.9l0.3 -0.40M3.0 8.2l0.7 -0.91M46.0 54.1l1.5 -0.46M76.0 25.0l0.4 -0.44M53.0 56.6l0.8 0.42M68.0 9.4l0.4 -0.36M34.4 4.4l0.2 0.12M34.2 33.9l1.0 -0.42M29.9 2.8l0.6 -0.90M31.0 11.6l0.6 -0.29M48.0 57.8l0.6 -0.26M34.5 9.7l0.7 0.82M37.0 50.2l0.5 0.98M40.2 0.9l1.4 0.25M70.2 28.5l0.9 0.10M1.1 25.8l0.5 -0.20M29.6 0.6l0.6 0.33M7.6 20.3l1.1 0.82M40.7 22.7l1.4 1.30M39.4 6.3l0.8 1.22M72.3 10.9l0.9 -1.03M31.8 19.3l0.6 -0.97M62.2 24.7l0.5 0.89M78.4 35.3l0.1 0.91" stroke="#426517" stroke-width="1.5"/><path d="M39.7 16.4l0.3 -0.18M12.9 3.5l0.8 1.56M22.4 23.6l0.8 -0.75M42.9 4.8l0.5 0.06M30.2 29.8l0.2 -1.00M47.7 35.1l0.3 0.42M30.0 15.7l1.6 -0.68M30.6 38.6l0.4 0.66M6.9 14.8l0.1 0.18M69.3 29.0l1.1 0.90M28.1 57.7l0.2 0.40M2.3 29.8l0.9 -0.34M51.4 3.3l0.6 -0.34M41.9 9.9l0.5 -0.09M28.3 29.2l0.4 -0.36M51.4 27.9l1.4 -1.61M68.6 42.0l0.1 -0.00M16.2 26.6l1.2 1.03M43.2 23.2l1.8 0.72M70.2 22.3l0.1 0.33M40.0 13.5l2.0 0.79M75.1 19.1l0.1 0.27M28.6 57.7l1.8 -1.31M61.0 36.3l0.1 -0.05M56.3 52.4l1.7 0.93M62.2 52.9l1.8 -1.04M75.9 46.4l1.4 -1.93M56.7 25.7l0.8 -0.34M6.3 16.9l0.6 -0.79M75.9 33.2l0.0 0.03M69.2 40.9l0.8 0.81M56.1 46.8l0.6 -0.25M5.3 29.3l0.5 2.02M67.5 23.1l1.2 0.50M11.0 46.7l0.3 1.67M25.2 1.3l1.7 -1.24M76.2 4.9l1.0 0.95M11.1 5.4l0.9 -0.00M18.1 53.1l0.1 0.26M54.2 36.9l2.0 -0.94M1.8 37.4l0.4 0.22M62.5 55.7l0.3 0.77M48.8 2.7l0.4 0.44M38.7 21.6l0.5 0.23M24.1 52.5l0.3 -0.49M27.1 8.0l1.4 -0.52M62.4 32.2l1.6 -0.67M23.1 53.8l1.5 1.23M14.0 32.3l0.0 -0.74M71.4 32.8l0.9 0.47M29.0 48.8l1.6 -1.36M38.3 6.2l0.0 0.05M14.1 33.0l1.8 -0.89M8.2 52.4l1.1 0.87M7.8 3.8l1.1 -0.63M12.9 0.9l2.2 -0.08M12.8 14.2l0.2 -0.33M17.2 13.4l0.0 -0.21M9.9 40.6l0.8 1.68M18.4 33.5l0.4 0.04M61.5 47.3l0.0 0.27M33.0 43.6l0.4 -0.15M47.4 32.0l0.5 -0.74M12.3 7.7l1.3 -1.60M52.4 21.8l0.2 -0.17M15.9 54.2l0.1 -0.06M47.7 1.4l0.5 2.00M77.7 39.5l1.4 -1.22M40.3 53.5l0.3 0.60M77.4 25.4l0.8 0.38M75.4 27.0l1.9 0.08" stroke="#5a801c" stroke-width="2.0"/><path d="M17.7 37.0l1.1 0.61M20.0 24.8l0.9 -1.21M54.3 52.8l1.4 -0.51M13.2 35.1l1.0 -0.25M24.5 38.4l0.1 -0.13M45.0 48.2l1.4 -1.38M71.3 33.9l0.1 2.25M75.8 32.2l1.2 -0.28M10.6 46.1l0.2 -0.13M4.5 46.0l0.9 0.56M2.3 12.9l0.7 0.42M11.7 40.9l0.7 1.37M21.3 21.7l1.1 -0.73M17.3 23.4l1.1 1.62M53.6 28.4l1.1 1.08M22.4 49.7l0.1 -0.05M-0.4 49.3l1.0 -0.95M27.9 33.4l0.4 0.50M30.4 40.9l0.8 1.09M15.4 48.5l1.8 -1.38M52.0 32.4l0.0 0.02M38.7 39.2l0.4 -0.88M60.3 47.1l1.1 -1.63M15.4 37.8l0.6 0.85M26.0 8.4l1.0 0.49M11.0 6.9l0.2 -0.06M16.3 30.0l1.0 1.69M32.6 36.0l0.5 -0.21M42.7 40.0l1.0 1.13M2.2 26.0l0.4 0.20M-0.5 35.3l1.6 -1.25M46.0 59.7l0.3 -0.21M28.7 11.0l1.1 -0.85M72.4 43.2l0.1 -0.12M27.5 22.1l1.9 1.38M77.1 4.8l0.8 -0.63M72.6 51.1l0.8 1.58M74.7 41.0l0.3 -0.17M28.1 54.8l1.4 1.19M2.1 35.2l0.1 0.10M62.7 43.7l1.2 0.89M73.6 0.8l0.0 -0.04M39.6 33.4l0.5 -0.65M34.6 55.0l0.3 -0.66M3.5 25.2l1.9 -1.49M14.4 41.5l0.2 -1.69M57.3 36.8l0.4 0.24M69.4 43.3l0.4 0.16M7.9 51.1l0.5 0.61M33.4 23.8l1.9 0.87M54.4 21.0l0.7 0.67M67.5 42.3l0.5 0.82M27.3 16.6l0.1 0.16M69.1 52.6l0.9 -0.63M12.0 19.5l0.3 0.44M70.6 50.7l0.0 -0.01M11.9 36.4l1.6 -1.10M23.4 33.7l1.1 -1.26M20.8 12.3l0.4 -0.63M81.2 56.4l0.9 -0.74M6.4 10.9l0.6 1.30M8.4 29.4l0.2 0.50M69.9 24.3l0.5 0.14M50.3 56.6l0.2 -0.12M11.7 27.7l0.2 -0.86M24.1 54.3l1.8 0.47M63.5 22.3l1.4 -0.27M49.4 18.7l0.6 -0.03M73.4 31.7l1.4 1.54M44.9 8.8l1.1 -1.56M7.3 49.0l1.3 -0.69M79.6 52.2l0.4 -0.37" stroke="#426517" stroke-width="2.0"/><path d="M24.7 6.0l1.0 0.67M43.2 44.4l0.1 0.30M72.6 37.5l1.0 1.01M51.8 58.6l0.4 0.61M22.6 48.3l0.0 -0.04M12.4 34.2l0.4 -0.94M21.7 56.1l0.2 -0.11M80.0 9.8l0.7 0.93M62.3 13.3l1.0 0.90M11.7 57.8l0.7 -0.91M60.8 35.3l0.3 -0.32M21.0 47.7l0.8 0.35M15.6 7.1l1.4 -0.69M66.4 43.9l1.1 0.49M44.8 61.7l1.0 -1.57M64.6 6.1l0.4 -0.39M11.9 36.8l1.1 0.71M3.8 27.5l0.3 -0.10M27.2 10.2l0.8 -1.13M55.3 48.4l0.6 0.48M31.5 53.0l1.1 1.21M22.0 37.8l1.3 -0.74M42.5 19.4l0.4 0.97M20.4 43.6l0.5 1.80M66.1 28.9l0.1 0.24M35.3 21.3l1.0 -0.65M27.7 36.4l0.0 0.57M58.5 7.2l0.3 0.24M66.2 54.7l0.0 0.07M49.4 50.9l0.9 0.25M18.8 21.4l0.4 -0.27M25.0 56.4l0.5 0.32M57.2 22.3l0.8 0.97M52.4 47.4l0.1 -0.10M15.7 34.1l0.3 -0.25M65.4 24.1l0.4 -0.40M79.0 30.0l0.6 -0.34M10.0 17.7l0.3 0.16M11.6 48.8l0.6 -0.55M16.8 16.8l0.8 -0.04M39.6 23.4l0.4 -0.44M69.1 27.0l0.1 -1.54M64.9 27.6l1.3 -1.02M1.6 43.5l0.0 -0.06M48.0 47.5l0.0 0.02M43.0 26.1l1.2 0.38M44.2 45.3l1.2 -1.23M79.8 20.1l0.7 0.34M18.0 2.2l0.2 -0.24M49.5 32.7l0.0 0.03M0.3 57.9l0.1 -0.08M20.2 27.4l0.5 -0.60M74.6 36.4l0.7 -0.70M3.0 18.0l0.7 0.68M23.1 1.3l0.6 -0.66M79.1 2.9l0.8 -0.05M58.5 43.2l0.5 0.84M33.2 1.0l0.2 -0.08M60.7 57.9l0.7 -0.38M25.0 21.6l0.9 0.85M19.1 18.2l1.4 -0.66M38.6 1.1l0.2 -0.23M59.7 32.2l0.4 0.77M32.6 45.7l0.5 -0.20M46.6 42.3l0.2 0.11M64.2 17.0l0.2 0.65M21.8 41.3l0.0 -0.72M43.7 48.5l0.6 0.28M0.6 29.5l0.6 0.01M73.0 9.7l0.4 -0.56M63.8 13.9l0.5 -0.56" stroke="#5a801c" stroke-width="1.5"/><path d="M26.4 12.1l0.9 0.46M75.2 8.3l0.5 -0.37M59.5 7.5l0.9 -0.86M39.4 36.9l0.5 -0.71M72.9 40.6l1.0 -0.76M29.6 23.2l0.4 -0.64M60.9 3.2l0.5 -0.43M25.6 7.5l0.2 0.13M27.7 2.6l0.2 -0.08M24.8 45.4l0.3 0.36M67.5 50.2l0.7 0.47M18.1 46.8l0.1 0.11M9.8 32.6l0.2 -0.46M74.4 13.5l0.5 -0.35M6.6 28.5l0.1 -0.11M3.6 39.1l0.8 -1.10M14.5 49.7l0.7 -0.31M20.9 4.7l0.2 0.22M63.7 44.6l0.9 0.58M67.3 19.3l0.2 -0.28M78.2 20.8l0.5 -0.47M73.6 44.6l0.4 0.27M78.0 33.2l0.1 -0.03M66.6 9.0l0.4 0.08M48.6 30.1l0.9 -0.89M2.7 44.3l0.4 0.21M25.0 48.6l0.5 -0.18M52.6 14.8l0.8 0.79M78.9 15.5l0.0 0.06M46.0 35.6l0.2 -0.33M0.1 24.6l0.4 -0.18M47.2 25.7l0.4 0.19M10.4 59.1l0.5 -0.20M31.0 59.0l0.5 -0.10M3.0 54.2l0.1 0.31M73.4 5.4l0.5 0.54M75.6 20.1l1.0 0.88M70.6 54.0l0.2 -0.29M75.5 54.6l1.0 1.25" stroke="#729a20" stroke-width="1.5"/><path d="M43.4 55.8l0.9 -0.35M32.2 59.0l1.4 -0.64M47.6 11.1l0.1 0.13M68.9 11.0l1.5 1.22M80.7 53.9l0.2 -0.10M49.9 1.2l1.7 -1.38M32.0 40.4l1.7 -0.47M37.5 12.3l0.5 1.95M47.7 56.8l0.1 -1.69M25.2 5.7l1.0 -0.72M61.5 17.3l0.2 0.40M41.4 46.5l0.0 0.20M37.1 11.2l1.4 -0.97M51.7 56.0l0.7 0.53M66.1 22.9l1.9 -0.40M70.7 59.1l0.1 -0.06M76.2 20.0l1.2 -0.71M77.7 9.4l0.6 -1.54M76.6 15.6l1.2 -1.71M77.8 40.1l0.1 -0.01M4.2 5.1l0.5 1.29M30.3 19.9l1.2 -1.69M61.3 49.7l0.4 1.33M41.0 4.3l0.5 0.25M3.4 49.1l1.4 0.83M12.9 9.8l0.3 -0.12M35.9 49.8l0.6 1.09" stroke="#729a20" stroke-width="2.0"/><path d="M34.3 41.7l0.4 0.38M25.5 43.9l2.1 -1.09M71.6 47.0l0.4 -0.45M65.1 57.4l1.0 -0.63M29.5 2.9l1.1 1.03M54.7 58.0l1.9 -0.74M57.4 4.7l1.6 1.18M22.4 14.7l1.4 1.26M7.1 40.1l0.4 0.43M36.7 21.9l0.2 -0.10M33.7 20.0l0.2 0.21M47.9 6.6l0.4 -0.06" stroke="#ae9a20" stroke-width="2.0"/></g><g filter="url(#b1)" fill="none" stroke-linecap="round"><path d="M13.4 42.0l0.3 0.47M54.7 52.7l0.5 -0.19M13.4 35.0l0.6 -0.15M76.0 32.1l0.6 -0.14M30.6 38.7l0.3 0.49M36.0 13.9l0.2 0.60M22.2 49.8l0.6 -0.30M27.9 33.4l0.4 0.51M71.7 48.4l0.5 0.45M51.7 32.3l0.6 0.32M25.4 5.5l0.5 -0.37M15.5 38.0l0.3 0.52M30.3 43.5l0.5 0.22M6.4 16.7l0.4 -0.45M41.4 46.3l0.1 0.58M56.1 46.8l0.6 -0.25M25.8 0.9l0.5 -0.34M76.5 5.2l0.5 0.42M18.1 52.9l0.3 0.57M24.1 52.5l0.3 -0.47M64.8 55.9l0.6 0.03M43.4 57.1l0.6 0.34M55.4 57.7l0.5 -0.20M48.4 37.1l0.6 0.06M69.3 52.4l0.5 -0.33M47.5 31.9l0.3 -0.48M50.1 56.7l0.5 -0.28M24.7 54.4l0.6 0.15M73.9 32.2l0.4 0.45" stroke="#908214" stroke-width="1.5"/><path d="M19.2 47.6l0.3 0.34M74.2 29.4l0.2 -0.33M36.7 37.9l0.3 0.29M8.0 59.8l0.4 -0.24M13.4 49.1l0.3 -0.36M21.5 56.2l0.4 -0.27M72.5 44.5l0.3 -0.22M35.3 40.8l0.3 -0.32M73.2 40.3l0.4 -0.28M29.7 23.1l0.3 -0.40M11.9 57.5l0.3 -0.38M29.4 13.8l0.3 0.46M34.5 45.5l0.3 -0.37M38.8 38.9l0.2 -0.48M21.9 43.1l0.4 -0.25M38.0 59.6l0.2 -0.35M55.3 48.5l0.4 0.34M20.6 44.3l0.1 0.51M74.5 13.5l0.3 -0.22M32.6 36.0l0.5 -0.22M66.1 54.5l0.2 0.43M49.6 50.9l0.5 0.14M46.3 11.8l0.1 -0.50M56.9 38.1l0.2 0.49M61.1 15.0l0.3 0.37M33.7 38.4l0.4 -0.27M17.6 12.0l0.4 -0.29M71.4 37.0l0.3 0.24M69.4 48.3l0.3 -0.24M48.1 12.5l0.3 -0.42M72.9 51.6l0.2 0.50M26.9 24.8l0.4 -0.14M52.6 46.1l0.4 -0.24M32.6 25.6l0.3 -0.31M20.5 18.9l0.4 -0.20M79.9 20.2l0.4 0.17M2.7 44.3l0.4 0.18M52.4 61.2l0.4 -0.27M31.1 11.5l0.4 -0.17M58.6 43.4l0.3 0.40M70.4 28.5l0.4 0.05M19.6 18.0l0.4 -0.20M3.5 32.1l0.3 0.36M29.7 0.7l0.5 0.24M52.3 21.9l0.4 -0.39M10.8 50.8l0.4 -0.32M10.5 59.1l0.4 -0.15M31.0 59.0l0.5 -0.09M21.8 41.2l0.0 -0.38M11.7 27.5l0.1 -0.52M43.9 48.5l0.4 0.17M39.7 6.7l0.3 0.44M72.6 10.5l0.3 -0.33M70.6 54.0l0.2 -0.38M73.1 9.6l0.3 -0.40M78.4 35.5l0.1 0.43" stroke="#c0aa1e" stroke-width="1.0"/><path d="M45.9 34.0l0.3 0.37M7.6 1.8l0.2 -0.46M58.4 55.7l0.4 -0.17M12.3 30.6l0.4 -0.33M54.3 27.0l0.4 0.26M80.2 10.0l0.3 0.41M38.8 4.4l0.3 0.39M19.0 8.0l0.2 -0.40M78.8 5.3l0.3 0.44M62.7 13.6l0.3 0.27M5.0 60.6l0.3 0.36M60.8 35.3l0.3 -0.33M51.8 59.9l0.2 0.33M35.6 39.5l0.4 -0.01M21.7 57.5l0.3 -0.35M64.6 6.0l0.3 -0.29M27.6 2.7l0.5 -0.23M46.3 52.7l0.4 -0.31M67.7 50.2l0.4 0.28M78.9 57.7l0.4 -0.14M31.9 53.4l0.3 0.38M18.0 46.6l0.2 0.38M58.4 7.2l0.3 0.30M9.8 32.6l0.2 -0.45M39.9 51.5l0.3 0.34M18.9 21.4l0.4 -0.25M25.1 56.5l0.4 0.23M61.6 32.8l0.4 0.30M63.4 57.3l0.2 0.50M29.7 54.8l0.4 -0.24M6.5 37.8l0.3 0.21M58.6 60.9l0.2 -0.39M6.3 43.7l0.2 -0.40M48.8 2.7l0.4 0.38M78.2 20.7l0.3 -0.33M79.1 29.9l0.4 -0.22M9.9 17.7l0.4 0.22M28.6 55.2l0.4 0.36M9.4 37.7l0.4 -0.23M73.6 44.6l0.3 0.23M17.0 16.8l0.4 -0.02M60.7 55.9l0.4 -0.15M81.1 39.0l0.3 0.33M11.3 52.9l0.3 0.24M77.8 33.3l0.4 -0.20M66.5 9.0l0.5 0.12M44.7 9.6l0.3 0.22M43.4 26.2l0.4 0.13M1.9 5.4l0.4 -0.28M3.3 7.9l0.3 -0.31M46.5 53.9l0.4 -0.12M53.2 56.8l0.4 0.21M31.2 20.1l0.2 0.39M52.8 15.0l0.4 0.37M37.1 50.5l0.2 0.47M23.3 1.1l0.3 -0.30M79.3 2.9l0.4 -0.02M25.3 21.9l0.4 0.34M38.5 1.2l0.3 -0.35M46.0 35.6l0.2 -0.34M62.2 1.6l0.2 -0.31M66.5 27.8l0.3 0.39M73.5 5.5l0.3 0.30M28.9 7.6l0.3 0.32M75.8 55.0l0.3 0.35M7.7 48.8l0.5 -0.25" stroke="#a89619" stroke-width="1.0"/><path d="M18.0 37.1l0.5 0.27M43.2 44.4l0.1 0.38M49.7 45.5l0.2 0.39M54.3 2.4l0.3 0.32M77.5 45.2l0.3 0.43M15.5 4.8l0.1 0.38M12.5 33.9l0.2 -0.39M39.5 36.7l0.3 -0.37M32.9 6.2l0.1 0.53M61.0 3.1l0.3 -0.25M56.4 53.9l0.4 0.30M27.4 9.8l0.3 -0.38M49.6 41.6l0.3 -0.27M42.7 19.6l0.2 0.47M66.0 28.8l0.2 0.38M5.1 43.0l0.3 0.34M27.5 15.1l0.5 0.10M6.5 28.5l0.3 -0.24M57.5 22.6l0.3 0.32M20.8 4.7l0.3 0.32M37.6 10.9l0.4 -0.30M61.9 21.6l0.3 -0.26M0.1 19.6l0.4 0.22M64.0 44.8l0.3 0.21M52.3 47.5l0.4 -0.32M29.2 60.1l0.5 0.19M58.7 28.6l0.2 0.45M39.7 23.4l0.3 -0.29M65.4 27.2l0.4 -0.28M7.5 38.3l0.4 0.21M77.4 12.8l0.3 -0.39M0.6 13.7l0.2 0.37M17.9 2.2l0.2 -0.30M0.1 58.0l0.4 -0.29M68.0 9.3l0.4 -0.28M34.3 4.4l0.4 0.21M5.1 21.3l0.4 0.29M40.7 1.0l0.5 0.09M72.8 46.8l0.4 0.16M59.7 32.4l0.2 0.49M1.1 25.8l0.4 -0.19M41.2 23.2l0.4 0.37M20.3 13.2l0.3 -0.21M41.7 19.3l0.4 -0.32M64.2 17.0l0.2 0.50M62.3 24.9l0.2 0.43" stroke="#908214" stroke-width="1.0"/><path d="M13.2 4.0l0.3 0.55M48.7 39.6l0.4 -0.47M42.9 4.8l0.6 0.07M43.6 55.7l0.6 -0.24M71.3 34.7l0.0 0.67M47.7 35.0l0.4 0.57M28.0 57.6l0.3 0.56M68.3 42.0l0.6 -0.12M70.1 22.2l0.3 0.58M40.7 13.7l0.5 0.22M75.0 19.0l0.2 0.58M60.7 46.5l0.4 -0.52M22.1 16.9l0.3 -0.47M62.9 52.5l0.5 -0.27M26.2 43.5l0.6 -0.29M29.5 12.9l0.5 0.11M45.9 59.8l0.5 -0.37M51.9 56.1l0.5 0.35M73.6 16.8l0.5 0.42M66.7 22.7l0.6 -0.11M2.0 35.0l0.3 0.56M15.1 4.2l0.4 -0.54M73.4 1.1l0.4 -0.50M44.9 19.7l0.6 0.22M77.9 8.9l0.2 -0.53M13.1 54.1l0.6 -0.23M58.0 5.1l0.5 0.35M14.7 20.9l0.2 -0.59M30.7 19.3l0.3 -0.47M7.9 51.2l0.4 0.45M13.6 0.8l0.6 -0.02M17.2 13.6l0.0 -0.59M61.5 47.2l0.1 0.61M31.6 17.3l0.4 -0.41M41.0 4.3l0.5 0.24M23.8 33.3l0.4 -0.48M3.9 49.4l0.5 0.29M70.7 40.9l0.6 -0.28M78.1 39.1l0.5 -0.39M33.6 19.9l0.5 0.37M76.0 27.1l0.6 0.03M79.6 52.3l0.4 -0.45" stroke="#c0aa1e" stroke-width="1.5"/><path d="M49.8 42.8l0.4 0.20M3.4 21.1l0.4 -0.31M74.6 41.0l0.5 -0.25M78.9 15.3l0.0 0.47" stroke="#d8be23" stroke-width="1.0"/><path d="M24.4 38.6l0.3 -0.52M30.6 15.4l0.6 -0.22M47.5 10.9l0.5 0.42M2.3 12.9l0.5 0.34M11.9 41.3l0.3 0.55M53.9 28.7l0.4 0.43M34.3 41.7l0.4 0.39M2.4 29.8l0.6 -0.24M28.3 29.2l0.5 -0.38M-0.2 49.0l0.4 -0.40M37.7 12.9l0.1 0.62M27.9 6.3l0.6 0.23M44.0 61.1l0.3 -0.52M47.7 56.2l0.0 -0.55M60.8 36.4l0.5 -0.20M42.7 46.3l0.4 -0.41M26.2 8.5l0.6 0.29M16.6 30.5l0.3 0.54M79.0 44.4l0.4 0.50M56.8 25.7l0.6 -0.24M69.3 41.1l0.5 0.48M66.2 47.2l0.3 0.57M11.1 47.2l0.1 0.64M72.2 43.3l0.4 -0.43M71.6 47.0l0.4 -0.48M78.9 37.3l0.5 -0.23M65.3 57.2l0.5 -0.33M62.9 32.0l0.5 -0.22M23.6 54.3l0.5 0.39M14.0 32.2l0.0 -0.58M29.6 48.3l0.5 -0.39M1.2 47.4l0.5 0.38M77.0 15.0l0.4 -0.51M77.6 40.2l0.6 -0.21M69.3 43.2l0.6 0.22M14.8 32.7l0.5 -0.26M19.8 1.3l0.2 0.59M34.0 24.1l0.6 0.27M61.4 50.0l0.2 0.64M11.9 19.4l0.4 0.53M70.4 51.0l0.4 -0.50M32.9 43.6l0.6 -0.21M36.6 22.0l0.5 -0.30M6.6 11.2l0.3 0.56M16.7 51.6l0.4 0.45M12.8 7.1l0.4 -0.45M15.8 54.3l0.4 -0.35M47.9 2.1l0.1 0.58" stroke="#a89619" stroke-width="1.5"/><path d="M14.4 41.0l0.1 -0.59M10.2 41.2l0.3 0.53M20.8 12.2l0.3 -0.47M77.8 52.5l0.5 -0.12" stroke="#d8be23" stroke-width="1.5"/></g><rect x="74.2" y="58.2" width="6.4" height="1.5" fill="#e8d820"/></svg>
<svg x="416.0" y="568.4" width="82.1" height="61.6"><rect width="100%" height="100%" fill="#0c0604"/><g filter="url(#b1)" fill="none" stroke-linecap="round"><path d="M78.7 8.6l0.4 0.20M7.3 27.5l0.2 -0.38M35.6 16.5l0.4 0.20M30.9 52.1l0.3 0.32M78.4 0.3l0.1 -0.52M55.5 49.0l0.3 -0.28M76.1 18.6l0.2 -0.35M1.4 7.1l0.4 -0.29M70.4 51.0l0.4 0.26M20.3 21.2l0.4 0.32M6.5 4.2l0.4 0.22M16.1 39.1l0.3 -0.33M30.4 43.0l0.5 -0.21M53.9 27.0l0.3 0.41M13.3 10.5l0.2 0.45M41.0 2.8l0.4 -0.15M20.4 2.9l0.4 0.29M58.3 61.0l0.5 -0.20M73.3 45.5l0.3 -0.37M49.2 40.9l0.4 -0.35M38.7 37.9l0.4 0.28M69.3 36.3l0.4 0.26M18.3 40.2l0.5 0.23" stroke="#a82016" stroke-width="1.0"/><path d="M21.9 3.3l0.6 -0.46M1.8 46.1l0.2 0.61M41.4 22.8l0.5 -0.54M79.3 44.5l0.2 0.51M7.6 29.6l0.1 -0.64M82.0 27.6l0.5 0.48M12.7 27.1l0.5 0.05M20.7 38.9l0.4 0.46M34.7 25.5l0.6 0.50M64.3 30.5l0.1 -0.55M4.3 31.8l0.5 -0.51M50.6 16.8l0.5 -0.30M48.1 54.5l0.4 0.59M39.4 23.5l0.5 -0.41M13.4 7.1l0.5 -0.37M56.2 21.4l0.2 0.54M60.3 53.3l0.2 0.60" stroke="#cc281b" stroke-width="1.5"/><path d="M21.7 25.7l0.0 0.50M15.9 10.1l0.3 -0.34M52.2 7.9l0.1 0.53M29.8 7.7l0.1 -0.50M23.5 34.1l0.3 -0.40M24.4 17.0l0.4 0.33M48.6 33.5l0.3 -0.38M10.7 34.9l0.0 -0.47M17.9 23.6l0.4 0.21M27.9 50.2l0.4 -0.16M36.9 57.0l0.3 -0.35M80.4 41.0l0.4 -0.29M31.1 37.6l0.5 0.10M50.3 60.6l0.4 -0.16M77.7 10.8l0.4 -0.21M39.1 42.7l0.4 -0.36M53.0 56.9l0.4 -0.17M68.5 27.6l0.3 0.49M2.6 9.5l0.2 0.49M25.6 29.1l0.2 -0.38M66.8 18.3l0.4 0.24M58.4 20.4l0.3 0.42M60.1 61.6l0.4 -0.17M78.0 1.3l0.5 0.01M16.4 36.3l0.3 -0.32M52.1 15.4l0.4 0.20M0.0 27.8l0.1 0.44M37.5 9.6l0.2 0.51M18.2 53.7l0.3 -0.28M19.9 4.9l0.2 -0.40M24.5 43.7l0.1 -0.45M27.2 17.4l0.4 -0.26" stroke="#841911" stroke-width="1.0"/><path d="M27.4 11.1l0.2 0.53M41.7 43.2l0.4 -0.55M61.6 55.4l0.5 -0.33M38.3 51.6l0.3 0.60M28.3 58.1l0.7 0.07M77.0 15.1l0.7 0.14M42.8 46.9l0.5 -0.28M25.2 23.9l0.0 0.63M49.7 58.3l0.6 0.45M43.3 53.6l0.5 -0.43M49.6 38.1l0.6 -0.27M17.0 42.2l0.4 -0.58M47.9 19.4l0.5 0.44M81.5 19.7l0.3 0.55M14.6 17.3l0.5 0.39M29.3 50.4l0.4 0.63M23.9 57.7l0.3 0.48M78.3 59.9l0.5 -0.35M29.9 0.9l0.5 0.08M20.2 15.9l0.4 -0.44M20.1 46.2l0.3 0.49M31.6 1.7l0.2 0.52M56.9 19.5l0.3 0.63" stroke="#60110c" stroke-width="1.5"/><path d="M14.9 34.7l0.6 0.06M72.9 6.8l0.6 0.37M5.2 10.9l0.6 0.24M39.5 49.1l0.2 0.59M19.4 42.2l0.5 0.56M65.6 25.9l0.4 0.56M19.6 34.3l0.4 -0.38M45.1 30.8l0.5 0.47M51.4 20.9l0.4 -0.44M75.6 27.6l0.3 0.51M25.2 34.2l0.7 0.36M75.2 50.2l0.6 -0.42M9.0 25.5l0.4 0.57M25.0 49.5l0.4 -0.37M6.8 45.4l0.6 -0.47M16.0 32.0l0.4 -0.47M6.0 9.7l0.7 -0.33M67.6 35.8l0.5 0.36M32.7 6.0l0.4 0.52M24.7 31.9l0.6 0.31M28.6 29.2l0.3 0.59M14.6 55.8l0.3 0.65M0.5 42.1l0.3 -0.48M21.6 28.1l0.5 -0.38M19.1 22.5l0.6 -0.28M45.8 53.8l0.3 0.58M24.8 59.0l0.5 -0.41M1.0 37.8l0.2 0.61M39.3 61.5l0.4 -0.57M43.3 21.3l0.5 -0.21M7.0 38.2l0.3 0.61M81.4 29.4l0.6 0.33M72.4 27.1l0.5 0.33M61.1 52.0l0.5 -0.34M3.9 33.9l0.7 -0.29M45.5 27.8l0.6 0.30M61.8 25.9l0.3 -0.59M50.3 26.4l0.3 -0.51M72.7 0.7l0.5 0.49M80.9 46.8l0.7 -0.08M70.6 38.1l0.4 0.45M48.3 42.5l0.6 0.29M54.1 18.6l0.5 0.57M75.0 3.1l0.0 -0.67M5.8 39.7l0.6 -0.38M20.4 44.8l0.6 -0.27M53.3 29.0l0.5 0.27M82.0 3.8l0.4 -0.46M55.6 37.1l0.4 -0.48M76.3 31.8l0.6 0.14M49.0 28.1l0.5 -0.36M63.5 20.7l0.6 0.42M37.1 28.1l0.5 -0.47M67.7 4.8l0.5 0.47M26.0 37.8l0.4 0.51M16.5 44.0l0.5 -0.35M3.2 36.5l0.5 0.35M38.0 4.5l0.3 0.61M7.5 13.2l0.3 0.54M60.6 46.0l0.5 -0.38M77.1 54.8l0.1 -0.65M17.2 29.5l0.4 -0.44M37.1 58.7l0.4 -0.48M63.0 7.5l0.1 0.69M12.8 46.5l0.6 0.39" stroke="#841911" stroke-width="1.5"/><path d="M73.5 10.8l0.4 -0.44M49.4 2.5l0.6 0.22M32.3 8.8l0.4 -0.43M44.4 5.9l0.6 -0.42M61.8 5.1l0.4 -0.46M74.1 57.8l0.6 -0.50M74.9 48.4l0.4 -0.51M19.1 45.2l0.5 0.23M29.1 12.9l0.6 0.25M7.2 22.8l0.4 0.61M32.5 25.5l0.1 0.69M3.8 25.3l0.5 -0.31M76.4 25.0l0.4 -0.44M39.4 7.4l0.6 -0.28M69.2 29.6l0.3 0.46M23.6 13.0l0.6 -0.51M51.5 33.1l0.3 -0.49M51.3 31.5l0.5 -0.35M57.0 53.6l0.3 -0.49M1.7 17.1l0.4 -0.41M5.0 34.3l0.6 0.42M46.4 9.7l0.5 -0.46M67.4 45.8l0.3 0.67M63.8 55.3l0.5 -0.29M52.6 20.9l0.3 0.67M29.7 10.7l0.5 -0.52M67.3 40.1l0.5 -0.28M18.9 24.4l0.4 0.60M53.9 44.0l0.5 -0.53M65.3 31.5l0.6 -0.01M8.9 22.1l0.7 0.29M60.8 17.6l0.6 0.36M73.6 29.6l0.6 -0.12M43.3 30.8l0.6 0.38M74.4 54.2l0.5 0.53M44.7 29.0l0.2 0.61M70.5 18.9l0.7 0.25M47.0 18.1l0.4 0.57M15.5 24.8l0.0 0.66M36.0 41.4l0.6 -0.22" stroke="#a82016" stroke-width="1.5"/><path d="M9.0 50.0l0.3 -0.40M53.4 15.9l0.1 0.44M21.3 7.3l0.4 0.28M30.2 46.1l0.3 0.42M48.6 44.5l0.4 0.23M1.7 35.5l0.4 0.30M8.9 44.6l0.4 0.22M2.8 53.6l0.4 0.21" stroke="#60110c" stroke-width="1.0"/><path d="M63.6 41.2l0.4 0.29M33.8 43.7l0.5 -0.14" stroke="#cc281b" stroke-width="1.0"/></g><rect x="74.5" y="58.6" width="6.4" height="1.5" fill="#f4f4f4"/></svg>
<svg x="500.0" y="568.4" width="81.8" height="61.6"><rect width="100%" height="100%" fill="#081206"/><g filter="url(#b1)" fill="none" stroke-linecap="round"><path d="M78.0 8.2l1.8 0.88M77.6 10.9l0.6 -0.33M31.4 29.1l0.9 -1.25M8.6 44.5l0.9 0.47M25.5 29.3l0.4 -0.76M47.2 53.0l1.8 -1.29M38.4 37.7l0.9 0.70M15.8 36.8l1.5 -1.41M55.7 43.6l0.5 1.49M17.7 54.2l1.3 -1.16M19.8 5.1l0.5 -0.88" stroke="#449a20" stroke-width="1.5"/><path d="M21.9 3.2l0.5 -0.37M19.3 42.0l0.8 0.85M65.6 25.9l0.4 0.52M25.3 34.3l0.4 0.23M9.2 25.8l0.0 0.01M41.3 22.8l0.6 -0.68M6.1 46.0l2.0 -1.61M5.5 10.0l1.8 -0.89M37.8 50.8l1.3 2.29M18.5 22.7l1.8 -0.86M34.1 25.0l1.7 1.52M6.5 37.2l1.2 2.59M81.0 29.1l1.5 0.79M4.9 34.2l0.9 0.64M68.1 2.3l0.1 -0.15M80.8 46.8l1.0 -0.12M66.0 12.3l0.7 -0.60M5.6 39.9l1.2 -0.71M49.3 58.0l1.3 0.99M53.7 44.2l0.9 -0.93M23.1 30.3l0.4 -0.20M14.5 17.2l0.8 0.56M37.6 3.8l1.1 2.04M29.0 49.9l1.0 1.62M60.7 45.9l0.3 -0.18M42.9 30.6l1.4 0.93M33.3 5.4l0.8 -0.70M63.0 7.1l0.2 1.45M46.4 17.4l1.6 2.03M81.3 10.9l1.1 1.54M12.6 46.3l0.9 0.64" stroke="#37801c" stroke-width="2.5"/><path d="M21.7 25.8l0.0 0.26M15.8 10.3l0.5 -0.58M76.0 18.6l0.4 -0.51M70.3 50.9l0.6 0.40M20.2 21.1l0.7 0.54M3.5 61.1l0.5 -0.76M31.1 17.6l1.7 -0.78M10.8 34.7l0.0 -0.03M15.7 39.5l1.2 -1.23M27.5 50.4l1.1 -0.48M36.8 57.1l0.3 -0.45M63.5 41.1l0.6 0.42M49.8 60.9l1.5 -0.61M40.5 3.0l1.4 -0.51M22.2 42.0l0.2 -0.11M47.6 16.5l1.0 -1.50M-0.1 27.4l0.3 1.07M24.5 43.9l0.1 -0.85" stroke="#1e4a12" stroke-width="1.5"/><path d="M27.1 10.3l0.9 2.13M15.2 34.7l0.1 0.02M1.7 45.5l0.5 1.68M49.6 2.6l0.1 0.04M78.3 1.0l0.3 -1.83M39.5 49.3l0.0 0.19M7.5 30.5l0.2 -2.28M76.5 53.1l0.6 0.33M45.8 53.9l0.2 0.38M9.4 43.3l1.6 -1.46M57.1 53.5l0.2 -0.32M53.8 26.8l0.7 0.83M60.5 52.5l1.8 -1.34M50.7 4.6l0.9 -0.61M68.5 27.7l0.2 0.30M50.0 17.1l1.6 -1.03M43.5 53.4l0.1 -0.06M82.1 3.7l0.2 -0.26M48.6 38.6l2.4 -1.21M21.6 8.2l1.4 2.18M12.9 7.5l1.5 -1.16M44.5 28.2l0.6 2.08M17.2 29.4l0.2 -0.26M47.4 60.2l0.2 0.29" stroke="#449a20" stroke-width="2.0"/><path d="M15.2 3.0l0.1 0.07M64.0 45.7l0.1 -0.25M32.2 8.8l0.4 -0.46M19.1 34.8l1.4 -1.39M0.9 7.5l1.5 -1.00M52.2 8.0l0.1 0.32M29.2 13.0l0.4 0.16M29.7 8.4l0.4 -1.75M15.5 32.6l1.3 -1.54M24.8 32.0l0.3 0.19M59.0 9.7l1.1 0.48M0.6 42.0l0.2 -0.32M20.7 28.8l2.3 -1.72M40.7 33.6l1.0 0.82M12.0 27.0l2.0 0.15M25.2 23.7l0.0 1.07M1.3 17.5l1.3 -1.25M71.9 26.8l1.4 1.01M70.6 38.1l0.4 0.49M67.5 40.0l0.2 -0.09M48.2 50.2l0.5 -0.60M65.1 31.5l1.0 -0.03M49.1 41.0l0.6 -0.57M81.5 19.8l0.1 0.18M39.4 23.5l0.6 -0.50M38.4 15.7l0.1 0.07M33.7 25.0l0.2 -1.32M23.4 57.0l1.2 1.76M7.4 13.1l0.4 0.75M72.8 29.8l2.1 -0.47M78.2 60.0l0.9 -0.60M29.1 0.8l2.2 0.30M37.2 8.9l0.8 1.94M20.4 15.7l0.1 -0.10M8.1 11.7l0.9 -1.57M19.6 45.4l1.3 2.05M63.9 50.4l0.1 0.07" stroke="#2b6517" stroke-width="2.0"/><path d="M7.0 28.0l0.9 -1.37M34.9 16.1l1.8 0.86M30.9 52.2l0.3 0.30M55.5 49.0l0.4 -0.29M20.9 7.0l1.3 0.88M23.2 34.6l1.0 -1.47M6.0 3.9l1.5 0.75M29.7 43.3l1.9 -0.91M1.6 35.4l0.6 0.49M52.8 57.0l0.8 -0.34M20.5 2.9l0.2 0.20M36.4 22.5l1.1 -1.55M2.8 53.6l0.3 0.18M73.1 45.7l0.7 -0.88M60.1 61.6l0.4 -0.18M77.1 1.3l2.2 -0.00M52.2 15.5l0.2 0.10M75.5 36.2l0.2 0.29M68.7 35.9l1.6 0.98M46.6 43.2l0.1 0.12M7.2 56.6l0.8 -1.25M33.1 43.9l1.8 -0.56M26.9 17.6l0.9 -0.68" stroke="#2b6517" stroke-width="1.5"/><path d="M73.4 10.9l0.7 -0.70M9.0 49.9l0.2 -0.21M43.0 9.0l2.0 -0.77M78.3 38.5l0.6 -0.55M43.5 25.1l1.7 -1.51M45.2 30.9l0.2 0.24M22.2 45.1l0.5 -0.80M75.6 27.8l0.1 0.18M74.5 48.9l1.1 -1.61M3.7 25.4l0.6 -0.42M28.6 29.1l0.3 0.74M61.2 55.7l1.4 -0.96M26.7 15.0l0.1 0.07M69.2 29.7l0.2 0.26M42.1 47.3l2.1 -1.14M80.1 41.1l0.9 -0.65M20.5 38.7l0.9 0.97M32.8 36.8l1.4 -1.14M39.2 42.6l0.2 -0.16M48.5 45.9l0.4 2.20M48.3 42.5l0.6 0.28M55.6 37.1l0.4 -0.44M16.7 43.9l0.3 -0.18M36.4 59.5l1.6 -2.04M3.5 23.7l1.6 0.33M15.5 24.4l0.0 1.55M35.5 41.7l1.6 -0.62M17.7 39.9l1.7 0.82" stroke="#1e4a12" stroke-width="2.0"/><path d="M40.0 31.4l2.1 1.84M4.3 10.5l2.4 0.96M61.3 5.7l1.4 -1.67M50.9 21.4l1.2 -1.46M18.5 44.9l1.6 0.71M79.0 43.9l0.8 1.70M67.3 35.5l1.2 0.89M32.3 5.3l1.3 1.81M51.4 33.4l0.6 -1.01M23.1 0.4l1.9 1.62M51.3 31.4l0.4 -0.28M29.6 25.9l1.2 1.62M43.1 21.3l0.8 -0.32M64.3 30.5l0.1 -0.67M44.6 27.3l2.4 1.23M49.8 27.2l1.4 -2.17M63.0 55.7l2.1 -1.12M2.4 9.1l0.6 1.42M53.2 29.0l0.7 0.35M48.4 28.5l1.7 -1.27M67.6 4.7l0.6 0.58M56.2 21.2l0.4 0.90M16.7 11.5l0.5 1.13M56.4 58.4l1.1 -1.42M31.4 1.2l0.6 1.51M60.1 52.7l0.7 1.82" stroke="#37801c" stroke-width="2.0"/><path d="M71.8 6.2l2.7 1.51M74.9 50.4l1.2 -0.88M68.0 51.2l1.0 1.05M30.8 40.6l0.0 0.05M4.1 33.9l0.4 -0.16M4.1 32.0l0.9 -0.94M67.1 45.1l0.9 2.01M29.2 11.2l1.4 -1.52M18.5 23.7l1.3 2.07M17.0 42.2l0.5 -0.67M63.1 20.5l1.2 0.88M37.2 28.0l0.3 -0.25M47.6 19.2l1.1 0.99M8.1 21.8l2.2 0.97M77.0 55.4l0.3 -1.74" stroke="#1e4a12" stroke-width="2.5"/><path d="M41.0 44.1l1.9 -2.44M74.2 57.7l0.3 -0.24M55.7 46.9l0.1 -0.51M46.9 56.7l1.0 1.53M27.1 58.0l3.2 0.27M76.2 15.0l2.2 0.44M23.7 13.0l0.4 -0.35M24.8 59.0l0.6 -0.44M0.6 36.8l1.0 2.53M39.1 61.8l0.8 -1.20M46.5 9.6l0.4 -0.36M72.9 0.9l0.0 0.05M74.9 4.2l0.2 -2.99M52.1 19.9l1.4 2.82M20.5 44.8l0.4 -0.18M48.2 54.6l0.2 0.36M65.5 45.6l0.1 0.27M37.8 33.9l0.7 0.60M53.5 52.0l1.3 -0.85M73.9 53.6l1.5 1.64M70.7 19.0l0.1 0.06M0.8 58.4l0.0 -0.11" stroke="#2b6517" stroke-width="2.5"/><path d="M43.7 6.5l1.9 -1.45M32.5 25.3l0.2 1.15M14.6 55.9l0.2 0.46M81.8 27.4l1.0 0.88M54.1 18.5l0.5 0.61M26.0 37.8l0.4 0.47M57.0 19.7l0.1 0.24" stroke="#449a20" stroke-width="2.5"/><path d="M53.3 15.6l0.2 0.86M47.3 15.0l0.4 -1.85M23.8 16.5l1.4 1.30M17.8 23.5l0.6 0.30M30.3 46.2l0.1 0.18M47.9 44.2l1.9 0.95M25.0 2.9l0.8 -1.08M34.9 59.2l1.5 -1.13M13.3 10.5l0.1 0.39M53.3 38.2l0.2 -0.24M28.6 15.2l0.1 -0.02M66.5 18.2l1.0 0.51M58.4 20.3l0.4 0.53" stroke="#37801c" stroke-width="1.5"/><path d="M25.1 49.4l0.2 -0.17M76.4 25.0l0.5 -0.50M48.3 33.9l1.0 -1.13M30.4 37.4l2.0 0.38M58.0 61.1l1.1 -0.47M44.7 36.6l0.1 0.14M60.4 57.8l2.3 -0.83M2.9 36.3l1.0 0.68" stroke="#809a20" stroke-width="2.0"/><path d="M6.9 22.4l0.8 1.33M39.2 7.5l1.1 -0.51M61.6 26.1l0.6 -1.06M76.0 31.8l1.3 0.27M17.1 52.9l0.1 0.24M60.5 17.5l1.1 0.70" stroke="#809a20" stroke-width="2.5"/><path d="M9.7 33.5l0.5 -0.61" stroke="#809a20" stroke-width="1.5"/></g><rect x="74.2" y="58.6" width="6.4" height="1.5" fill="#f4f4f4"/></svg>
<svg x="584.9" y="568.4" width="81.8" height="61.6"><rect width="100%" height="100%" fill="#091206"/><g filter="url(#b1)" fill="none" stroke-linecap="round"><path d="M78.0 8.2l1.8 0.88M77.6 10.9l0.6 -0.33M31.4 29.1l0.9 -1.25M8.6 44.5l0.9 0.47M25.5 29.3l0.4 -0.76M47.2 53.0l1.8 -1.29M38.4 37.7l0.9 0.70M15.8 36.8l1.5 -1.41M55.7 43.6l0.5 1.49M17.7 54.2l1.3 -1.16M19.8 5.1l0.5 -0.88" stroke="#4c9a20" stroke-width="1.5"/><path d="M21.9 3.2l0.5 -0.37M19.3 42.0l0.8 0.85M65.6 25.9l0.4 0.52M25.3 34.3l0.4 0.23M9.2 25.8l0.0 0.01M41.3 22.8l0.6 -0.68M6.1 46.0l2.0 -1.61M5.5 10.0l1.8 -0.89M37.8 50.8l1.3 2.29M18.5 22.7l1.8 -0.86M34.1 25.0l1.7 1.52M6.5 37.2l1.2 2.59M81.0 29.1l1.5 0.79M4.9 34.2l0.9 0.64M68.1 2.3l0.1 -0.15M80.8 46.8l1.0 -0.12M66.0 12.3l0.7 -0.60M5.6 39.9l1.2 -0.71M49.3 58.0l1.3 0.99M53.7 44.2l0.9 -0.93M23.1 30.3l0.4 -0.20M14.5 17.2l0.8 0.56M37.6 3.8l1.1 2.04M29.0 49.9l1.0 1.62M60.7 45.9l0.3 -0.18M42.9 30.6l1.4 0.93M33.3 5.4l0.8 -0.70M63.0 7.1l0.2 1.45M46.4 17.4l1.6 2.03M81.3 10.9l1.1 1.54M12.6 46.3l0.9 0.64" stroke="#3d801c" stroke-width="2.5"/><path d="M21.7 25.8l0.0 0.26M15.8 10.3l0.5 -0.58M76.0 18.6l0.4 -0.51M70.3 50.9l0.6 0.40M20.2 21.1l0.7 0.54M3.5 61.1l0.5 -0.76M31.1 17.6l1.7 -0.78M10.8 34.7l0.0 -0.03M15.7 39.5l1.2 -1.23M27.5 50.4l1.1 -0.48M36.8 57.1l0.3 -0.45M63.5 41.1l0.6 0.42M49.8 60.9l1.5 -0.61M40.5 3.0l1.4 -0.51M22.2 42.0l0.2 -0.11M47.6 16.5l1.0 -1.50M-0.1 27.4l0.3 1.07M24.5 43.9l0.1 -0.85" stroke="#204a12" stroke-width="1.5"/><path d="M27.1 10.3l0.9 2.13M15.2 34.7l0.1 0.02M1.7 45.5l0.5 1.68M49.6 2.6l0.1 0.04M78.3 1.0l0.3 -1.83M39.5 49.3l0.0 0.19M7.5 30.5l0.2 -2.28M76.5 53.1l0.6 0.33M45.8 53.9l0.2 0.38M9.4 43.3l1.6 -1.46M57.1 53.5l0.2 -0.32M53.8 26.8l0.7 0.83M60.5 52.5l1.8 -1.34M50.7 4.6l0.9 -0.61M68.5 27.7l0.2 0.30M50.0 17.1l1.6 -1.03M43.5 53.4l0.1 -0.06M82.1 3.7l0.2 -0.26M48.6 38.6l2.4 -1.21M21.6 8.2l1.4 2.18M12.9 7.5l1.5 -1.16M44.5 28.2l0.6 2.08M17.2 29.4l0.2 -0.26M47.4 60.2l0.2 0.29" stroke="#4c9a20" stroke-width="2.0"/><path d="M15.2 3.0l0.1 0.07M64.0 45.7l0.1 -0.25M32.2 8.8l0.4 -0.46M19.1 34.8l1.4 -1.39M0.9 7.5l1.5 -1.00M52.2 8.0l0.1 0.32M29.2 13.0l0.4 0.16M29.7 8.4l0.4 -1.75M15.5 32.6l1.3 -1.54M24.8 32.0l0.3 0.19M59.0 9.7l1.1 0.48M0.6 42.0l0.2 -0.32M20.7 28.8l2.3 -1.72M40.7 33.6l1.0 0.82M12.0 27.0l2.0 0.15M25.2 23.7l0.0 1.07M1.3 17.5l1.3 -1.25M71.9 26.8l1.4 1.01M70.6 38.1l0.4 0.49M67.5 40.0l0.2 -0.09M48.2 50.2l0.5 -0.60M65.1 31.5l1.0 -0.03M49.1 41.0l0.6 -0.57M81.5 19.8l0.1 0.18M39.4 23.5l0.6 -0.50M38.4 15.7l0.1 0.07M33.7 25.0l0.2 -1.32M23.4 57.0l1.2 1.76M7.4 13.1l0.4 0.75M72.8 29.8l2.1 -0.47M78.2 60.0l0.9 -0.60M29.1 0.8l2.2 0.30M37.2 8.9l0.8 1.94M20.4 15.7l0.1 -0.10M8.1 11.7l0.9 -1.57M19.6 45.4l1.3 2.05M63.9 50.4l0.1 0.07" stroke="#2f6517" stroke-width="2.0"/><path d="M7.0 28.0l0.9 -1.37M34.9 16.1l1.8 0.86M30.9 52.2l0.3 0.30M55.5 49.0l0.4 -0.29M20.9 7.0l1.3 0.88M23.2 34.6l1.0 -1.47M6.0 3.9l1.5 0.75M29.7 43.3l1.9 -0.91M1.6 35.4l0.6 0.49M52.8 57.0l0.8 -0.34M20.5 2.9l0.2 0.20M36.4 22.5l1.1 -1.55M2.8 53.6l0.3 0.18M73.1 45.7l0.7 -0.88M60.1 61.6l0.4 -0.18M77.1 1.3l2.2 -0.00M52.2 15.5l0.2 0.10M75.5 36.2l0.2 0.29M68.7 35.9l1.6 0.98M46.6 43.2l0.1 0.12M7.2 56.6l0.8 -1.25M33.1 43.9l1.8 -0.56M26.9 17.6l0.9 -0.68" stroke="#2f6517" stroke-width="1.5"/><path d="M73.4 10.9l0.7 -0.70M9.0 49.9l0.2 -0.21M43.0 9.0l2.0 -0.77M78.3 38.5l0.6 -0.55M43.5 25.1l1.7 -1.51M45.2 30.9l0.2 0.24M22.2 45.1l0.5 -0.80M75.6 27.8l0.1 0.18M74.5 48.9l1.1 -1.61M3.7 25.4l0.6 -0.42M28.6 29.1l0.3 0.74M61.2 55.7l1.4 -0.96M26.7 15.0l0.1 0.07M69.2 29.7l0.2 0.26M42.1 47.3l2.1 -1.14M80.1 41.1l0.9 -0.65M20.5 38.7l0.9 0.97M32.8 36.8l1.4 -1.14M39.2 42.6l0.2 -0.16M48.5 45.9l0.4 2.20M48.3 42.5l0.6 0.28M55.6 37.1l0.4 -0.44M16.7 43.9l0.3 -0.18M36.4 59.5l1.6 -2.04M3.5 23.7l1.6 0.33M15.5 24.4l0.0 1.55M35.5 41.7l1.6 -0.62M17.7 39.9l1.7 0.82" stroke="#204a12" stroke-width="2.0"/><path d="M40.0 31.4l2.1 1.84M4.3 10.5l2.4 0.96M61.3 5.7l1.4 -1.67M50.9 21.4l1.2 -1.46M18.5 44.9l1.6 0.71M79.0 43.9l0.8 1.70M67.3 35.5l1.2 0.89M32.3 5.3l1.3 1.81M51.4 33.4l0.6 -1.01M23.1 0.4l1.9 1.62M51.3 31.4l0.4 -0.28M29.6 25.9l1.2 1.62M43.1 21.3l0.8 -0.32M64.3 30.5l0.1 -0.67M44.6 27.3l2.4 1.23M49.8 27.2l1.4 -2.17M63.0 55.7l2.1 -1.12M2.4 9.1l0.6 1.42M53.2 29.0l0.7 0.35M48.4 28.5l1.7 -1.27M67.6 4.7l0.6 0.58M56.2 21.2l0.4 0.90M16.7 11.5l0.5 1.13M56.4 58.4l1.1 -1.42M31.4 1.2l0.6 1.51M60.1 52.7l0.7 1.82" stroke="#3d801c" stroke-width="2.0"/><path d="M71.8 6.2l2.7 1.51M74.9 50.4l1.2 -0.88M68.0 51.2l1.0 1.05M30.8 40.6l0.0 0.05M4.1 33.9l0.4 -0.16M4.1 32.0l0.9 -0.94M67.1 45.1l0.9 2.01M29.2 11.2l1.4 -1.52M18.5 23.7l1.3 2.07M17.0 42.2l0.5 -0.67M63.1 20.5l1.2 0.88M37.2 28.0l0.3 -0.25M47.6 19.2l1.1 0.99M8.1 21.8l2.2 0.97M77.0 55.4l0.3 -1.74" stroke="#204a12" stroke-width="2.5"/><path d="M41.0 44.1l1.9 -2.44M74.2 57.7l0.3 -0.24M55.7 46.9l0.1 -0.51M46.9 56.7l1.0 1.53M27.1 58.0l3.2 0.27M76.2 15.0l2.2 0.44M23.7 13.0l0.4 -0.35M24.8 59.0l0.6 -0.44M0.6 36.8l1.0 2.53M39.1 61.8l0.8 -1.20M46.5 9.6l0.4 -0.36M72.9 0.9l0.0 0.05M74.9 4.2l0.2 -2.99M52.1 19.9l1.4 2.82M20.5 44.8l0.4 -0.18M48.2 54.6l0.2 0.36M65.5 45.6l0.1 0.27M37.8 33.9l0.7 0.60M53.5 52.0l1.3 -0.85M73.9 53.6l1.5 1.64M70.7 19.0l0.1 0.06M0.8 58.4l0.0 -0.11" stroke="#2f6517" stroke-width="2.5"/><path d="M43.7 6.5l1.9 -1.45M32.5 25.3l0.2 1.15M14.6 55.9l0.2 0.46M81.8 27.4l1.0 0.88M54.1 18.5l0.5 0.61M26.0 37.8l0.4 0.47M57.0 19.7l0.1 0.24" stroke="#4c9a20" stroke-width="2.5"/><path d="M53.3 15.6l0.2 0.86M47.3 15.0l0.4 -1.85M23.8 16.5l1.4 1.30M17.8 23.5l0.6 0.30M30.3 46.2l0.1 0.18M47.9 44.2l1.9 0.95M25.0 2.9l0.8 -1.08M34.9 59.2l1.5 -1.13M13.3 10.5l0.1 0.39M53.3 38.2l0.2 -0.24M28.6 15.2l0.1 -0.02M66.5 18.2l1.0 0.51M58.4 20.3l0.4 0.53" stroke="#3d801c" stroke-width="1.5"/><path d="M25.1 49.4l0.2 -0.17M76.4 25.0l0.5 -0.50M48.3 33.9l1.0 -1.13M30.4 37.4l2.0 0.38M58.0 61.1l1.1 -0.47M44.7 36.6l0.1 0.14M60.4 57.8l2.3 -0.83M2.9 36.3l1.0 0.68" stroke="#889a20" stroke-width="2.0"/><path d="M6.9 22.4l0.8 1.33M39.2 7.5l1.1 -0.51M61.6 26.1l0.6 -1.06M76.0 31.8l1.3 0.27M17.1 52.9l0.1 0.24M60.5 17.5l1.1 0.70" stroke="#889a20" stroke-width="2.5"/><path d="M9.7 33.5l0.5 -0.61" stroke="#889a20" stroke-width="1.5"/></g><g filter="url(#b1)" fill="none" stroke-linecap="round"><path d="M78.7 8.6l0.4 0.19M7.3 27.5l0.2 -0.36M78.4 0.3l0.1 -0.49M20.3 21.3l0.4 0.30M16.1 39.1l0.3 -0.31M41.0 2.8l0.4 -0.14M20.4 2.9l0.3 0.28M38.7 37.9l0.3 0.26" stroke="#a89619" stroke-width="1.0"/><path d="M21.9 3.3l0.6 -0.43M1.8 46.1l0.2 0.58M41.4 22.8l0.5 -0.51M7.6 29.6l0.1 -0.60M82.0 27.6l0.5 0.45M20.7 38.9l0.4 0.44M34.7 25.6l0.5 0.47M48.1 54.5l0.4 0.56M39.4 23.5l0.5 -0.39M13.4 7.1l0.5 -0.35M60.3 53.3l0.2 0.57" stroke="#c0aa1e" stroke-width="1.5"/><path d="M73.5 10.8l0.4 -0.41M44.4 5.9l0.5 -0.40M74.1 57.8l0.5 -0.47M7.2 22.8l0.3 0.58M32.5 25.5l0.1 0.65M76.4 25.0l0.4 -0.42M23.6 13.0l0.5 -0.48M51.5 33.1l0.3 -0.46M1.7 17.1l0.4 -0.38M46.4 9.7l0.5 -0.43M29.7 10.7l0.4 -0.49M67.3 40.1l0.5 -0.26M18.9 24.4l0.3 0.57M44.7 29.0l0.2 0.58M70.5 18.9l0.7 0.24M47.0 18.1l0.4 0.54M15.5 24.8l0.0 0.62" stroke="#a89619" stroke-width="1.5"/><path d="M35.6 16.5l0.4 0.19M55.5 49.0l0.3 -0.26M79.3 44.5l0.2 0.48M63.6 41.2l0.4 0.27M12.8 27.1l0.5 0.05M13.3 10.5l0.1 0.43M64.3 30.4l0.1 -0.52M50.6 16.7l0.5 -0.28M56.3 21.4l0.2 0.51M69.3 36.3l0.4 0.24M33.8 43.7l0.4 -0.13M18.3 40.2l0.4 0.22" stroke="#c0aa1e" stroke-width="1.0"/><path d="M51.3 31.5l0.4 -0.33M5.0 34.3l0.5 0.39M53.9 44.0l0.5 -0.50M60.8 17.6l0.5 0.34M73.6 29.6l0.6 -0.12M74.4 54.2l0.5 0.50" stroke="#908214" stroke-width="1.5"/><path d="M4.4 31.8l0.5 -0.49" stroke="#d8be23" stroke-width="1.5"/><path d="M58.3 61.0l0.4 -0.19" stroke="#908214" stroke-width="1.0"/></g><rect x="74.2" y="58.6" width="6.4" height="1.5" fill="#e8d820"/></svg>
<text x="497.90" y="502.56" font-size="10.5" text-anchor="end" fill="#e2382c" font-weight="normal" stroke="#e2382c" stroke-width="0.22">591 nm</text>
<text x="581.20" y="502.56" font-size="10.5" text-anchor="end" fill="#84c82a" font-weight="normal" stroke="#84c82a" stroke-width="0.22">510 nm</text>
<text x="666.6" y="501.36" font-size="10.5" text-anchor="end" fill="#e2382c" stroke="#e2382c" stroke-width="0.22">Mer<tspan fill="#84c82a" stroke="#84c82a">ge</tspan></text>
<text x="385.30" y="539.78" font-size="10" text-anchor="start" fill="#111" font-weight="normal" stroke="#111" stroke-width="0.2">COFF</text>
<text x="385.30" y="601.98" font-size="10" text-anchor="start" fill="#111" font-weight="normal" stroke="#111" stroke-width="0.2">EMFF</text>
<svg x="416.3" y="663.3" width="123.8" height="95.3"><g filter="url(#tn)"><rect width="123.8" height="95.3" fill="#a6a6a6"/><path d="M42.9,11.2 Q43.5,15.9 47.9,20.7 Q52.4,25.4 58.1,28.8 Q63.8,32.1 71.4,34.4 Q79.0,36.8 87.5,37.3 Q96.0,37.8 103.6,35.9 Q111.2,34.0 117.9,29.7 L124.5,25.4 L124.5,-1.1 L42.9,-1.1Z" fill="#adadad"/><g filter="url(#b2)"><path d="M42.9,11.2 Q45.2,19.7 49.7,22.8 Q54.3,25.8 60.0,28.5 Q65.7,31.1 73.3,33.2 Q80.9,35.3 88.4,35.6 Q96.0,35.9 103.6,34.0 Q111.2,32.1 117.4,28.6 L123.6,25.1" fill="none" stroke="#6c6c6c" stroke-width="3.2"/><ellipse cx="58.1" cy="16.9" rx="10.4" ry="5.3" fill="#7a7a7a" /><ellipse cx="88.1" cy="15.9" rx="13.7" ry="11.0" fill="#565656" /><ellipse cx="88.1" cy="8.4" rx="9.5" ry="4.7" fill="#6a6a6a" /><ellipse cx="111.2" cy="12.1" rx="8.5" ry="9.5" fill="#bdbdbd" /><ellipse cx="71.4" cy="25.4" rx="7.6" ry="4.2" fill="#c0c0c0" /><path d="M33.4,-0.4 Q43.8,6.1 49.1,7.4 Q54.3,8.7 60.9,8.2 Q67.6,7.6 71.4,8.4 L75.2,9.1" fill="none" stroke="#c4c4c4" stroke-width="2.6"/></g><path d="M33.4,-1.1 Q42.9,3.8 48.6,5.1 Q54.3,6.5 60.9,6.1 Q67.6,5.7 72.3,6.3 L77.1,6.8" fill="none" stroke="#555" stroke-width="1.2" filter="url(#b0)"/><path d="M0.0,39.7 Q4.9,44.4 8.7,49.2 Q12.5,53.9 17.3,58.6 Q22.0,63.4 28.7,66.7 Q35.3,70.0 43.8,73.4 Q52.4,76.7 60.9,80.5 Q69.5,84.3 76.1,87.6 Q82.7,90.9 84.6,93.3 L86.5,95.7 L0.0,95.7Z" fill="#ebebe9"/><g filter="url(#b1)"><ellipse cx="38.1" cy="22.6" rx="4.6" ry="6.8" fill="#8a8a8a" stroke="#747474" stroke-width="0.5" transform="rotate(-20 38.1 22.6)"/><ellipse cx="18.2" cy="39.7" rx="4.2" ry="4.2" fill="#8a8a8a" stroke="#747474" stroke-width="0.5" transform="rotate(0 18.2 39.7)"/><ellipse cx="28.7" cy="41.6" rx="4.6" ry="4.2" fill="#8a8a8a" stroke="#747474" stroke-width="0.5" transform="rotate(0 28.7 41.6)"/><ellipse cx="41.4" cy="37.8" rx="4.6" ry="4.2" fill="#8a8a8a" stroke="#747474" stroke-width="0.5" transform="rotate(0 41.4 37.8)"/><ellipse cx="61.9" cy="38.7" rx="4.2" ry="3.4" fill="#8a8a8a" stroke="#747474" stroke-width="0.5" transform="rotate(0 61.9 38.7)"/><ellipse cx="47.6" cy="47.8" rx="4.6" ry="3.8" fill="#8a8a8a" stroke="#747474" stroke-width="0.5" transform="rotate(0 47.6 47.8)"/><ellipse cx="71.7" cy="51.1" rx="4.9" ry="3.8" fill="#8a8a8a" stroke="#747474" stroke-width="0.5" transform="rotate(0 71.7 51.1)"/><ellipse cx="38.1" cy="55.8" rx="5.3" ry="4.2" fill="#8a8a8a" stroke="#747474" stroke-width="0.5" transform="rotate(0 38.1 55.8)"/><ellipse cx="60.9" cy="53.9" rx="2.7" ry="2.7" fill="#8a8a8a" stroke="#747474" stroke-width="0.5" transform="rotate(0 60.9 53.9)"/><ellipse cx="80.9" cy="55.8" rx="3.4" ry="3.8" fill="#8a8a8a" stroke="#747474" stroke-width="0.5" transform="rotate(0 80.9 55.8)"/><ellipse cx="95.1" cy="54.8" rx="2.8" ry="2.8" fill="#8a8a8a" stroke="#747474" stroke-width="0.5" transform="rotate(0 95.1 54.8)"/><ellipse cx="72.3" cy="68.1" rx="3.8" ry="3.4" fill="#8a8a8a" stroke="#747474" stroke-width="0.5" transform="rotate(0 72.3 68.1)"/><ellipse cx="97.0" cy="71.9" rx="5.7" ry="5.3" fill="#8a8a8a" stroke="#747474" stroke-width="0.5" transform="rotate(0 97.0 71.9)"/><ellipse cx="109.3" cy="70.0" rx="4.6" ry="4.6" fill="#8a8a8a" stroke="#747474" stroke-width="0.5" transform="rotate(0 109.3 70.0)"/><ellipse cx="119.8" cy="42.5" rx="2.7" ry="3.8" fill="#8a8a8a" stroke="#747474" stroke-width="0.5" transform="rotate(0 119.8 42.5)"/><ellipse cx="52.4" cy="62.4" rx="2.3" ry="2.3" fill="#8a8a8a" stroke="#747474" stroke-width="0.5" transform="rotate(0 52.4 62.4)"/><ellipse cx="25.8" cy="62.4" rx="1.7" ry="1.7" fill="#8a8a8a" stroke="#747474" stroke-width="0.5" transform="rotate(0 25.8 62.4)"/><ellipse cx="103.6" cy="51.1" rx="8.0" ry="1.5" fill="#8a8a8a" stroke="#747474" stroke-width="0.5" transform="rotate(5 103.6 51.1)"/><ellipse cx="113.1" cy="53.9" rx="2.3" ry="2.7" fill="#8a8a8a" stroke="#747474" stroke-width="0.5" transform="rotate(0 113.1 53.9)"/><ellipse cx="120.3" cy="71.9" rx="4.2" ry="6.5" fill="#f1f1f1" /><ellipse cx="11.0" cy="19.7" rx="1.9" ry="1.7" fill="#d4d4d4" /><ellipse cx="23.0" cy="19.4" rx="1.5" ry="1.7" fill="#dadada" /><ellipse cx="21.1" cy="30.7" rx="1.7" ry="1.1" fill="#d0d0d0" /><ellipse cx="110.3" cy="55.8" rx="1.7" ry="1.5" fill="#cfcfcf" /></g><path d="M42.9,11.2 Q43.5,15.9 47.9,20.7 Q52.4,25.4 58.1,28.8 Q63.8,32.1 71.4,34.4 Q79.0,36.8 87.5,37.3 Q96.0,37.8 103.6,35.9 Q111.2,34.0 117.9,29.7 L124.5,25.4" fill="none" stroke="#3a3a3a" stroke-width="1.5" filter="url(#b0)"/><path d="M0.0,39.7 Q4.9,44.4 8.7,49.2 Q12.5,53.9 17.3,58.6 Q22.0,63.4 28.7,66.7 Q35.3,70.0 43.8,73.4 Q52.4,76.7 60.9,80.5 Q69.5,84.3 76.1,87.6 Q82.7,90.9 84.6,93.3 L86.5,95.7" fill="none" stroke="#7e7e7e" stroke-width="0.9" filter="url(#b1)"/></g><polygon fill="#f6e02e" points="29.0,10.0 25.3,15.2 33.2,16.4"/><polygon fill="#f6e02e" points="30.7,28.0 27.0,33.2 34.9,34.4"/><polygon fill="#f6e02e" points="53.7,28.0 50.0,33.2 57.9,34.4"/><polygon fill="#f6e02e" points="37.0,41.3 33.3,46.5 41.2,47.7"/><polygon fill="#f6e02e" points="26.6,47.4 22.9,52.6 30.8,53.8"/><polygon fill="#f6e02e" points="61.3,43.0 57.6,48.2 65.5,49.4"/><polygon fill="#f6e02e" points="91.7,41.7 88.0,46.9 95.9,48.1"/><polygon fill="#f6e02e" points="61.7,59.7 58.0,64.9 65.9,66.1"/><polygon fill="#f6e02e" points="87.9,59.7 84.2,64.9 92.1,66.1"/><rect x="0" y="91.5" width="123.8" height="3.8" fill="#0a0a0a"/><rect x="1" y="92.1" width="30" height="0.8" fill="#999"/><rect x="1" y="93.7" width="14" height="0.7" fill="#888"/><rect x="103.8" y="92.3" width="18" height="0.6" fill="#777"/></svg>
<svg x="543.3" y="663.3" width="123.2" height="95.3"><g filter="url(#tn2)"><rect width="123.2" height="95.3" fill="#a0a0a0"/><path d="M36.6,-1.1 Q42.3,12.1 43.7,19.7 Q45.2,27.3 45.0,34.0 Q44.8,40.6 41.7,44.9 Q38.5,49.2 30.5,51.1 Q22.4,53.0 10.5,53.0 L-1.3,53.0 L-1.3,-1.1Z" fill="#a9a9a9"/><path d="M86.0,-1.1 Q96.4,10.2 101.2,15.9 Q105.9,21.6 110.6,26.4 Q115.4,31.1 120.1,34.9 L124.9,38.7 L124.9,-1.1Z" fill="#d8d8d8"/><g filter="url(#b2)"><path d="M111.6,-1.1 Q112.7,15.9 116.0,22.6 Q119.2,29.2 122.0,32.1 L124.9,34.9 L124.9,-1.1Z" fill="#b2b2b2"/><path d="M81.2,0.8 Q92.6,13.1 97.4,19.3 Q102.1,25.4 107.8,31.6 Q113.5,37.8 118.7,43.9 L123.9,50.1" fill="none" stroke="#868686" stroke-width="5"/><path d="M0.0,82.4 Q9.1,86.5 13.9,88.9 Q18.6,91.3 22.4,93.0 L26.2,94.7 L0.0,94.7Z" fill="#bcbcbc"/></g><g filter="url(#b1)"><ellipse cx="49.9" cy="18.2" rx="3.8" ry="4.7" fill="#7e7e7e" stroke="#5a5a5a" stroke-width="0.5"/><ellipse cx="71.7" cy="13.1" rx="3.8" ry="3.8" fill="#727272" stroke="#5a5a5a" stroke-width="0.5"/><ellipse cx="66.0" cy="31.1" rx="3.4" ry="3.2" fill="#7a7a7a" stroke="#5a5a5a" stroke-width="0.5"/><ellipse cx="83.1" cy="58.6" rx="4.2" ry="3.6" fill="#707070" stroke="#5a5a5a" stroke-width="0.5"/><ellipse cx="96.4" cy="55.8" rx="3.4" ry="3.0" fill="#888888" stroke="#5a5a5a" stroke-width="0.5"/><ellipse cx="89.8" cy="65.7" rx="2.7" ry="2.7" fill="#787878" stroke="#5a5a5a" stroke-width="0.5"/><ellipse cx="49.9" cy="74.8" rx="3.4" ry="4.9" fill="#808080" stroke="#5a5a5a" stroke-width="0.5"/><ellipse cx="79.3" cy="48.6" rx="2.8" ry="2.7" fill="#868686" stroke="#5a5a5a" stroke-width="0.5"/><ellipse cx="60.4" cy="15.9" rx="2.3" ry="2.3" fill="#939393" stroke="#5a5a5a" stroke-width="0.5"/><ellipse cx="43.3" cy="60.5" rx="3.8" ry="2.7" fill="#8e8e8e" stroke="#5a5a5a" stroke-width="0.5"/><ellipse cx="77.4" cy="30.2" rx="1.9" ry="2.7" fill="#7c7c7c" stroke="#5a5a5a" stroke-width="0.5"/><ellipse cx="101.2" cy="54.8" rx="1.9" ry="2.3" fill="#858585" stroke="#5a5a5a" stroke-width="0.5"/><ellipse cx="55.6" cy="50.1" rx="6.8" ry="7.6" fill="#f4f4f4" /><ellipse cx="61.3" cy="62.8" rx="2.8" ry="2.8" fill="#f4f4f4" /><ellipse cx="80.3" cy="74.8" rx="4.2" ry="3.8" fill="#f4f4f4" /><ellipse cx="78.4" cy="80.9" rx="2.5" ry="1.9" fill="#f4f4f4" /><ellipse cx="52.8" cy="9.3" rx="1.5" ry="1.1" fill="#f4f4f4" /><ellipse cx="54.7" cy="35.3" rx="1.1" ry="1.1" fill="#f4f4f4" /><ellipse cx="70.8" cy="23.5" rx="1.1" ry="0.9" fill="#f4f4f4" /><ellipse cx="41.0" cy="73.8" rx="1.3" ry="1.1" fill="#f4f4f4" /><ellipse cx="84.1" cy="77.6" rx="1.5" ry="1.9" fill="#f4f4f4" /></g><path d="M36.6,-1.1 Q42.3,12.1 43.7,19.7 Q45.2,27.3 45.0,34.0 Q44.8,40.6 41.7,44.9 Q38.5,49.2 30.5,51.1 Q22.4,53.0 10.5,53.0 L-1.3,53.0" fill="none" stroke="#333" stroke-width="1.5" filter="url(#b0)"/><path d="M38.5,49.2 Q22.4,53.0 10.5,53.0 L-1.3,53.0" fill="none" stroke="#333" stroke-width="2.2" filter="url(#b0)"/><path d="M86.0,-1.1 Q96.4,10.2 101.2,15.9 Q105.9,21.6 110.6,26.4 Q115.4,31.1 120.1,34.9 L124.9,38.7" fill="none" stroke="#666" stroke-width="0.9" filter="url(#b0)"/><path d="M0.0,82.4 Q9.1,86.5 13.9,88.9 Q18.6,91.3 22.4,93.0 L26.2,94.7" fill="none" stroke="#555" stroke-width="0.9" filter="url(#b0)"/></g><polygon fill="#f6e02e" points="61.1,3.7 57.4,8.9 65.3,10.1"/><polygon fill="#f6e02e" points="56.7,21.7 53.0,26.9 60.9,28.1"/><polygon fill="#f6e02e" points="74.4,38.8 70.7,44.0 78.6,45.2"/><polygon fill="#f6e02e" points="73.4,50.2 69.7,55.4 77.6,56.6"/><polygon fill="#f6e02e" points="89.9,47.9 86.2,53.1 94.1,54.3"/><polygon fill="#f6e02e" points="41.6,63.9 37.9,69.1 45.8,70.3"/><polygon fill="#f6e02e" points="78.2,66.5 85.7,67.1 81.2,72.5"/><rect x="0" y="91.5" width="123.2" height="3.8" fill="#0a0a0a"/><rect x="1" y="92.1" width="30" height="0.8" fill="#999"/><rect x="1" y="93.7" width="14" height="0.7" fill="#888"/><rect x="103.2" y="92.3" width="18" height="0.6" fill="#777"/></svg>
<text x="481.30" y="657.92" font-size="10.1" text-anchor="middle" fill="#111" font-weight="normal" stroke="#111" stroke-width="0.25">COFF</text>
<text x="608.10" y="657.92" font-size="10.1" text-anchor="middle" fill="#111" font-weight="normal" stroke="#111" stroke-width="0.25">EMFF</text>
</svg></body></html>
